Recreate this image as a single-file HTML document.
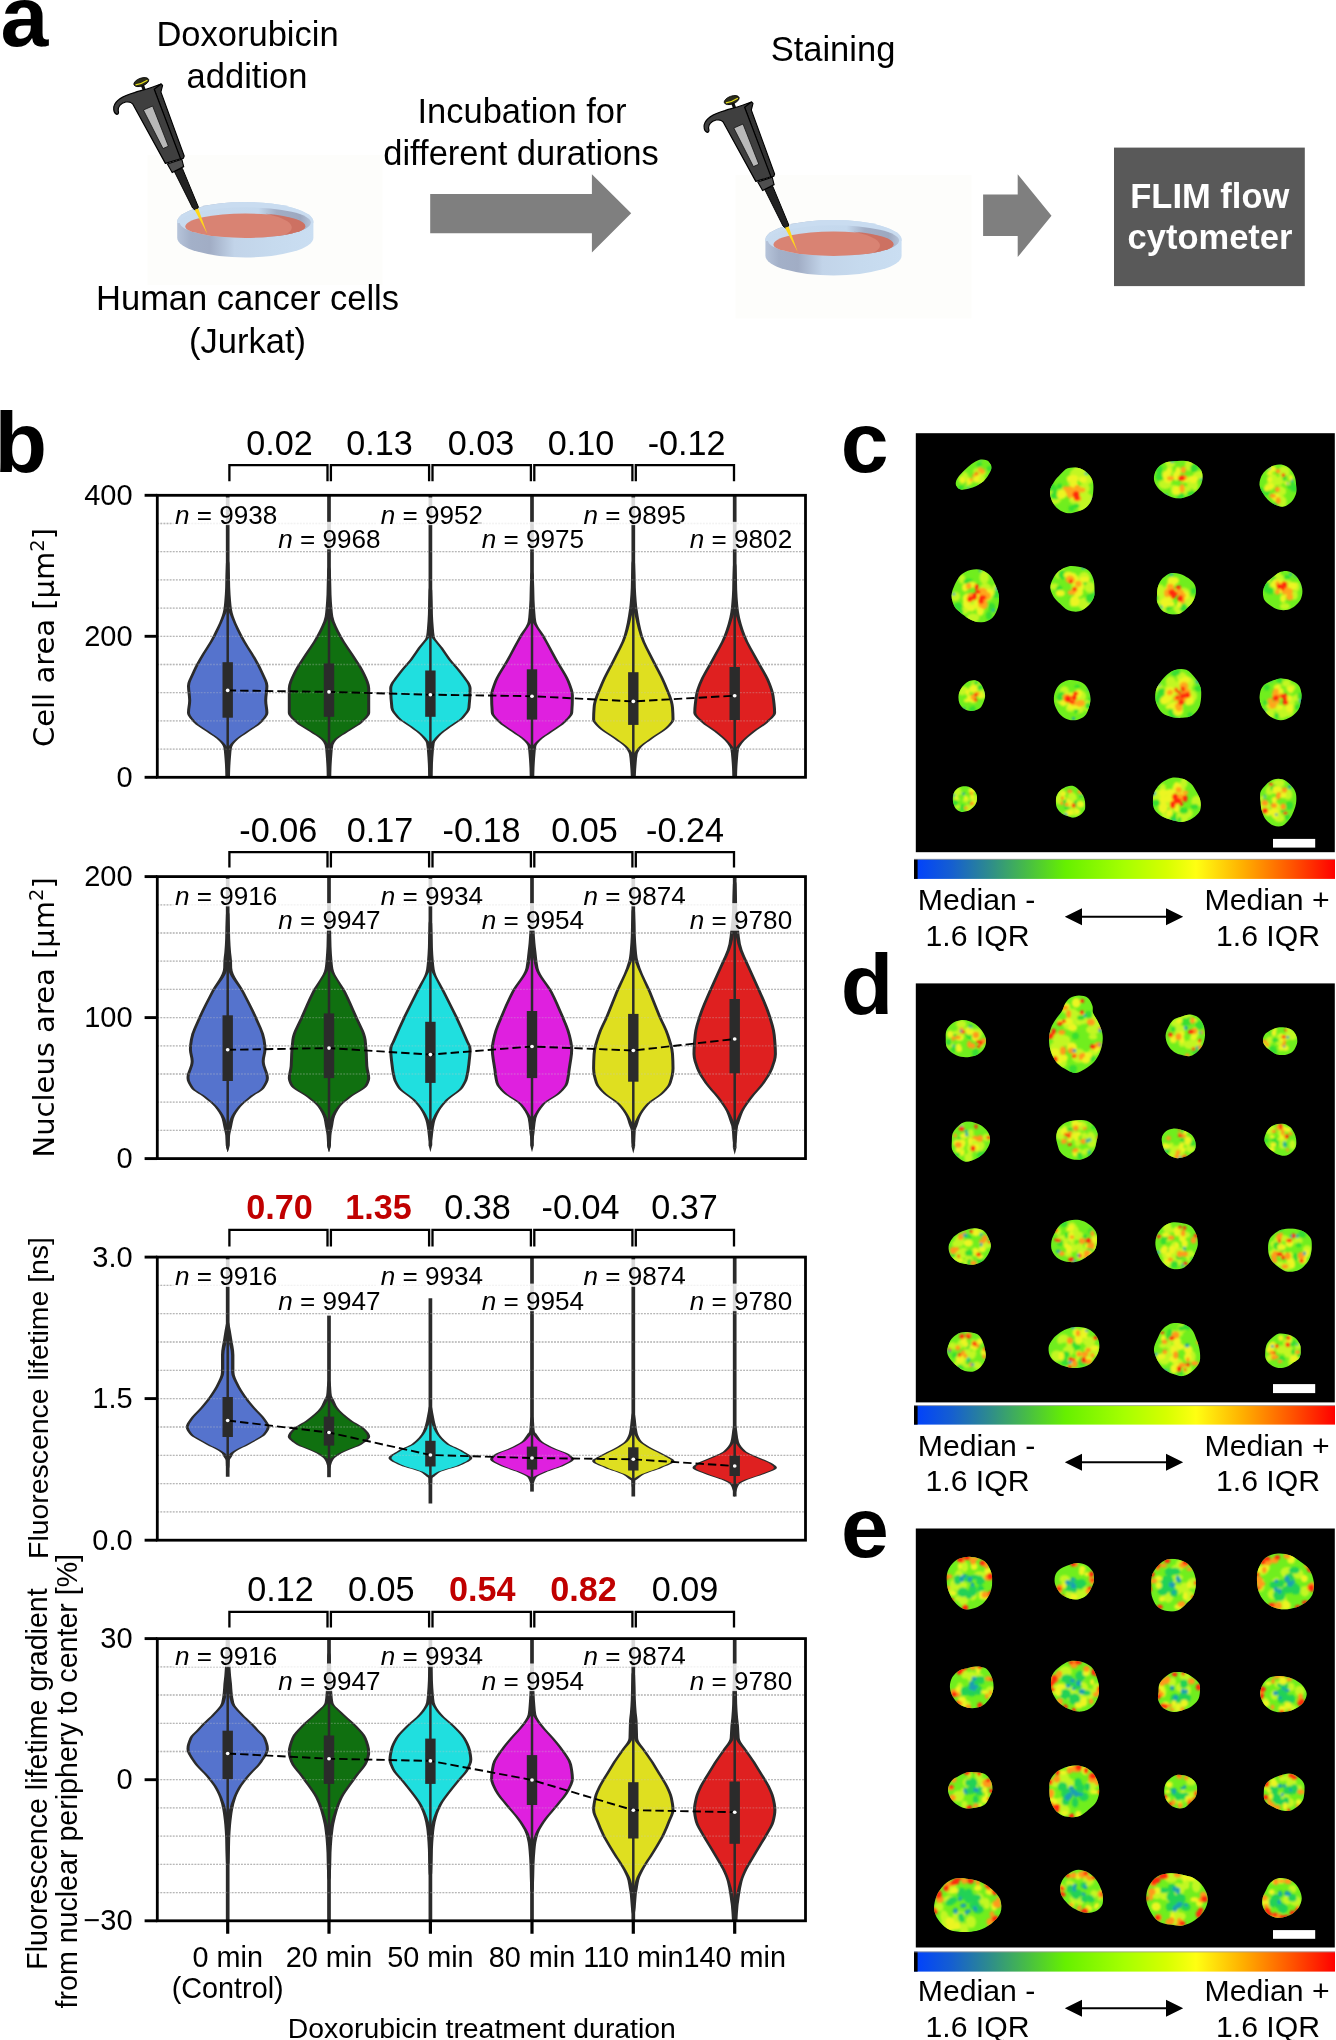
<!DOCTYPE html>
<html><head><meta charset="utf-8"><title>Figure</title>
<style>html,body{margin:0;padding:0;background:#fff}svg{display:block;will-change:transform}</style></head>
<body>
<svg width="1336" height="2040" viewBox="0 0 1336 2040" font-family='"Liberation Sans", sans-serif' fill="#000">
<defs><linearGradient id="dishSide" x1="0" x2="1" y1="0" y2="0"><stop offset="0" stop-color="#b6c4da"/><stop offset="0.1" stop-color="#a3b0c8"/><stop offset="0.24" stop-color="#a1adc5"/><stop offset="0.42" stop-color="#c2d4e9"/><stop offset="0.7" stop-color="#c6daee"/><stop offset="1" stop-color="#cadef2"/></linearGradient>
<linearGradient id="dishRim" x1="0" x2="1" y1="0" y2="0"><stop offset="0" stop-color="#c8dbef"/><stop offset="0.6" stop-color="#c4d8ed"/><stop offset="0.74" stop-color="#a2aec5"/><stop offset="0.92" stop-color="#9da8bf"/><stop offset="1" stop-color="#b4c3d9"/></linearGradient>
<filter id="bl" x="-20%" y="-20%" width="140%" height="140%"><feGaussianBlur stdDeviation="1.25"/></filter>
<linearGradient id="jet" x1="0" x2="1" y1="0" y2="0"><stop offset="0" stop-color="#0040ff"/><stop offset="0.09" stop-color="#155fd0"/><stop offset="0.18" stop-color="#2e8c8c"/><stop offset="0.27" stop-color="#48be44"/><stop offset="0.36" stop-color="#66f000"/><stop offset="0.5" stop-color="#a6ff00"/><stop offset="0.6" stop-color="#d6ff00"/><stop offset="0.67" stop-color="#ffff12"/><stop offset="0.78" stop-color="#ffb000"/><stop offset="0.9" stop-color="#ff5200"/><stop offset="1" stop-color="#ff0000"/></linearGradient>
<clipPath id="dishIn0"><ellipse cx="245.3" cy="222.6" rx="65.6" ry="15.3"/></clipPath>
<clipPath id="dishIn588"><ellipse cx="245.3" cy="222.6" rx="65.6" ry="15.3"/></clipPath>
<clipPath id="pc0"><rect x="157.3" y="495.3" width="648.2" height="282"/></clipPath>
<clipPath id="pc1"><rect x="157.3" y="876.6" width="648.2" height="282"/></clipPath>
<clipPath id="pc2"><rect x="157.3" y="1257.1" width="648.2" height="283.1"/></clipPath>
<clipPath id="pc3"><rect x="157.3" y="1638.6" width="648.2" height="282.2"/></clipPath>
<clipPath id="k1"><path d="M19.9 0C19.8 1.6 19.2 3.4 17.9 4.7C16.6 6.1 14.2 7.3 12 8.2C9.7 9.2 7.1 10.2 4.4 10.6C1.7 10.9 -1.6 10.7 -4.3 10.3C-7 9.9 -9.5 9.1 -11.9 8.2C-14.2 7.3 -17.1 6.3 -18.6 4.9C-20.1 3.6 -20.9 1.6 -20.9 0C-20.9 -1.6 -20.2 -3.6 -18.6 -4.9C-17.1 -6.3 -14 -7.2 -11.6 -8C-9.1 -8.7 -6.6 -9.2 -4 -9.6C-1.3 -10 1.4 -10.4 4.3 -10.4C7.2 -10.3 10.9 -10.1 13.3 -9.2C15.7 -8.3 17.6 -6.5 18.7 -4.9C19.8 -3.4 20 -1.6 19.9 0Z"/></clipPath>
<clipPath id="k2"><path d="M20.9 0C20.7 3.3 20.2 6.8 18.8 9.7C17.5 12.6 15.3 15.4 12.9 17.3C10.5 19.2 7.4 20.1 4.5 21C1.5 21.9 -1.7 22.9 -4.8 22.5C-7.9 22.1 -11.3 20.6 -13.9 18.6C-16.5 16.6 -18.9 13.6 -20.3 10.5C-21.7 7.4 -22.7 3.3 -22.3 0C-22 -3.3 -19.8 -6.6 -18.1 -9.3C-16.4 -12 -14.4 -14.1 -12.2 -16.3C-9.9 -18.5 -7.6 -21.3 -4.8 -22.4C-1.9 -23.5 1.8 -23.5 4.9 -22.9C8 -22.3 11.4 -20.8 13.9 -18.7C16.5 -16.6 18.9 -13.5 20.1 -10.3C21.2 -7.2 21.1 -3.3 20.9 0Z"/></clipPath>
<clipPath id="k3"><path d="M24 0C23.7 3 22.7 6.1 21 8.6C19.4 11.1 16.7 13.3 14.1 15C11.4 16.7 8.2 18.1 5 18.7C1.8 19.4 -1.9 19.4 -5 18.7C-8.2 18 -11.2 16.5 -13.9 14.8C-16.5 13.1 -19.1 11 -20.9 8.6C-22.7 6.1 -24.4 2.9 -24.6 0C-24.8 -2.9 -23.9 -6.5 -22.2 -9.1C-20.6 -11.7 -17.7 -14.3 -14.8 -15.7C-11.8 -17.2 -8 -17.3 -4.8 -17.7C-1.5 -18.1 1.7 -18.6 4.9 -18.2C8.1 -17.9 11.7 -17.1 14.6 -15.6C17.5 -14.1 20.8 -11.8 22.4 -9.2C24 -6.6 24.2 -3 24 0Z"/></clipPath>
<clipPath id="k4"><path d="M17.2 0C17.3 2.8 17.8 5.9 17.1 8.7C16.3 11.4 14.7 14.6 12.7 16.7C10.6 18.9 7.5 21.1 4.7 21.6C1.9 22 -1.6 20.8 -4.3 19.6C-6.9 18.5 -9.2 16.6 -11.1 14.7C-13.1 12.8 -14.7 10.6 -16.1 8.1C-17.4 5.7 -19.1 2.8 -19.4 0C-19.6 -2.8 -18.7 -6.2 -17.5 -8.9C-16.2 -11.5 -14.1 -13.9 -11.9 -15.7C-9.7 -17.5 -7 -19.1 -4.3 -19.8C-1.6 -20.5 1.6 -20.6 4.3 -19.9C7 -19.2 9.8 -17.5 11.7 -15.5C13.7 -13.5 15.1 -10.7 16 -8.1C16.9 -5.5 17 -2.8 17.2 0Z"/></clipPath>
<clipPath id="k5"><path d="M22.9 0C23.3 3.6 23.2 7.7 22.2 11.4C21.1 15.1 19.3 19.5 16.5 22.1C13.8 24.7 9.4 26.6 5.8 26.9C2.1 27.3 -1.9 25.6 -5.2 24.1C-8.4 22.7 -11 20.6 -13.8 18.4C-16.5 16.2 -19.6 14.1 -21.4 11C-23.2 7.9 -24.4 3.6 -24.3 0C-24.3 -3.6 -22.7 -7.5 -21.2 -10.9C-19.6 -14.3 -17.8 -17.9 -15.2 -20.4C-12.6 -22.8 -8.9 -24.6 -5.4 -25.5C-2 -26.3 2.1 -26.6 5.5 -25.6C8.8 -24.6 12.3 -22.2 14.7 -19.6C17 -17 18.3 -13.4 19.7 -10.1C21 -6.8 22.5 -3.6 22.9 0Z"/></clipPath>
<clipPath id="k6"><path d="M20.9 0C21 3 21.4 6.3 20.4 9.2C19.4 12.1 17.4 15.2 14.9 17.5C12.5 19.9 9.1 22.5 5.7 23.3C2.3 24.1 -2.2 23.5 -5.4 22.2C-8.6 21 -11.1 18 -13.4 15.8C-15.8 13.5 -18.2 11.5 -19.8 8.9C-21.4 6.3 -23 3 -23.1 0C-23.2 -3 -22 -6.4 -20.5 -9.2C-19.1 -12.1 -17 -14.9 -14.5 -16.9C-11.9 -19 -8.5 -20.9 -5.3 -21.6C-2 -22.3 1.8 -21.8 5.2 -21.2C8.5 -20.5 12.6 -19.7 15 -17.6C17.5 -15.6 18.9 -11.9 19.9 -9C20.9 -6 20.8 -3 20.9 0Z"/></clipPath>
<clipPath id="k7"><path d="M20.2 0C19.9 2.9 18.6 5.7 17.2 8.1C15.8 10.5 13.8 12.4 11.7 14.4C9.6 16.3 7.4 18.7 4.6 19.8C1.9 20.8 -1.8 21.1 -4.8 20.6C-7.8 20 -11.3 18.6 -13.6 16.6C-15.8 14.6 -17.4 11.3 -18.3 8.6C-19.1 5.8 -18.6 2.8 -18.4 0C-18.3 -2.8 -18.1 -5.5 -17.2 -8.1C-16.2 -10.7 -14.8 -13.5 -12.7 -15.6C-10.6 -17.6 -7.7 -19.8 -4.8 -20.5C-1.9 -21.2 1.7 -20.6 4.6 -19.8C7.6 -19 10.3 -17.4 12.8 -15.6C15.2 -13.8 18 -11.6 19.2 -9C20.5 -6.4 20.5 -2.9 20.2 0Z"/></clipPath>
<clipPath id="k8"><path d="M19 0C19.1 2.8 18.4 6 17.2 8.5C15.9 11 13.7 13.2 11.6 14.9C9.4 16.6 6.8 18.1 4.2 18.8C1.5 19.4 -1.5 19.4 -4.2 18.8C-6.8 18.2 -9.4 16.8 -11.8 15.2C-14.2 13.6 -17.3 11.8 -18.8 9.3C-20.2 6.7 -20.7 2.9 -20.4 0C-20.1 -2.9 -18.4 -6 -16.8 -8.3C-15.2 -10.6 -12.7 -11.9 -10.6 -13.7C-8.5 -15.4 -6.6 -17.6 -4.1 -18.6C-1.6 -19.7 1.7 -20.3 4.4 -19.8C7.1 -19.3 10 -17.5 12.1 -15.6C14.2 -13.7 15.8 -11 17 -8.4C18.1 -5.8 19 -2.8 19 0Z"/></clipPath>
<clipPath id="k9"><path d="M13.1 0C13 2.2 12.2 4.5 11.4 6.5C10.6 8.6 9.6 10.8 8.1 12.1C6.7 13.4 4.6 13.9 2.7 14.4C0.9 14.8 -1 15.1 -2.8 14.8C-4.7 14.5 -6.8 13.8 -8.4 12.6C-10 11.3 -11.7 9.3 -12.6 7.2C-13.4 5.1 -13.7 2.3 -13.5 0C-13.3 -2.3 -12.4 -4.6 -11.4 -6.5C-10.4 -8.5 -9.1 -10.1 -7.7 -11.4C-6.2 -12.8 -4.6 -14.2 -2.8 -14.9C-1.1 -15.6 1.1 -16.1 3 -15.7C4.9 -15.4 7 -14.1 8.4 -12.6C9.9 -11.1 10.8 -8.8 11.6 -6.7C12.4 -4.6 13.1 -2.2 13.1 0Z"/></clipPath>
<clipPath id="k10"><path d="M18 0C18 2.7 17.2 5.4 16.3 8.1C15.4 10.7 14.4 14 12.5 16C10.5 18 7.3 19.5 4.5 20.1C1.7 20.7 -1.7 20.5 -4.4 19.6C-7.1 18.8 -9.7 17 -11.7 15.1C-13.7 13.1 -15.3 10.6 -16.4 8.1C-17.6 5.6 -18.5 2.8 -18.6 0C-18.7 -2.8 -18.2 -5.9 -17.1 -8.5C-16.1 -11.1 -14.3 -13.8 -12.2 -15.7C-10 -17.5 -7.1 -19 -4.4 -19.6C-1.6 -20.1 1.5 -19.7 4.2 -19C7 -18.3 10 -17.3 12 -15.5C14.1 -13.7 15.7 -10.8 16.7 -8.2C17.7 -5.7 18.1 -2.7 18 0Z"/></clipPath>
<clipPath id="k11"><path d="M22.6 0C22.4 3.6 20.9 7.2 19.5 10.4C18 13.6 16.2 17 13.8 19.2C11.4 21.5 8 23.2 4.9 23.8C1.8 24.4 -1.6 23.6 -4.7 22.8C-7.8 21.9 -10.7 20.8 -13.6 18.9C-16.5 17.1 -20.1 14.9 -21.9 11.7C-23.7 8.6 -24.7 3.8 -24.5 0C-24.4 -3.8 -22.9 -8.2 -21 -11.2C-19.1 -14.3 -15.9 -16.4 -13.2 -18.3C-10.5 -20.3 -7.8 -21.9 -4.7 -23C-1.7 -24.1 1.8 -25.2 5.1 -24.9C8.4 -24.6 12.6 -23.4 15.2 -21.1C17.7 -18.8 19.4 -14.6 20.6 -11C21.9 -7.5 22.8 -3.6 22.6 0Z"/></clipPath>
<clipPath id="k12"><path d="M21.3 0C21 2.7 19.9 5.3 18.7 7.8C17.5 10.3 16.2 13.2 14 15.2C11.8 17.3 8.5 19.1 5.3 20.1C2 21 -2.3 21.7 -5.5 20.9C-8.7 20.1 -11.9 17.5 -14.1 15.3C-16.3 13.1 -17.6 10.4 -18.7 7.8C-19.9 5.3 -20.7 2.7 -20.9 0C-21.1 -2.7 -20.7 -5.5 -19.7 -8.2C-18.7 -10.9 -17.2 -14.3 -14.8 -16.1C-12.4 -17.9 -8.4 -18.7 -5.1 -19.2C-1.7 -19.8 1.9 -20 5.1 -19.4C8.3 -18.7 11.4 -17 14 -15.2C16.6 -13.4 19.3 -11.1 20.5 -8.6C21.8 -6 21.6 -2.7 21.3 0Z"/></clipPath>
<clipPath id="k13"><path d="M12.5 0C12.4 1.8 11.9 3.7 11 5.3C10.2 6.9 8.8 8.2 7.4 9.3C6.1 10.5 4.5 11.5 2.8 12.1C1 12.7 -1.1 13.2 -3 12.9C-4.8 12.6 -6.8 11.5 -8.1 10.2C-9.4 8.9 -10.2 6.9 -10.8 5.2C-11.4 3.5 -11.8 1.7 -11.8 0C-11.8 -1.7 -11.6 -3.6 -11 -5.3C-10.3 -6.9 -9.2 -8.6 -7.8 -9.8C-6.4 -11 -4.6 -11.9 -2.8 -12.4C-1.1 -12.9 1.1 -12.9 2.9 -12.5C4.7 -12.2 6.6 -11.2 8 -10.1C9.5 -8.9 11 -7.3 11.7 -5.6C12.5 -4 12.6 -1.8 12.5 0Z"/></clipPath>
<clipPath id="k14"><path d="M14.6 0C14.9 2.3 15.3 5.1 14.5 7.2C13.7 9.3 11.7 11.4 9.9 12.8C8 14.2 5.6 15.4 3.5 15.6C1.3 15.9 -1.1 14.8 -3.1 14C-5.1 13.3 -7.1 12.6 -8.8 11.4C-10.5 10.1 -12.3 8.5 -13.2 6.6C-14.2 4.7 -14.6 2.2 -14.6 0C-14.7 -2.2 -14.5 -4.8 -13.6 -6.8C-12.8 -8.8 -11.1 -10.7 -9.4 -12.2C-7.7 -13.6 -5.6 -15 -3.4 -15.6C-1.3 -16.2 1.4 -16.4 3.5 -15.7C5.5 -15 7.4 -13.1 8.9 -11.6C10.5 -10 11.8 -8.3 12.8 -6.3C13.7 -4.4 14.3 -2.3 14.6 0Z"/></clipPath>
<clipPath id="k15"><path d="M23.6 0C24.2 3.2 24.7 7.3 23.5 10.4C22.2 13.4 18.9 16.4 15.9 18.3C12.9 20.3 8.9 21.7 5.5 22C2 22.2 -1.6 20.8 -4.9 19.9C-8.3 18.9 -11.5 18.2 -14.4 16.5C-17.2 14.8 -20.4 12.5 -22 9.7C-23.6 7 -23.8 3.2 -23.7 0C-23.6 -3.2 -22.9 -6.6 -21.4 -9.4C-19.9 -12.3 -17.6 -15.1 -15 -17.2C-12.3 -19.3 -8.9 -21.4 -5.5 -22.1C-2.1 -22.8 2 -22.4 5.3 -21.4C8.6 -20.5 11.9 -18.5 14.3 -16.4C16.7 -14.3 18.1 -11.4 19.6 -8.7C21.2 -5.9 22.9 -3.2 23.6 0Z"/></clipPath>
<clipPath id="k16"><path d="M18.2 0C17.9 3.2 16.9 6.2 15.8 9C14.7 11.8 13.4 14.6 11.5 17.1C9.6 19.5 7.3 22.7 4.6 23.8C1.9 24.9 -1.8 24.6 -4.5 23.6C-7.3 22.6 -10.1 20.2 -12 17.8C-13.9 15.4 -15.2 12.1 -16.1 9.2C-17 6.2 -17.2 3.2 -17.4 0C-17.6 -3.2 -18.4 -7 -17.5 -10C-16.5 -12.9 -14 -15.4 -11.8 -17.6C-9.6 -19.7 -7.1 -21.7 -4.4 -22.6C-1.7 -23.5 1.7 -23.6 4.4 -22.8C7.1 -22 9.8 -19.9 11.9 -17.7C14.1 -15.6 16.4 -12.9 17.4 -9.9C18.5 -7 18.5 -3.2 18.2 0Z"/></clipPath>
<clipPath id="k17"><path d="M20.8 0C21.2 2.8 20.6 6.3 19.3 8.8C18 11.4 15.4 13.8 12.9 15.3C10.4 16.9 7.2 17.6 4.3 18C1.5 18.4 -1.5 18.4 -4.3 17.8C-7 17.2 -9.8 16 -12.1 14.5C-14.5 12.9 -17 10.8 -18.3 8.4C-19.5 5.9 -19.5 2.8 -19.5 0C-19.6 -2.8 -19.8 -6 -18.7 -8.6C-17.7 -11.2 -15.5 -13.9 -13.1 -15.6C-10.8 -17.3 -7.4 -18.4 -4.5 -18.8C-1.6 -19.1 1.6 -18.7 4.3 -17.8C6.9 -17 9.4 -15.4 11.5 -13.7C13.6 -12 15.5 -10.1 17 -7.8C18.6 -5.5 20.4 -2.8 20.8 0Z"/></clipPath>
<clipPath id="k18"><path d="M3 -40.5C6 -40.5 9.8 -39.8 12 -38C14.2 -36.2 15.7 -32.5 16.5 -30C17.3 -27.5 16.2 -25.3 17 -23C17.8 -20.7 19.6 -18.8 21 -16C22.4 -13.2 24.5 -9.3 25.5 -6C26.5 -2.7 27 0.3 26.7 4C26.5 7.7 25.5 12.3 24 16C22.5 19.7 20.5 23.2 18 26C15.5 28.8 12 31.2 9 33C6 34.8 3 36.8 0 37C-3 37.2 -5.8 35.7 -9 34C-12.2 32.3 -16.3 30 -19 27C-21.7 24 -23.7 19.8 -25 16C-26.3 12.2 -27 8 -27 4C-27 0 -26.2 -4.5 -25 -8C-23.8 -11.5 -21.8 -14.2 -20 -17C-18.2 -19.8 -15.5 -22.5 -14 -25C-12.5 -27.5 -12.3 -29.8 -11 -32C-9.7 -34.2 -8.3 -36.6 -6 -38C-3.7 -39.4 0 -40.5 3 -40.5Z"/></clipPath>
<clipPath id="k19"><path d="M19 0C18.9 3.1 18.2 6.5 16.9 9.2C15.7 11.9 13.6 14.3 11.5 16.3C9.4 18.3 6.8 20.4 4.2 20.9C1.6 21.5 -1.3 20.6 -4 19.9C-6.7 19.2 -9.5 18.5 -11.9 16.8C-14.2 15.2 -16.7 12.7 -18.1 9.9C-19.5 7.1 -20.6 3.2 -20.4 0C-20.3 -3.2 -18.6 -6.6 -17.1 -9.3C-15.6 -12 -13.6 -14.6 -11.4 -16.1C-9.1 -17.7 -6.4 -17.9 -3.8 -18.7C-1.2 -19.4 1.5 -20.8 4.2 -20.6C6.8 -20.4 10.2 -19.4 12.4 -17.6C14.6 -15.8 16.5 -12.5 17.6 -9.6C18.7 -6.7 19.1 -3.1 19 0Z"/></clipPath>
<clipPath id="k20"><path d="M16.6 0C16.6 1.9 15.9 3.7 15.1 5.6C14.2 7.5 13.3 9.7 11.5 11.1C9.7 12.5 6.7 13.6 4.2 14C1.6 14.4 -1.6 14.2 -4 13.5C-6.4 12.8 -8.2 11.1 -10.1 9.8C-11.9 8.4 -13.8 7.2 -15.1 5.6C-16.4 4 -17.7 1.9 -17.9 0C-18.1 -1.9 -17.5 -4.3 -16.3 -6C-15.1 -7.8 -12.8 -9.2 -10.7 -10.4C-8.7 -11.5 -6.3 -12.6 -3.9 -13.1C-1.4 -13.6 1.4 -13.7 3.9 -13.3C6.5 -13 9.3 -12.1 11.2 -10.8C13.1 -9.6 14.3 -7.4 15.2 -5.6C16.1 -3.8 16.6 -1.9 16.6 0Z"/></clipPath>
<clipPath id="k21"><path d="M19.9 0C19.7 2.7 18.2 5.4 16.8 7.7C15.4 10 13.5 11.9 11.5 13.7C9.4 15.4 7.1 17.1 4.4 18.2C1.6 19.3 -2 20.8 -4.9 20.4C-7.8 19.9 -10.8 17.5 -13 15.4C-15.2 13.4 -17.2 10.9 -18.1 8.3C-19 5.7 -18.5 2.7 -18.4 0C-18.2 -2.7 -18.5 -5.5 -17.5 -8C-16.5 -10.5 -14.5 -12.8 -12.4 -14.8C-10.3 -16.7 -7.5 -18.9 -4.7 -19.5C-1.9 -20.1 1.6 -19.4 4.5 -18.6C7.3 -17.8 10.2 -16.6 12.5 -14.9C14.8 -13.2 17.1 -10.9 18.3 -8.4C19.6 -5.9 20.2 -2.7 19.9 0Z"/></clipPath>
<clipPath id="k22"><path d="M21.5 0C21.2 2.6 19.4 5.1 18.1 7.5C16.8 10 15.8 12.8 13.7 14.8C11.5 16.9 8.4 19 5.2 19.8C2.1 20.6 -2 20.5 -5.2 19.8C-8.4 19 -11.7 17.1 -14 15.2C-16.4 13.2 -18.3 10.6 -19.3 8C-20.3 5.5 -20.1 2.7 -20.2 0C-20.2 -2.7 -20.4 -5.5 -19.4 -8.1C-18.5 -10.7 -16.9 -13.8 -14.5 -15.7C-12.1 -17.6 -8.4 -19 -5.1 -19.4C-1.9 -19.9 1.7 -19.2 4.9 -18.5C8.1 -17.8 11.7 -17.1 14.2 -15.4C16.7 -13.7 18.7 -10.8 19.9 -8.3C21.1 -5.7 21.8 -2.6 21.5 0Z"/></clipPath>
<clipPath id="k23"><path d="M17.8 0C17.7 2.2 15.8 4.5 14.5 6.4C13.2 8.2 11.7 9.9 9.9 11.2C8.1 12.6 5.9 14 3.7 14.6C1.4 15.1 -1.4 15.2 -3.7 14.7C-6 14.2 -8.4 13.1 -10.3 11.7C-12.1 10.3 -13.5 8.4 -14.8 6.5C-16 4.5 -17.5 2.2 -17.7 0C-17.9 -2.2 -17.2 -5 -15.9 -7C-14.7 -8.9 -12.3 -10.6 -10.3 -11.7C-8.2 -12.8 -5.7 -13.2 -3.4 -13.6C-1.1 -13.9 1.1 -14 3.4 -13.7C5.7 -13.4 8.4 -13 10.4 -11.9C12.4 -10.7 14.3 -8.8 15.5 -6.8C16.7 -4.8 18 -2.2 17.8 0Z"/></clipPath>
<clipPath id="k24"><path d="M15.4 0C15.6 2.2 15.8 4.8 15 7C14.3 9.2 12.6 11.5 10.8 13.1C8.9 14.7 6.2 16.1 3.9 16.4C1.5 16.7 -1.3 15.7 -3.5 14.9C-5.7 14 -7.4 12.5 -9.2 11.2C-10.9 9.8 -12.9 8.4 -14.1 6.6C-15.3 4.7 -16.3 2.2 -16.4 0C-16.4 -2.2 -15.5 -4.7 -14.5 -6.8C-13.5 -8.8 -12 -10.9 -10.1 -12.3C-8.3 -13.8 -5.9 -14.8 -3.6 -15.4C-1.3 -15.9 1.4 -16.1 3.6 -15.5C5.9 -14.9 8.2 -13.5 9.9 -12C11.5 -10.4 12.5 -8.3 13.5 -6.3C14.4 -4.3 15.1 -2.2 15.4 0Z"/></clipPath>
<clipPath id="k25"><path d="M20.7 0C20.5 2.8 19.1 5.7 17.7 8.1C16.3 10.5 14.5 13 12.2 14.6C10 16.2 7 17.3 4.3 17.8C1.5 18.3 -1.4 18 -4.2 17.5C-7 17.1 -10.1 16.6 -12.7 15.1C-15.2 13.7 -18 11.4 -19.5 8.9C-21 6.4 -22 2.8 -21.7 0C-21.4 -2.8 -19.6 -5.9 -17.9 -8.2C-16.2 -10.4 -13.7 -12.1 -11.4 -13.6C-9.1 -15 -6.7 -16 -4 -16.7C-1.4 -17.5 1.5 -18.4 4.4 -18.3C7.3 -18.1 11 -17.5 13.4 -15.9C15.7 -14.3 17.2 -11.1 18.4 -8.4C19.6 -5.8 20.8 -2.8 20.7 0Z"/></clipPath>
<clipPath id="k26"><path d="M22.7 0C22.5 3.1 22 6.4 20.4 9C18.8 11.5 15.9 13.4 13.3 15.2C10.7 17.1 8.1 19 5 20.1C1.9 21.1 -1.9 21.6 -5.3 21.2C-8.8 20.9 -12.8 19.8 -15.7 17.9C-18.5 16 -21.1 12.8 -22.3 9.8C-23.5 6.8 -23.3 3 -22.8 0C-22.3 -3 -20.8 -5.8 -19.3 -8.5C-17.8 -11.2 -16.4 -14.1 -14 -16.1C-11.7 -18 -8.3 -19.7 -5.1 -20.5C-1.9 -21.3 1.9 -21.4 5.2 -20.8C8.5 -20.2 11.8 -18.5 14.5 -16.6C17.2 -14.7 20 -12.2 21.4 -9.4C22.8 -6.6 22.9 -3.1 22.7 0Z"/></clipPath>
<clipPath id="k27"><path d="M21.2 0C20.9 3.1 19.5 6.1 18.2 9C16.9 11.8 15.6 14.8 13.5 17.3C11.3 19.8 8.5 22.9 5.3 23.9C2.2 25 -2.1 24.7 -5.3 23.7C-8.5 22.6 -11.5 20.1 -13.8 17.7C-16 15.2 -17.4 12.1 -18.7 9.2C-19.9 6.3 -21 3.1 -21.2 0C-21.4 -3.1 -20.9 -6.7 -19.6 -9.7C-18.4 -12.6 -16.2 -15.5 -13.7 -17.6C-11.3 -19.7 -8 -21.4 -4.9 -22.1C-1.8 -22.8 1.6 -22.3 4.8 -21.7C8.1 -21.1 12 -20.5 14.5 -18.5C17 -16.6 18.8 -12.9 19.9 -9.8C21 -6.7 21.4 -3.1 21.2 0Z"/></clipPath>
<clipPath id="k28"><path d="M21.4 0C21.1 3.4 20.5 6.9 19.1 9.9C17.8 12.8 15.5 15.6 13.1 17.7C10.7 19.7 7.7 21.4 4.7 22.1C1.7 22.8 -1.8 22.9 -4.7 22C-7.6 21.2 -10.2 19 -12.7 17.1C-15.2 15.1 -18 12.9 -19.5 10.1C-21.1 7.2 -22 3.4 -22.1 0C-22.3 -3.4 -21.9 -7.6 -20.4 -10.5C-18.9 -13.4 -15.7 -15.8 -13 -17.5C-10.3 -19.1 -7.2 -19.9 -4.3 -20.4C-1.5 -20.9 1.4 -20.9 4.4 -20.5C7.3 -20 10.5 -19.3 13.2 -17.7C15.9 -16.1 19.3 -13.6 20.6 -10.7C22 -7.7 21.6 -3.4 21.4 0Z"/></clipPath>
<clipPath id="k29"><path d="M19.6 0C20 2.7 19.5 5.8 18.5 8.5C17.5 11.2 15.9 14.4 13.5 16.1C11.2 17.9 7.5 18.8 4.6 19C1.6 19.2 -1.4 18.1 -4.2 17.3C-6.9 16.5 -9.4 15.5 -11.8 14C-14.1 12.5 -16.8 10.6 -18.1 8.3C-19.5 6 -19.9 2.8 -19.9 0C-19.9 -2.8 -19.4 -5.8 -18.2 -8.3C-17 -10.9 -15.1 -13.5 -12.8 -15.3C-10.5 -17 -7.4 -18.1 -4.5 -18.8C-1.6 -19.5 2 -20.4 4.7 -19.6C7.4 -18.8 9.9 -16.1 11.8 -14.1C13.8 -12.1 15.1 -9.8 16.4 -7.5C17.7 -5.2 19.3 -2.7 19.6 0Z"/></clipPath>
<clipPath id="k30"><path d="M25 0C24.8 3.1 23.4 6.2 21.8 9C20.2 11.7 18.1 14.7 15.4 16.6C12.7 18.4 8.8 19.6 5.4 20.1C1.9 20.6 -1.8 20.4 -5.3 19.8C-8.7 19.2 -12.2 18.1 -15.3 16.4C-18.3 14.7 -21.6 12.4 -23.4 9.7C-25.2 6.9 -26.2 3.1 -25.9 0C-25.6 -3.1 -23.3 -6.3 -21.4 -8.8C-19.4 -11.4 -16.9 -13.4 -14.2 -15.2C-11.5 -17 -8.5 -18.5 -5.2 -19.5C-1.9 -20.4 2 -21.1 5.5 -20.8C9.1 -20.5 13.3 -19.3 16.2 -17.5C19.2 -15.6 21.9 -12.5 23.3 -9.6C24.8 -6.7 25.3 -3.1 25 0Z"/></clipPath>
<clipPath id="k31"><path d="M21.8 0C22.3 3.6 23.1 8.2 22 11.8C20.9 15.3 18 18.7 15.2 21.2C12.5 23.6 8.8 26 5.5 26.5C2.1 27 -1.8 25.5 -5 24.2C-8.2 23 -11.3 21.5 -13.9 19.3C-16.4 17 -18.5 14 -20.2 10.8C-21.8 7.5 -23.8 3.6 -23.8 0C-23.8 -3.6 -21.8 -7.4 -20.3 -10.8C-18.8 -14.3 -17.3 -18.1 -14.8 -20.6C-12.4 -23.2 -8.8 -25.5 -5.4 -26.3C-2.1 -27.1 2 -26.6 5.3 -25.5C8.5 -24.5 12 -22.5 14.3 -19.9C16.6 -17.3 17.6 -13.4 18.8 -10C20.1 -6.7 21.3 -3.6 21.8 0Z"/></clipPath>
<clipPath id="k32"><path d="M18.1 0C18.1 2.4 17.8 5.2 16.6 7.1C15.3 9.1 12.7 10.4 10.6 11.8C8.5 13.3 6.6 15.1 4.1 16C1.6 16.9 -1.7 17.6 -4.4 17.2C-7.1 16.8 -10.2 15.4 -12.3 13.8C-14.5 12.2 -16.3 9.7 -17.1 7.4C-17.9 5.1 -17.5 2.4 -17.2 0C-17 -2.4 -16.8 -4.7 -15.8 -6.8C-14.8 -8.9 -13 -10.7 -11.1 -12.5C-9.2 -14.2 -6.9 -16.4 -4.4 -17.1C-1.8 -17.8 1.5 -17.1 4.2 -16.5C6.9 -15.8 9.8 -14.8 11.9 -13.3C14 -11.7 15.8 -9.4 16.8 -7.2C17.9 -5 18.2 -2.4 18.1 0Z"/></clipPath>
<clipPath id="k33"><path d="M22.9 0C22.8 3.6 22.1 7.3 20.8 10.6C19.4 14 17.5 17.4 15 20C12.5 22.6 9.1 24.9 5.6 26C2.1 27.2 -2.4 28.1 -5.8 27.1C-9.2 26 -12.5 22.6 -14.9 19.8C-17.3 17 -19 13.7 -20.3 10.4C-21.6 7.1 -22.5 3.6 -22.7 0C-22.9 -3.6 -22.8 -7.7 -21.6 -11.1C-20.4 -14.4 -17.9 -18 -15.2 -20.3C-12.5 -22.6 -8.7 -24 -5.3 -24.7C-1.9 -25.5 1.9 -25.4 5.3 -24.7C8.7 -24 12.7 -22.7 15.4 -20.5C18 -18.2 20.2 -14.4 21.4 -11C22.7 -7.6 23 -3.6 22.9 0Z"/></clipPath>
<clipPath id="k34"><path d="M19.6 0C19.2 2.8 18 5.4 16.7 7.8C15.4 10.3 14 12.9 12 14.6C9.9 16.4 7 17.7 4.3 18.3C1.6 18.8 -1.5 18.4 -4.2 17.8C-6.8 17.1 -9.6 16 -11.8 14.4C-13.9 12.8 -15.7 10.4 -17.1 8C-18.4 5.6 -19.8 2.7 -19.9 0C-20 -2.7 -19.2 -6.1 -17.7 -8.3C-16.3 -10.6 -13.5 -12.2 -11.1 -13.6C-8.8 -14.9 -6.4 -15.7 -3.8 -16.4C-1.3 -17.1 1.4 -18 4.2 -17.8C6.9 -17.7 10.1 -16.8 12.6 -15.3C15 -13.8 17.5 -11.3 18.7 -8.8C19.8 -6.2 19.9 -2.8 19.6 0Z"/></clipPath>
<clipPath id="k35"><path d="M23 0C22.9 3.7 22.2 7.7 20.7 10.8C19.1 13.9 16.3 16.2 13.7 18.7C11.2 21.1 8.6 24.2 5.4 25.5C2.2 26.8 -2 27.1 -5.6 26.4C-9.1 25.8 -13.2 24.1 -15.8 21.5C-18.4 18.9 -20.1 14.6 -21.1 11C-22 7.4 -21.6 3.6 -21.5 0C-21.4 -3.6 -21.6 -7.4 -20.4 -10.7C-19.2 -13.9 -16.8 -17 -14.3 -19.5C-11.8 -22 -8.6 -24.5 -5.3 -25.4C-2.1 -26.4 1.9 -26 5.3 -25.2C8.7 -24.4 12.5 -22.9 15.2 -20.6C17.8 -18.3 20.2 -14.7 21.5 -11.2C22.8 -7.8 23.2 -3.7 23 0Z"/></clipPath>
<clipPath id="k36"><path d="M29.3 0C29.7 4.2 29.4 9.5 27.6 13.3C25.7 17 21.6 20.4 18 22.6C14.5 24.9 10.2 26.2 6.1 26.8C2.1 27.5 -2.2 27.6 -6.1 26.7C-10 25.9 -14.2 24.3 -17.4 21.8C-20.5 19.3 -23.3 15.6 -24.9 12C-26.6 8.4 -27.3 4.1 -27.5 0C-27.7 -4.1 -27.7 -8.7 -26.3 -12.7C-24.9 -16.7 -22.5 -21.5 -19.2 -24.1C-15.9 -26.7 -10.7 -28 -6.5 -28.4C-2.3 -28.8 2.3 -27.8 6 -26.5C9.8 -25.1 12.9 -22.6 16.1 -20.2C19.3 -17.8 22.9 -15.4 25.1 -12.1C27.3 -8.7 28.9 -4.2 29.3 0Z"/></clipPath>
<clipPath id="k37"><path d="M21.5 0C21.4 3.2 20.3 6.7 18.8 9.5C17.4 12.3 15.2 15 12.9 16.9C10.5 18.8 7.4 20.2 4.5 20.8C1.6 21.4 -1.6 21.3 -4.5 20.7C-7.4 20 -10.5 18.9 -13 17C-15.4 15.2 -17.7 12.5 -19.2 9.7C-20.7 6.9 -22 3.3 -22.1 0C-22.2 -3.3 -21.2 -7.1 -19.6 -9.9C-18 -12.6 -15.1 -15 -12.6 -16.5C-10 -18.1 -7 -18.4 -4.2 -19.1C-1.3 -19.8 1.4 -20.7 4.5 -20.6C7.5 -20.5 11.5 -20.3 14.1 -18.5C16.6 -16.7 18.5 -13.1 19.8 -10C21 -6.9 21.7 -3.2 21.5 0Z"/></clipPath>
<clipPath id="k38"><path d="M23.4 0C23.7 3.4 23.7 7.3 22.6 10.7C21.5 14.1 19.5 18 16.7 20.5C13.9 22.9 9.6 25 5.9 25.4C2.2 25.9 -2 24.5 -5.4 23.3C-8.9 22.1 -12.1 20.3 -14.7 18.1C-17.4 15.9 -19.6 13.1 -21.3 10C-22.9 7 -24.1 3.5 -24.4 0C-24.8 -3.5 -24.8 -7.8 -23.3 -11C-21.9 -14.3 -18.7 -17.1 -15.8 -19.4C-12.9 -21.8 -9.4 -24.2 -5.8 -25C-2.2 -25.9 2.1 -25.4 5.7 -24.5C9.3 -23.6 13.2 -21.8 15.7 -19.4C18.3 -16.9 19.7 -13.1 20.9 -9.9C22.2 -6.7 23.1 -3.4 23.4 0Z"/></clipPath>
<clipPath id="k39"><path d="M21.4 0C21.2 2.8 20.8 5.7 19.4 8.1C18 10.5 15.7 12.6 13.2 14.3C10.8 16 7.9 17.2 4.8 18.2C1.7 19.1 -2 20.3 -5.3 20C-8.6 19.7 -12.5 18.2 -15 16.3C-17.5 14.4 -19.5 11.1 -20.3 8.4C-21.1 5.7 -20.1 2.7 -19.9 0C-19.7 -2.7 -20.1 -5.5 -19.1 -7.9C-18 -10.4 -15.9 -12.7 -13.6 -14.7C-11.2 -16.6 -8.3 -18.8 -5.2 -19.6C-2.1 -20.3 1.9 -20 5.1 -19.2C8.2 -18.4 11.3 -16.8 13.8 -15C16.4 -13.2 19.3 -11 20.6 -8.6C21.8 -6.1 21.6 -2.8 21.4 0Z"/></clipPath>
<clipPath id="k40"><path d="M24 0C24.2 2.8 22.4 6.2 20.7 8.6C18.9 11 16.1 13 13.4 14.5C10.8 16.1 7.8 17.2 4.7 17.8C1.7 18.4 -1.8 18.8 -4.9 18.4C-8 17.9 -11.4 16.7 -13.9 15C-16.4 13.4 -18.6 10.8 -20 8.3C-21.4 5.8 -22.4 2.8 -22.5 0C-22.5 -2.8 -21.8 -5.9 -20.4 -8.5C-19.1 -11.1 -17 -14 -14.4 -15.6C-11.8 -17.1 -7.8 -17.6 -4.7 -17.8C-1.6 -18 1.5 -17.5 4.4 -16.8C7.3 -16.1 10.1 -15.2 12.7 -13.7C15.2 -12.3 17.9 -10.5 19.8 -8.2C21.6 -5.9 23.9 -2.8 24 0Z"/></clipPath>
<clipPath id="k41"><path d="M21.4 0C21.1 2.8 19.4 5.4 18.1 7.9C16.7 10.4 15.5 13.4 13.2 15C11 16.6 7.4 17.1 4.5 17.7C1.5 18.3 -1.7 18.8 -4.6 18.4C-7.6 17.9 -10.7 16.7 -13.3 15C-15.8 13.4 -18.3 11.2 -19.9 8.7C-21.5 6.2 -23 2.9 -23 0C-23 -2.9 -21.6 -6.3 -19.8 -8.6C-18 -10.9 -14.8 -12.4 -12.2 -13.9C-9.7 -15.3 -7.2 -16.8 -4.4 -17.5C-1.6 -18.1 1.4 -18.1 4.5 -17.8C7.6 -17.6 11.4 -17.4 14 -15.9C16.6 -14.4 18.8 -11.4 20 -8.7C21.3 -6.1 21.8 -2.8 21.4 0Z"/></clipPath>
<clipPath id="k42"><path d="M25.7 0C25.6 3.5 24.6 7.3 22.9 10.4C21.2 13.4 18.2 15.8 15.4 18.2C12.6 20.7 9.6 23.6 6 24.9C2.4 26.1 -2.4 26.5 -6.2 25.7C-10.1 25 -14.4 22.9 -17.2 20.3C-19.9 17.7 -21.6 13.7 -22.8 10.3C-24 7 -24.1 3.5 -24.2 0C-24.3 -3.5 -24.7 -7.4 -23.4 -10.6C-22.1 -13.9 -19.4 -17.2 -16.5 -19.5C-13.5 -21.8 -9.7 -23.4 -5.9 -24.4C-2.1 -25.4 2.3 -26.1 6.1 -25.4C10 -24.7 14.3 -22.8 17.2 -20.4C20.1 -17.9 22.2 -14.1 23.6 -10.7C25 -7.3 25.8 -3.5 25.7 0Z"/></clipPath>
<clipPath id="k43"><path d="M16.7 0C16.5 2.3 15.9 4.7 14.7 6.7C13.6 8.6 11.6 10 9.8 11.6C8.1 13.3 6.4 15.7 4 16.6C1.7 17.5 -1.6 17.6 -4.1 17C-6.6 16.4 -9.2 14.7 -11 13C-12.8 11.3 -14.2 9 -15 6.8C-15.9 4.7 -16.2 2.3 -16.2 0C-16.2 -2.3 -15.9 -4.7 -15 -6.8C-14.1 -8.9 -12.4 -10.9 -10.5 -12.4C-8.7 -14 -6.3 -15.6 -3.9 -16.2C-1.5 -16.7 1.4 -16.3 3.8 -15.8C6.3 -15.2 8.8 -14.2 10.8 -12.8C12.8 -11.3 14.9 -9.3 15.9 -7.2C16.8 -5.1 16.9 -2.3 16.7 0Z"/></clipPath>
<clipPath id="k44"><path d="M19.8 0C19.6 2.9 19.5 5.9 18.2 8.3C17 10.8 14.6 12.9 12.3 14.6C10 16.3 7.2 18.1 4.5 18.6C1.7 19.1 -1.5 18.3 -4.2 17.6C-7 16.9 -9.5 15.8 -12 14.3C-14.5 12.9 -17.9 11.3 -19.4 8.9C-20.9 6.5 -21.1 2.9 -20.9 0C-20.8 -2.9 -20 -6.1 -18.5 -8.5C-17 -10.8 -14.1 -12.5 -11.7 -13.9C-9.3 -15.3 -6.8 -16.1 -4.1 -16.9C-1.4 -17.8 1.7 -19.1 4.5 -18.9C7.4 -18.7 10.7 -17.3 13.1 -15.6C15.6 -14 18.3 -11.5 19.4 -8.9C20.5 -6.3 20 -2.9 19.8 0Z"/></clipPath>
<clipPath id="k45"><path d="M34.3 0C35 4 34.5 9.3 32.3 13C30.1 16.7 25.4 19.9 21.2 22.2C17.1 24.5 12 26 7.3 26.6C2.6 27.1 -2.4 26.6 -7 25.7C-11.6 24.8 -16.8 23.7 -20.4 21.3C-24 19 -26.8 15.1 -28.9 11.6C-30.9 8 -32.4 3.9 -32.5 0C-32.6 -3.9 -31.2 -8.1 -29.3 -11.8C-27.4 -15.4 -24.7 -19.3 -21.2 -22.1C-17.6 -24.9 -12.5 -27.9 -7.8 -28.5C-3.1 -29.1 2.5 -27 7 -25.6C11.5 -24.2 15.6 -22.3 19 -19.9C22.5 -17.5 25.4 -14.5 28 -11.2C30.5 -7.9 33.6 -4 34.3 0Z"/></clipPath>
<clipPath id="k46"><path d="M24.5 0C24.9 2.8 23.9 6.3 22.3 8.9C20.7 11.5 17.9 14 15 15.5C12.1 17.1 8.4 17.8 5 18.2C1.7 18.6 -1.7 18.6 -5 18C-8.2 17.5 -11.8 16.6 -14.4 15C-17 13.3 -19.2 10.7 -20.6 8.2C-21.9 5.7 -22.6 2.7 -22.6 0C-22.6 -2.7 -21.9 -5.6 -20.7 -8.2C-19.5 -10.9 -17.9 -14 -15.3 -15.9C-12.8 -17.7 -8.7 -18.9 -5.3 -19.3C-1.9 -19.6 1.8 -18.8 4.9 -17.8C8 -16.9 10.6 -15.3 13.2 -13.6C15.7 -12 18.1 -10.2 20 -8C21.9 -5.7 24.2 -2.8 24.5 0Z"/></clipPath>
<clipPath id="k47"><path d="M31.2 0C31.3 4 29.3 8.7 27.2 12.2C25 15.7 21.6 18.9 18.2 21.2C14.7 23.6 10.5 25.6 6.4 26.3C2.4 27 -2.1 26.3 -6.3 25.5C-10.4 24.8 -15.3 24 -18.6 21.8C-22 19.5 -24.5 15.5 -26.5 11.9C-28.4 8.3 -30.1 4.1 -30.3 0C-30.6 -4.1 -29.7 -8.7 -27.9 -12.5C-26 -16.3 -22.9 -20.4 -19.3 -22.6C-15.7 -24.8 -10.5 -25.5 -6.3 -25.8C-2.1 -26.1 1.9 -25.1 5.9 -24.3C9.9 -23.4 14.2 -22.7 17.7 -20.7C21.2 -18.6 24.6 -15.5 26.8 -12.1C29.1 -8.6 31.1 -4 31.2 0Z"/></clipPath>
<clipPath id="k48"><path d="M19.9 0C19.8 2.7 18.7 5.8 17.4 8.2C16 10.6 14 12.7 11.8 14.4C9.6 16.1 7 17.3 4.3 18.2C1.5 19 -1.6 19.8 -4.6 19.5C-7.5 19.1 -10.9 18 -13.3 16.3C-15.7 14.5 -17.9 11.6 -18.9 8.9C-19.9 6.1 -19.8 2.7 -19.3 0C-18.9 -2.7 -17.4 -5.1 -16.2 -7.6C-15 -10.1 -14.1 -12.8 -12.2 -14.9C-10.2 -16.9 -7.4 -19 -4.6 -19.8C-1.9 -20.6 1.7 -20.2 4.6 -19.5C7.4 -18.7 10.3 -17.2 12.5 -15.3C14.7 -13.4 16.4 -10.8 17.6 -8.3C18.8 -5.7 19.9 -2.7 19.9 0Z"/></clipPath></defs>
<rect x="147.5" y="155" width="235" height="130" fill="#fdfdfb"/>
<rect x="735.5" y="175" width="236" height="143.5" fill="#fdfdfb"/>
<text transform="translate(0.6 46)" font-size="86" font-weight="bold">a</text>
<text transform="translate(247.5 45.9)" font-size="34.5" text-anchor="middle">Doxorubicin</text>
<text transform="translate(247 87.8)" font-size="34.5" text-anchor="middle">addition</text>
<text transform="translate(247.5 310)" font-size="34.5" text-anchor="middle">Human cancer cells</text>
<text transform="translate(247.5 352.5)" font-size="34.5" text-anchor="middle">(Jurkat)</text>
<text transform="translate(522 122.7)" font-size="34.5" text-anchor="middle">Incubation for</text>
<text transform="translate(521 164.7)" font-size="34.5" text-anchor="middle">different durations</text>
<text transform="translate(833 61)" font-size="34.5" text-anchor="middle">Staining</text>
<g transform="translate(0 0)">
<path d="M177.2 221.8 A68.1 19.7 0 0 1 313.4 221.8 L313.4 237.7 A68.1 19.7 0 0 1 177.2 237.7 Z" fill="url(#dishSide)"/>
<path d="M177.2 221.8 A68.1 19.7 0 0 1 313.4 221.8 L313.4 223 L245 226 L177.2 223 Z" fill="#c9dcf0"/>
<ellipse cx="245.3" cy="222.6" rx="65.6" ry="15.3" fill="url(#dishRim)"/>
<g clip-path="url(#dishIn0)">
<ellipse cx="245.3" cy="226.6" rx="60" ry="13.1" fill="#d98373"/>
<path d="M265.3 213.8 A60 13.1 0 0 1 305.3 226.6 A60 13.1 0 0 1 281.3 236.6 A66 17 0 0 0 265.3 213.8 Z" fill="#cb6f60" opacity="0.9"/>
</g></g>
<g transform="translate(0 0)">
<g transform="translate(141.3 82.1) rotate(-20)"><rect x="-1.6" y="0" width="3.2" height="9" fill="#111"/><ellipse rx="7.8" ry="3.9" fill="#2b2b1c" stroke="#000" stroke-width="0.8"/><path d="M-6.4 0.6 Q0 1.9 6.4 0.4" stroke="#e8e11a" stroke-width="1.3" fill="none"/></g>
<path d="M174.0 170.8 L182.4 168.4 L198.4 207.0 L196.2 211.0 L192.6 208.0 Z" fill="#222" stroke="#000" stroke-width="1"/>
<path d="M194.6 209.8 L198.2 208.4 L207.3 234 Z" fill="#ffd81a"/>
<path d="M167.4 164.0 L181.8 159.2 L183.7 166.6 L172.2 172.4 Z" fill="#4f4f4f" stroke="#000" stroke-width="1.1"/>
<path d="M153.6 87.8 L161.2 84.0 L162.6 85.4 L160.9 92.0 L184.2 156.0 L183.4 158.2 L180.4 159.2 Z" fill="#333" stroke="#000" stroke-width="1.1" stroke-linejoin="round"/>
<path d="M161.0 84.0 C150 88.5 141 90.5 134.5 92.6 C124 95.5 115.2 100.5 113.8 106.8 C113.4 110.5 114.6 113.6 116.9 114.4 C118.6 114.2 118.8 112.6 118.2 110.8 C117.6 106.8 120.6 103.2 125.8 102.0 C129.4 101.4 131.6 102.2 132.9 104.2 L165.4 163.4 L180.6 158.8 L154.2 89.2 Z" fill="#3f3f3f" stroke="#000" stroke-width="1.2" stroke-linejoin="round"/>
<path d="M143.4 110.0 L152.6 106.0 L168.4 146.2 L163.0 148.6 Z" fill="#b9b9b9" stroke="#111" stroke-width="0.8"/>
</g>
<g transform="translate(588.2 18)">
<path d="M177.2 221.8 A68.1 19.7 0 0 1 313.4 221.8 L313.4 237.7 A68.1 19.7 0 0 1 177.2 237.7 Z" fill="url(#dishSide)"/>
<path d="M177.2 221.8 A68.1 19.7 0 0 1 313.4 221.8 L313.4 223 L245 226 L177.2 223 Z" fill="#c9dcf0"/>
<ellipse cx="245.3" cy="222.6" rx="65.6" ry="15.3" fill="url(#dishRim)"/>
<g clip-path="url(#dishIn588)">
<ellipse cx="245.3" cy="226.6" rx="60" ry="13.1" fill="#d98373"/>
<path d="M265.3 213.8 A60 13.1 0 0 1 305.3 226.6 A60 13.1 0 0 1 281.3 236.6 A66 17 0 0 0 265.3 213.8 Z" fill="#cb6f60" opacity="0.9"/>
</g></g>
<g transform="translate(590.4 18)">
<g transform="translate(141.3 82.1) rotate(-20)"><rect x="-1.6" y="0" width="3.2" height="9" fill="#111"/><ellipse rx="7.8" ry="3.9" fill="#2b2b1c" stroke="#000" stroke-width="0.8"/><path d="M-6.4 0.6 Q0 1.9 6.4 0.4" stroke="#e8e11a" stroke-width="1.3" fill="none"/></g>
<path d="M174.0 170.8 L182.4 168.4 L198.4 207.0 L196.2 211.0 L192.6 208.0 Z" fill="#222" stroke="#000" stroke-width="1"/>
<path d="M194.6 209.8 L198.2 208.4 L207.3 234 Z" fill="#ffd81a"/>
<path d="M167.4 164.0 L181.8 159.2 L183.7 166.6 L172.2 172.4 Z" fill="#4f4f4f" stroke="#000" stroke-width="1.1"/>
<path d="M153.6 87.8 L161.2 84.0 L162.6 85.4 L160.9 92.0 L184.2 156.0 L183.4 158.2 L180.4 159.2 Z" fill="#333" stroke="#000" stroke-width="1.1" stroke-linejoin="round"/>
<path d="M161.0 84.0 C150 88.5 141 90.5 134.5 92.6 C124 95.5 115.2 100.5 113.8 106.8 C113.4 110.5 114.6 113.6 116.9 114.4 C118.6 114.2 118.8 112.6 118.2 110.8 C117.6 106.8 120.6 103.2 125.8 102.0 C129.4 101.4 131.6 102.2 132.9 104.2 L165.4 163.4 L180.6 158.8 L154.2 89.2 Z" fill="#3f3f3f" stroke="#000" stroke-width="1.2" stroke-linejoin="round"/>
<path d="M143.4 110.0 L152.6 106.0 L168.4 146.2 L163.0 148.6 Z" fill="#b9b9b9" stroke="#111" stroke-width="0.8"/>
</g>
<path d="M430.2 193.9 H591.9 V174.3 L631.2 213.2 L591.9 252.5 V233.2 H430.2 Z" fill="#7f7f7f"/>
<path d="M983.1 194.6 H1017.7 V174.3 L1051.5 215.7 L1017.7 257.1 V236 H983.1 Z" fill="#7f7f7f"/>
<rect x="1114" y="147.6" width="190.8" height="138.5" fill="#595959"/>
<text transform="translate(1209.8 207.8)" font-size="34.5" text-anchor="middle" font-weight="bold" fill="#fff">FLIM flow</text>
<text transform="translate(1210 248.9)" font-size="34.5" text-anchor="middle" font-weight="bold" fill="#fff">cytometer</text>
<text transform="translate(-5.5 472)" font-size="86" font-weight="bold">b</text>
<path d="M157.3 523.5H805.5M157.3 551.7H805.5M157.3 579.9H805.5M157.3 608.1H805.5M157.3 636.3H805.5M157.3 664.5H805.5M157.3 692.7H805.5M157.3 720.9H805.5M157.3 749.1H805.5" stroke="#b0b0b0" stroke-width="1.3" stroke-dasharray="1.8 1.3" fill="none"/>
<g clip-path="url(#pc0)">
<path d="M227.7 495.3V777.3" stroke="#2b2b2b" stroke-width="3.7" fill="none"/>
<path d="M227.9 557.5C228.4 559.5 229.4 561.5 229.5 563.5C230 571.5 229.9 579.5 230.2 587.5C230.4 592.2 230.7 596.8 231.1 601.5C231.3 604.2 231.6 606.8 232 609.5C233.4 618.3 238.3 627 242.5 635.8C246.3 643.8 252.5 651.8 256.9 659.8C259.5 664.5 262.1 669.3 264.1 674C265.8 678 268.4 682 268.4 686C268.4 690.8 267.2 695.7 267.2 700.5C267.2 704.5 268.4 708.5 268.4 712.5C268.4 715.7 265.1 718.8 262.4 722C259.6 725.2 253.6 728.4 249.2 731.6C244.8 734.8 238.9 738 236.1 741.2C234.3 743.2 232.4 745.3 232 747.4C231.5 750 231.3 752.7 231.1 755.4C230.7 760 230.4 764.7 230.2 769.4C229.9 777.4 230 785.4 229.5 793.4C229.4 795.4 228.4 797.4 227.9 799.4L227.5 799.4C227 797.4 226 795.4 225.9 793.4C225.4 785.4 225.5 777.4 225.2 769.4C225 764.7 224.7 760 224.3 755.4C224.1 752.7 223.9 750 223.4 747.4C223 745.3 221.1 743.2 219.3 741.2C216.5 738 210.6 734.8 206.2 731.6C201.8 728.4 195.8 725.2 193 722C190.3 718.8 187 715.7 187 712.5C187 708.5 188.2 704.5 188.2 700.5C188.2 695.7 187 690.8 187 686C187 682 189.6 678 191.3 674C193.3 669.3 195.9 664.5 198.5 659.8C202.9 651.8 209.1 643.8 212.9 635.8C217.1 627 222 618.3 223.4 609.5C223.8 606.8 224.1 604.2 224.3 601.5C224.7 596.8 225 592.2 225.2 587.5C225.5 579.5 225.4 571.5 225.9 563.5C226 561.5 227 559.5 227.5 557.5Z" fill="#2b2b2b"/>
<path d="M227.7 609.5C231.6 618.3 235 627 239.5 635.8C243.6 643.8 249.5 651.8 253.9 659.8C256.5 664.5 259.1 669.3 261.1 674C262.8 678 265.4 682 265.4 686C265.4 690.8 264.2 695.7 264.2 700.5C264.2 704.5 265.4 708.5 265.4 712.5C265.4 715.7 262.1 718.8 259.4 722C256.6 725.2 250.6 728.4 246.2 731.6C241.8 734.8 236.5 738 233.1 741.2C230.9 743.2 229.5 745.3 227.7 747.4L227.7 747.4C225.9 745.3 224.5 743.2 222.3 741.2C218.9 738 213.6 734.8 209.2 731.6C204.8 728.4 198.8 725.2 196 722C193.3 718.8 190 715.7 190 712.5C190 708.5 191.2 704.5 191.2 700.5C191.2 695.7 190 690.8 190 686C190 682 192.6 678 194.3 674C196.3 669.3 198.9 664.5 201.5 659.8C205.9 651.8 211.8 643.8 215.9 635.8C220.4 627 223.8 618.3 227.7 609.5Z" fill="#5573cd"/>
<path d="M329 495.3V777.3" stroke="#2b2b2b" stroke-width="3.7" fill="none"/>
<path d="M329.2 564.6C329.7 566.6 330.7 568.6 330.8 570.6C331.3 578.6 331.2 586.6 331.5 594.6C331.7 599.3 332 603.9 332.4 608.6C332.6 611.3 332.9 613.9 333.3 616.6C334.4 623 338.2 629.4 341.5 635.8C345.6 643.8 352.1 651.8 357 659.8C359.9 664.5 363.4 669.3 365.4 674C367.5 678.8 370.2 683.7 370.2 688.5C370.2 696.5 370.2 704.5 370.2 712.5C370.2 715.7 366.2 718.8 363 722C359.8 725.2 353.2 728.4 348.6 731.6C344 734.8 337.7 738 335.5 741.2C334.5 742.7 333.6 744.1 333.3 745.6C332.8 748.3 332.6 750.9 332.4 753.6C332 758.3 331.7 762.9 331.5 767.6C331.2 775.6 331.3 783.6 330.8 791.6C330.7 793.6 329.7 795.6 329.2 797.6L328.8 797.6C328.3 795.6 327.3 793.6 327.2 791.6C326.7 783.6 326.8 775.6 326.5 767.6C326.3 762.9 326 758.3 325.6 753.6C325.4 750.9 325.2 748.3 324.7 745.6C324.4 744.1 323.5 742.7 322.5 741.2C320.3 738 314 734.8 309.4 731.6C304.8 728.4 298.2 725.2 295 722C291.8 718.8 287.8 715.7 287.8 712.5C287.8 704.5 287.8 696.5 287.8 688.5C287.8 683.7 290.5 678.8 292.6 674C294.6 669.3 298.1 664.5 301 659.8C305.9 651.8 312.4 643.8 316.5 635.8C319.8 629.4 323.6 623 324.7 616.6C325.1 613.9 325.4 611.3 325.6 608.6C326 603.9 326.3 599.3 326.5 594.6C326.8 586.6 326.7 578.6 327.2 570.6C327.3 568.6 328.3 566.6 328.8 564.6Z" fill="#2b2b2b"/>
<path d="M329 616.6C332.2 623 334.9 629.4 338.5 635.8C343 643.8 349.1 651.8 354 659.8C356.9 664.5 360.4 669.3 362.4 674C364.5 678.8 367.2 683.7 367.2 688.5C367.2 696.5 367.2 704.5 367.2 712.5C367.2 715.7 363.2 718.8 360 722C356.8 725.2 350.2 728.4 345.6 731.6C341 734.8 335 738 332.1 741.2C330.8 742.7 330 744.1 329 745.6L329 745.6C328 744.1 327.2 742.7 325.9 741.2C323 738 317 734.8 312.4 731.6C307.8 728.4 301.2 725.2 298 722C294.8 718.8 290.8 715.7 290.8 712.5C290.8 704.5 290.8 696.5 290.8 688.5C290.8 683.7 293.5 678.8 295.6 674C297.6 669.3 301.1 664.5 304 659.8C308.9 651.8 315 643.8 319.5 635.8C323.1 629.4 325.8 623 329 616.6Z" fill="#107010"/>
<path d="M430.4 495.3V777.3" stroke="#2b2b2b" stroke-width="3.7" fill="none"/>
<path d="M430.6 584.2C431.1 586.2 432.1 588.2 432.2 590.2C432.7 598.2 432.6 606.2 432.9 614.2C433.1 618.9 433.4 623.6 433.8 628.2C434 630.9 434.2 633.6 434.7 636.2C435.4 640.1 440.2 643.9 442.9 647.8C445.7 651.8 448.2 655.8 451.2 659.8C454.8 664.5 459.9 669.3 463.2 674C466.5 678.8 471.6 683.7 471.6 688.5C471.6 694.9 471.2 701.3 470.4 707.7C470 710.9 467.1 714 464.4 717.2C461.6 720.4 455.4 723.6 451.2 726.8C447 730 442.1 733.2 439.3 736.4C437.4 738.7 435.1 740.9 434.7 743.2C434.2 745.8 434 748.5 433.8 751.2C433.4 755.8 433.1 760.5 432.9 765.2C432.6 773.2 432.7 781.2 432.2 789.2C432.1 791.2 431.1 793.2 430.6 795.2L430.2 795.2C429.7 793.2 428.7 791.2 428.6 789.2C428.1 781.2 428.2 773.2 427.9 765.2C427.7 760.5 427.4 755.8 427 751.2C426.8 748.5 426.6 745.8 426.1 743.2C425.7 740.9 423.4 738.7 421.5 736.4C418.7 733.2 413.8 730 409.6 726.8C405.4 723.6 399.2 720.4 396.4 717.2C393.7 714 390.8 710.9 390.4 707.7C389.6 701.3 389.2 694.9 389.2 688.5C389.2 683.7 394.3 678.8 397.6 674C400.9 669.3 406 664.5 409.6 659.8C412.6 655.8 415.1 651.8 417.9 647.8C420.6 643.9 425.4 640.1 426.1 636.2C426.6 633.6 426.8 630.9 427 628.2C427.4 623.6 427.7 618.9 427.9 614.2C428.2 606.2 428.1 598.2 428.6 590.2C428.7 588.2 429.7 586.2 430.2 584.2Z" fill="#2b2b2b"/>
<path d="M430.4 636.2C433.6 640.1 437 643.9 439.9 647.8C442.9 651.8 445.2 655.8 448.2 659.8C451.8 664.5 456.9 669.3 460.2 674C463.5 678.8 468.6 683.7 468.6 688.5C468.6 694.9 468.2 701.3 467.4 707.7C467 710.9 464.1 714 461.4 717.2C458.6 720.4 452.4 723.6 448.2 726.8C444 730 439.5 733.2 436.3 736.4C434 738.7 432.4 740.9 430.4 743.2L430.4 743.2C428.4 740.9 426.8 738.7 424.5 736.4C421.3 733.2 416.8 730 412.6 726.8C408.4 723.6 402.2 720.4 399.4 717.2C396.7 714 393.8 710.9 393.4 707.7C392.6 701.3 392.2 694.9 392.2 688.5C392.2 683.7 397.3 678.8 400.6 674C403.9 669.3 409 664.5 412.6 659.8C415.6 655.8 417.9 651.8 420.9 647.8C423.8 643.9 427.2 640.1 430.4 636.2Z" fill="#20dfdf"/>
<path d="M532 495.3V777.3" stroke="#2b2b2b" stroke-width="3.7" fill="none"/>
<path d="M532.2 569.4C532.7 571.4 533.7 573.4 533.8 575.4C534.3 583.4 534.2 591.4 534.5 599.4C534.7 604.1 535 608.7 535.4 613.4C535.6 616.1 535.8 618.7 536.3 621.4C537.1 626.2 541.8 631 544.5 635.8C549 643.8 553.2 651.8 557.6 659.8C562 667.8 568.1 675.7 570.8 683.7C572.2 687.7 573.9 691.7 573.9 695.7C573.9 701.3 573.7 706.9 573.2 712.5C572.9 715.7 569.1 718.8 566 722C562.9 725.2 557.2 728.4 552.8 731.6C548.4 734.8 542.5 738 539.7 741.2C538.2 742.9 536.6 744.6 536.3 746.3C535.8 749 535.6 751.6 535.4 754.3C535 759 534.7 763.6 534.5 768.3C534.2 776.3 534.3 784.3 533.8 792.3C533.7 794.3 532.7 796.3 532.2 798.3L531.8 798.3C531.3 796.3 530.3 794.3 530.2 792.3C529.7 784.3 529.8 776.3 529.5 768.3C529.3 763.6 529 759 528.6 754.3C528.4 751.6 528.2 749 527.7 746.3C527.4 744.6 525.8 742.9 524.3 741.2C521.5 738 515.6 734.8 511.2 731.6C506.8 728.4 501.1 725.2 498 722C494.9 718.8 491.1 715.7 490.8 712.5C490.3 706.9 490.1 701.3 490.1 695.7C490.1 691.7 491.8 687.7 493.2 683.7C495.9 675.7 502 667.8 506.4 659.8C510.8 651.8 515 643.8 519.5 635.8C522.2 631 526.9 626.2 527.7 621.4C528.2 618.7 528.4 616.1 528.6 613.4C529 608.7 529.3 604.1 529.5 599.4C529.8 591.4 529.7 583.4 530.2 575.4C530.3 573.4 531.3 571.4 531.8 569.4Z" fill="#2b2b2b"/>
<path d="M532 621.4C535.2 626.2 538.6 631 541.5 635.8C546.3 643.8 550.2 651.8 554.6 659.8C559 667.8 565.1 675.7 567.8 683.7C569.2 687.7 570.9 691.7 570.9 695.7C570.9 701.3 570.7 706.9 570.2 712.5C569.9 715.7 566.1 718.8 563 722C559.9 725.2 554.2 728.4 549.8 731.6C545.4 734.8 540.2 738 536.7 741.2C534.9 742.9 533.6 744.6 532 746.3L532 746.3C530.4 744.6 529.1 742.9 527.3 741.2C523.8 738 518.6 734.8 514.2 731.6C509.8 728.4 504.1 725.2 501 722C497.9 718.8 494.1 715.7 493.8 712.5C493.3 706.9 493.1 701.3 493.1 695.7C493.1 691.7 494.8 687.7 496.2 683.7C498.9 675.7 505 667.8 509.4 659.8C513.8 651.8 517.7 643.8 522.5 635.8C525.4 631 528.8 626.2 532 621.4Z" fill="#df20df"/>
<path d="M633.3 495.3V777.3" stroke="#2b2b2b" stroke-width="3.7" fill="none"/>
<path d="M633.5 557.5C634 559.5 635 561.5 635.1 563.5C635.6 571.5 635.5 579.5 635.8 587.5C636 592.2 636.3 596.8 636.7 601.5C636.9 604.2 637.2 606.8 637.6 609.5C638.8 618.3 640.4 627 642.9 635.8C645.2 643.8 650.2 651.8 654.1 659.8C658 667.8 662.9 675.7 666.1 683.7C669.3 691.7 673.5 699.7 674 707.7C674.3 711.7 674.5 715.6 674.5 719.6C674.5 722 671.5 724.4 669.3 726.8C665.6 730.8 657.8 734.8 652.5 738.8C648.3 742 642.7 745.2 640.5 748.4C639.2 750.3 638 752.3 637.6 754.2C637.1 756.9 636.9 759.5 636.7 762.2C636.3 766.9 636 771.5 635.8 776.2C635.5 784.2 635.6 792.2 635.1 800.2C635 802.2 634 804.2 633.5 806.2L633.1 806.2C632.6 804.2 631.6 802.2 631.5 800.2C631 792.2 631.1 784.2 630.8 776.2C630.6 771.5 630.3 766.9 629.9 762.2C629.7 759.5 629.5 756.9 629 754.2C628.6 752.3 627.4 750.3 626.1 748.4C623.9 745.2 618.3 742 614.1 738.8C608.8 734.8 601 730.8 597.3 726.8C595.1 724.4 592.1 722 592.1 719.6C592.1 715.6 592.3 711.7 592.6 707.7C593.1 699.7 597.3 691.7 600.5 683.7C603.7 675.7 608.6 667.8 612.5 659.8C616.4 651.8 621.4 643.8 623.7 635.8C626.2 627 627.8 618.3 629 609.5C629.4 606.8 629.7 604.2 629.9 601.5C630.3 596.8 630.6 592.2 630.8 587.5C631.1 579.5 631 571.5 631.5 563.5C631.6 561.5 632.6 559.5 633.1 557.5Z" fill="#2b2b2b"/>
<path d="M633.3 609.5C635.5 618.3 637 627 639.9 635.8C642.5 643.8 647.2 651.8 651.1 659.8C655 667.8 659.9 675.7 663.1 683.7C666.3 691.7 670.5 699.7 671 707.7C671.3 711.7 671.5 715.6 671.5 719.6C671.5 722 668.5 724.4 666.3 726.8C662.6 730.8 654.8 734.8 649.5 738.8C645.3 742 640.2 745.2 637.4 748.4C635.7 750.3 634.7 752.3 633.3 754.2L633.3 754.2C631.9 752.3 630.9 750.3 629.2 748.4C626.4 745.2 621.3 742 617.1 738.8C611.8 734.8 604 730.8 600.3 726.8C598.1 724.4 595.1 722 595.1 719.6C595.1 715.6 595.3 711.7 595.6 707.7C596.1 699.7 600.3 691.7 603.5 683.7C606.7 675.7 611.6 667.8 615.5 659.8C619.4 651.8 624.1 643.8 626.7 635.8C629.6 627 631.1 618.3 633.3 609.5Z" fill="#dfdf20"/>
<path d="M734.7 495.3V777.3" stroke="#2b2b2b" stroke-width="3.7" fill="none"/>
<path d="M734.9 559.9C735.4 561.9 736.4 563.9 736.5 565.9C737 573.9 736.9 581.9 737.2 589.9C737.4 594.6 737.7 599.2 738.1 603.9C738.3 606.6 738.6 609.2 739 611.9C740.2 619.9 742.8 627.8 745.7 635.8C748.6 643.8 754 651.8 758.2 659.8C762.4 667.8 767.9 675.7 770.9 683.7C772.4 687.7 773.9 691.7 774.5 695.7C775.3 701.3 776.1 706.9 776.1 712.5C776.1 715.7 771.7 718.8 768.5 722C765.3 725.2 759.2 728.4 755.3 731.6C750.4 735.6 744.9 739.6 742.1 743.6C740.8 745.5 739.4 747.3 739 749.2C738.5 751.8 738.3 754.5 738.1 757.2C737.7 761.8 737.4 766.5 737.2 771.2C736.9 779.2 737 787.2 736.5 795.2C736.4 797.2 735.4 799.2 734.9 801.2L734.5 801.2C734 799.2 733 797.2 732.9 795.2C732.4 787.2 732.5 779.2 732.2 771.2C732 766.5 731.7 761.8 731.3 757.2C731.1 754.5 730.9 751.8 730.4 749.2C730 747.3 728.6 745.5 727.3 743.6C724.5 739.6 719 735.6 714.1 731.6C710.2 728.4 704.1 725.2 700.9 722C697.7 718.8 693.3 715.7 693.3 712.5C693.3 706.9 694.1 701.3 694.9 695.7C695.5 691.7 697 687.7 698.5 683.7C701.5 675.7 707 667.8 711.2 659.8C715.4 651.8 720.8 643.8 723.7 635.8C726.6 627.8 729.2 619.9 730.4 611.9C730.8 609.2 731.1 606.6 731.3 603.9C731.7 599.2 732 594.6 732.2 589.9C732.5 581.9 732.4 573.9 732.9 565.9C733 563.9 734 561.9 734.5 559.9Z" fill="#2b2b2b"/>
<path d="M734.7 611.9C737.4 619.9 739.5 627.8 742.7 635.8C746 643.8 751 651.8 755.2 659.8C759.4 667.8 764.9 675.7 767.9 683.7C769.4 687.7 770.9 691.7 771.5 695.7C772.3 701.3 773.1 706.9 773.1 712.5C773.1 715.7 768.7 718.8 765.5 722C762.3 725.2 756.2 728.4 752.3 731.6C747.4 735.6 742.6 739.6 739.1 743.6C737.4 745.5 736.2 747.3 734.7 749.2L734.7 749.2C733.2 747.3 732 745.5 730.3 743.6C726.8 739.6 722 735.6 717.1 731.6C713.2 728.4 707.1 725.2 703.9 722C700.7 718.8 696.3 715.7 696.3 712.5C696.3 706.9 697.1 701.3 697.9 695.7C698.5 691.7 700 687.7 701.5 683.7C704.5 675.7 710 667.8 714.2 659.8C718.4 651.8 723.4 643.8 726.7 635.8C729.9 627.8 732 619.9 734.7 611.9Z" fill="#df2020"/>
</g>
<path d="M157.3 523.5H805.5M157.3 551.7H805.5M157.3 579.9H805.5M157.3 608.1H805.5M157.3 636.3H805.5M157.3 664.5H805.5M157.3 692.7H805.5M157.3 720.9H805.5M157.3 749.1H805.5" stroke="#c8c8c8" stroke-opacity="0.3" stroke-width="1.3" stroke-dasharray="1.8 1.3" fill="none"/>
<g clip-path="url(#pc0)">
<path d="M227.7 607.5V749.4" stroke="#2b2b2b" stroke-width="2.5" fill="none"/>
<rect x="222.5" y="662.2" width="10.4" height="55.5" fill="#2b2b2b"/>
<path d="M329 614.6V747.6" stroke="#2b2b2b" stroke-width="2.5" fill="none"/>
<rect x="323.8" y="663.4" width="10.4" height="53.4" fill="#2b2b2b"/>
<path d="M430.4 634.2V745.2" stroke="#2b2b2b" stroke-width="2.5" fill="none"/>
<rect x="425.2" y="670.5" width="10.4" height="46.3" fill="#2b2b2b"/>
<path d="M532 619.4V748.3" stroke="#2b2b2b" stroke-width="2.5" fill="none"/>
<rect x="526.8" y="669.3" width="10.4" height="50.3" fill="#2b2b2b"/>
<path d="M633.3 607.5V756.2" stroke="#2b2b2b" stroke-width="2.5" fill="none"/>
<rect x="628.1" y="672.2" width="10.4" height="52.7" fill="#2b2b2b"/>
<path d="M734.7 609.9V751.2" stroke="#2b2b2b" stroke-width="2.5" fill="none"/>
<rect x="729.5" y="667" width="10.4" height="53" fill="#2b2b2b"/>
</g>
<path d="M227.7 690.4L329 691.9L430.4 694.7L532 696.2L633.3 701.4L734.7 695.7" stroke="#000" stroke-width="1.9" stroke-dasharray="8.4 4" fill="none"/>
<ellipse cx="227.7" cy="690.4" rx="1.9" ry="1.8" fill="#fff"/>
<ellipse cx="329" cy="691.9" rx="1.9" ry="1.8" fill="#fff"/>
<ellipse cx="430.4" cy="694.7" rx="1.9" ry="1.8" fill="#fff"/>
<ellipse cx="532" cy="696.2" rx="1.9" ry="1.8" fill="#fff"/>
<ellipse cx="633.3" cy="701.4" rx="1.9" ry="1.8" fill="#fff"/>
<ellipse cx="734.7" cy="695.7" rx="1.9" ry="1.8" fill="#fff"/>
<rect x="173.2" y="497.5" width="104.5" height="27.6" fill="#fff" fill-opacity="0.82"/>
<text transform="translate(226.1 523.5)" font-size="26.1" text-anchor="middle"><tspan font-style="italic">n</tspan> = 9938</text>
<rect x="274.5" y="521.8" width="104.5" height="27.6" fill="#fff" fill-opacity="0.82"/>
<text transform="translate(329.3 547.8)" font-size="26.1" text-anchor="middle"><tspan font-style="italic">n</tspan> = 9968</text>
<rect x="375.9" y="497.5" width="104.5" height="27.6" fill="#fff" fill-opacity="0.82"/>
<text transform="translate(431.9 523.5)" font-size="26.1" text-anchor="middle"><tspan font-style="italic">n</tspan> = 9952</text>
<rect x="477.5" y="521.8" width="104.5" height="27.6" fill="#fff" fill-opacity="0.82"/>
<text transform="translate(532.8 547.8)" font-size="26.1" text-anchor="middle"><tspan font-style="italic">n</tspan> = 9975</text>
<rect x="578.8" y="497.5" width="104.5" height="27.6" fill="#fff" fill-opacity="0.82"/>
<text transform="translate(634.6 523.5)" font-size="26.1" text-anchor="middle"><tspan font-style="italic">n</tspan> = 9895</text>
<rect x="680.2" y="521.8" width="123.7" height="27.6" fill="#fff" fill-opacity="0.82"/>
<text transform="translate(741 547.8)" font-size="26.1" text-anchor="middle"><tspan font-style="italic">n</tspan> = 9802</text>
<rect x="157.3" y="495.3" width="648.2" height="282" fill="none" stroke="#000" stroke-width="2.8"/>
<path d="M144.6 495.3H157.3" stroke="#000" stroke-width="2.9"/>
<text transform="translate(132.6 504.9)" font-size="29" text-anchor="end">400</text>
<path d="M144.6 636.3H157.3" stroke="#000" stroke-width="2.9"/>
<text transform="translate(132.6 645.9)" font-size="29" text-anchor="end">200</text>
<path d="M144.6 777.3H157.3" stroke="#000" stroke-width="2.9"/>
<text transform="translate(132.6 786.9)" font-size="29" text-anchor="end">0</text>
<text transform="translate(279.6 454.5)" font-size="34.2" text-anchor="middle">0.02</text>
<text transform="translate(379.5 454.5)" font-size="34.2" text-anchor="middle">0.13</text>
<text transform="translate(481 454.5)" font-size="34.2" text-anchor="middle">0.03</text>
<text transform="translate(581 454.5)" font-size="34.2" text-anchor="middle">0.10</text>
<text transform="translate(686.6 454.5)" font-size="34.2" text-anchor="middle">-0.12</text>
<path d="M229.4 481.2V465.2H327.5V481.2M330.9 481.2V465.2H429.1V481.2M432.5 481.2V465.2H530.9V481.2M534.3 481.2V465.2H632.4V481.2M635.8 481.2V465.2H734V481.2" stroke="#000" stroke-width="2.3" fill="none"/>
<path d="M157.3 904.8H805.5M157.3 933H805.5M157.3 961.2H805.5M157.3 989.4H805.5M157.3 1017.6H805.5M157.3 1045.8H805.5M157.3 1074H805.5M157.3 1102.2H805.5M157.3 1130.4H805.5" stroke="#b0b0b0" stroke-width="1.3" stroke-dasharray="1.8 1.3" fill="none"/>
<g clip-path="url(#pc1)">
<path d="M227.7 876.6V1145.3" stroke="#2b2b2b" stroke-width="3.7" fill="none"/>
<path d="M225.8 1145.1L227.7 1152.3L229.5 1145.1Z" fill="#2b2b2b"/>
<path d="M227.9 908.7C228.4 910.7 229.4 912.7 229.5 914.7C230 922.7 229.9 930.7 230.2 938.7C230.4 943.4 230.7 948 231.1 952.7C231.3 955.4 231.9 958 232 960.7C232.1 963.1 232.1 965.5 232.2 967.9C232.6 975.9 240.5 983.9 244.5 991.9C248.5 999.9 253 1007.8 256.4 1015.8C259.8 1023.8 264.3 1031.8 265.5 1039.8C266 1043 266.5 1046.1 266.5 1049.3C266.5 1053.3 264.7 1057.3 264.7 1061.3C264.7 1066.9 268.9 1072.5 268.9 1078.1C268.9 1081.3 266.8 1084.5 264.7 1087.7C262.6 1090.9 255.6 1094 251.7 1097.2C247.7 1100.4 243.4 1103.6 240.9 1106.8C237.7 1110.8 234.9 1114.8 233.7 1118.8C232.9 1121.4 232.6 1124.1 232 1126.7C231.4 1129.7 230.4 1132.6 230.1 1135.6C229.8 1139.1 229.8 1142.5 229.5 1146C229.3 1148 228.4 1150 227.9 1152L227.5 1152C227 1150 226.1 1148 225.9 1146C225.6 1142.5 225.6 1139.1 225.3 1135.6C225 1132.6 224 1129.7 223.4 1126.7C222.8 1124.1 222.5 1121.4 221.7 1118.8C220.5 1114.8 217.7 1110.8 214.5 1106.8C212 1103.6 207.7 1100.4 203.7 1097.2C199.8 1094 192.8 1090.9 190.7 1087.7C188.6 1084.5 186.5 1081.3 186.5 1078.1C186.5 1072.5 190.7 1066.9 190.7 1061.3C190.7 1057.3 188.9 1053.3 188.9 1049.3C188.9 1046.1 189.4 1043 189.9 1039.8C191.1 1031.8 195.6 1023.8 199 1015.8C202.4 1007.8 206.9 999.9 210.9 991.9C214.9 983.9 222.8 975.9 223.2 967.9C223.3 965.5 223.3 963.1 223.4 960.7C223.5 958 224.1 955.4 224.3 952.7C224.7 948 225 943.4 225.2 938.7C225.5 930.7 225.4 922.7 225.9 914.7C226 912.7 227 910.7 227.5 908.7Z" fill="#2b2b2b"/>
<path d="M227.7 960.7C227.8 963.1 227.8 965.5 228 967.9C228.5 975.9 237.3 983.9 241.5 991.9C245.7 999.9 250 1007.8 253.4 1015.8C256.8 1023.8 261.3 1031.8 262.5 1039.8C263 1043 263.5 1046.1 263.5 1049.3C263.5 1053.3 261.7 1057.3 261.7 1061.3C261.7 1066.9 265.9 1072.5 265.9 1078.1C265.9 1081.3 263.8 1084.5 261.7 1087.7C259.6 1090.9 252.6 1094 248.7 1097.2C244.7 1100.4 240.6 1103.6 237.9 1106.8C234.6 1110.8 231.7 1114.8 230.1 1118.8C229 1121.4 228.5 1124.1 227.7 1126.7L227.7 1126.7C226.9 1124.1 226.4 1121.4 225.3 1118.8C223.7 1114.8 220.8 1110.8 217.5 1106.8C214.8 1103.6 210.7 1100.4 206.7 1097.2C202.8 1094 195.8 1090.9 193.7 1087.7C191.6 1084.5 189.5 1081.3 189.5 1078.1C189.5 1072.5 193.7 1066.9 193.7 1061.3C193.7 1057.3 191.9 1053.3 191.9 1049.3C191.9 1046.1 192.4 1043 192.9 1039.8C194.1 1031.8 198.6 1023.8 202 1015.8C205.4 1007.8 209.7 999.9 213.9 991.9C218.1 983.9 226.9 975.9 227.4 967.9C227.6 965.5 227.6 963.1 227.7 960.7Z" fill="#5573cd"/>
<path d="M329 876.6V1145.3" stroke="#2b2b2b" stroke-width="3.7" fill="none"/>
<path d="M327.1 1145.1L329 1152.3L330.9 1145.1Z" fill="#2b2b2b"/>
<path d="M329.2 916.4C329.7 918.4 330.7 920.4 330.8 922.4C331.3 930.4 331.2 938.4 331.5 946.4C331.7 951.1 332 955.8 332.4 960.4C332.6 963.1 332.9 965.8 333.3 968.4C334.6 976.3 342.3 984.1 346.2 991.9C350.2 999.9 353.6 1007.8 357 1015.8C360.4 1023.8 365.5 1031.8 366.6 1039.8C367.2 1044.6 367.5 1049.3 367.8 1054.1C368 1058.1 368 1062.1 368.3 1066.1C368.6 1070.1 370.2 1074.1 370.2 1078.1C370.2 1080.5 369 1082.9 367.8 1085.3C365.8 1089.3 355.9 1093.2 351 1097.2C347 1100.4 342.5 1103.6 340.3 1106.8C337.5 1110.8 335.3 1114.8 334.3 1118.8C333.8 1120.7 333.6 1122.7 333.3 1124.6C332.7 1128.3 331.7 1131.9 331.4 1135.6C331.1 1139.1 331.1 1142.5 330.8 1146C330.6 1148 329.7 1150 329.2 1152L328.8 1152C328.3 1150 327.4 1148 327.2 1146C326.9 1142.5 326.9 1139.1 326.6 1135.6C326.3 1131.9 325.3 1128.3 324.7 1124.6C324.4 1122.7 324.2 1120.7 323.7 1118.8C322.7 1114.8 320.5 1110.8 317.7 1106.8C315.5 1103.6 311 1100.4 307 1097.2C302.1 1093.2 292.2 1089.3 290.2 1085.3C289 1082.9 287.8 1080.5 287.8 1078.1C287.8 1074.1 289.4 1070.1 289.7 1066.1C290 1062.1 290 1058.1 290.2 1054.1C290.5 1049.3 290.8 1044.6 291.4 1039.8C292.5 1031.8 297.6 1023.8 301 1015.8C304.4 1007.8 307.8 999.9 311.8 991.9C315.7 984.1 323.4 976.3 324.7 968.4C325.1 965.8 325.4 963.1 325.6 960.4C326 955.8 326.3 951.1 326.5 946.4C326.8 938.4 326.7 930.4 327.2 922.4C327.3 920.4 328.3 918.4 328.8 916.4Z" fill="#2b2b2b"/>
<path d="M329 968.4C333.7 976.3 339.2 984.1 343.2 991.9C347.3 999.9 350.6 1007.8 354 1015.8C357.4 1023.8 362.5 1031.8 363.6 1039.8C364.2 1044.6 364.5 1049.3 364.8 1054.1C365 1058.1 365 1062.1 365.3 1066.1C365.6 1070.1 367.2 1074.1 367.2 1078.1C367.2 1080.5 366 1082.9 364.8 1085.3C362.8 1089.3 352.9 1093.2 348 1097.2C344 1100.4 339.8 1103.6 337.3 1106.8C334.2 1110.8 331.7 1114.8 330.4 1118.8C329.8 1120.7 329.5 1122.7 329 1124.6L329 1124.6C328.5 1122.7 328.2 1120.7 327.6 1118.8C326.3 1114.8 323.8 1110.8 320.7 1106.8C318.2 1103.6 314 1100.4 310 1097.2C305.1 1093.2 295.2 1089.3 293.2 1085.3C292 1082.9 290.8 1080.5 290.8 1078.1C290.8 1074.1 292.4 1070.1 292.7 1066.1C293 1062.1 293 1058.1 293.2 1054.1C293.5 1049.3 293.8 1044.6 294.4 1039.8C295.5 1031.8 300.6 1023.8 304 1015.8C307.4 1007.8 310.7 999.9 314.8 991.9C318.8 984.1 324.3 976.3 329 968.4Z" fill="#107010"/>
<path d="M430.4 876.6V1145.3" stroke="#2b2b2b" stroke-width="3.7" fill="none"/>
<path d="M428.5 1145.1L430.4 1152.3L432.2 1145.1Z" fill="#2b2b2b"/>
<path d="M430.6 917.4C431.1 919.4 432.1 921.4 432.2 923.4C432.7 931.4 432.6 939.4 432.9 947.4C433.1 952.1 433.4 956.7 433.8 961.4C434 964.1 434.3 966.7 434.7 969.4C435.9 976.9 441.7 984.4 445.3 991.9C449.2 999.9 453.4 1007.8 457.2 1015.8C461 1023.8 464.7 1031.8 468 1039.8C469.3 1043 471.6 1046.1 471.6 1049.3C471.6 1054.1 470.9 1058.9 470.4 1063.7C469.9 1068.5 469.2 1073.3 468 1078.1C467.2 1081.3 465.4 1084.5 463.2 1087.7C460.4 1091.7 452.6 1095.6 448.8 1099.6C445 1103.6 441.4 1107.6 439.3 1111.6C437.3 1115.4 435.5 1119.1 434.7 1122.9C433.4 1128.6 433.3 1134.3 432.2 1140C431.8 1142 431.1 1144 430.6 1146L430.2 1146C429.7 1144 429 1142 428.6 1140C427.5 1134.3 427.4 1128.6 426.1 1122.9C425.3 1119.1 423.5 1115.4 421.5 1111.6C419.4 1107.6 415.8 1103.6 412 1099.6C408.2 1095.6 400.4 1091.7 397.6 1087.7C395.4 1084.5 393.6 1081.3 392.8 1078.1C391.6 1073.3 390.9 1068.5 390.4 1063.7C389.9 1058.9 389.2 1054.1 389.2 1049.3C389.2 1046.1 391.5 1043 392.8 1039.8C396.1 1031.8 399.8 1023.8 403.6 1015.8C407.4 1007.8 411.6 999.9 415.5 991.9C419.1 984.4 424.9 976.9 426.1 969.4C426.5 966.7 426.8 964.1 427 961.4C427.4 956.7 427.7 952.1 427.9 947.4C428.2 939.4 428.1 931.4 428.6 923.4C428.7 921.4 429.7 919.4 430.2 917.4Z" fill="#2b2b2b"/>
<path d="M430.4 969.4C434.4 976.9 438.5 984.4 442.3 991.9C446.4 999.9 450.4 1007.8 454.2 1015.8C458 1023.8 461.7 1031.8 465 1039.8C466.3 1043 468.6 1046.1 468.6 1049.3C468.6 1054.1 467.9 1058.9 467.4 1063.7C466.9 1068.5 466.2 1073.3 465 1078.1C464.2 1081.3 462.4 1084.5 460.2 1087.7C457.4 1091.7 449.6 1095.6 445.8 1099.6C442 1103.6 438.8 1107.6 436.3 1111.6C433.9 1115.4 432.4 1119.1 430.4 1122.9L430.4 1122.9C428.4 1119.1 426.9 1115.4 424.5 1111.6C422 1107.6 418.8 1103.6 415 1099.6C411.2 1095.6 403.4 1091.7 400.6 1087.7C398.4 1084.5 396.6 1081.3 395.8 1078.1C394.6 1073.3 393.9 1068.5 393.4 1063.7C392.9 1058.9 392.2 1054.1 392.2 1049.3C392.2 1046.1 394.5 1043 395.8 1039.8C399.1 1031.8 402.8 1023.8 406.6 1015.8C410.4 1007.8 414.4 999.9 418.5 991.9C422.3 984.4 426.4 976.9 430.4 969.4Z" fill="#20dfdf"/>
<path d="M532 876.6V1145.3" stroke="#2b2b2b" stroke-width="3.7" fill="none"/>
<path d="M530.1 1145.1L532 1152.3L533.9 1145.1Z" fill="#2b2b2b"/>
<path d="M532.2 899.1C532.7 901.1 533.7 903.1 533.8 905.1C534.3 913.1 534.2 921.1 534.5 929.1C534.7 933.8 535 938.4 535.4 943.1C535.6 945.8 536 948.4 536.3 951.1C537 956.7 537.3 962.3 538.5 967.9C540.2 975.9 548.7 983.9 552.8 991.9C556.9 999.9 560.3 1007.8 563.6 1015.8C566.2 1022.2 569.3 1028.6 570.8 1035C571.9 1039.8 573.2 1044.5 573.2 1049.3C573.2 1055.7 571.7 1062.1 570.8 1068.5C570.1 1073.3 569.8 1078.1 568.4 1082.9C567.5 1086.1 564.3 1089.3 561.2 1092.5C557.4 1096.5 547.8 1100.4 544.5 1104.4C540.6 1109 537.3 1113.7 536.3 1118.3C534.9 1124.9 535 1131.4 533.8 1138C533.4 1140 532.7 1142 532.2 1144L531.8 1144C531.3 1142 530.6 1140 530.2 1138C529 1131.4 529.1 1124.9 527.7 1118.3C526.7 1113.7 523.4 1109 519.5 1104.4C516.2 1100.4 506.6 1096.5 502.8 1092.5C499.7 1089.3 496.5 1086.1 495.6 1082.9C494.2 1078.1 493.9 1073.3 493.2 1068.5C492.3 1062.1 490.8 1055.7 490.8 1049.3C490.8 1044.5 492.1 1039.8 493.2 1035C494.7 1028.6 497.8 1022.2 500.4 1015.8C503.7 1007.8 507.1 999.9 511.2 991.9C515.3 983.9 523.8 975.9 525.5 967.9C526.7 962.3 527 956.7 527.7 951.1C528 948.4 528.4 945.8 528.6 943.1C529 938.4 529.3 933.8 529.5 929.1C529.8 921.1 529.7 913.1 530.2 905.1C530.3 903.1 531.3 901.1 531.8 899.1Z" fill="#2b2b2b"/>
<path d="M532 951.1C533 956.7 533.6 962.3 535.1 967.9C537.3 975.9 545.6 983.9 549.8 991.9C553.9 999.9 557.3 1007.8 560.6 1015.8C563.2 1022.2 566.3 1028.6 567.8 1035C568.9 1039.8 570.2 1044.5 570.2 1049.3C570.2 1055.7 568.7 1062.1 567.8 1068.5C567.1 1073.3 566.8 1078.1 565.4 1082.9C564.5 1086.1 561.3 1089.3 558.2 1092.5C554.4 1096.5 545.2 1100.4 541.5 1104.4C537.2 1109 535.2 1113.7 532 1118.3L532 1118.3C528.8 1113.7 526.8 1109 522.5 1104.4C518.8 1100.4 509.6 1096.5 505.8 1092.5C502.7 1089.3 499.5 1086.1 498.6 1082.9C497.2 1078.1 496.9 1073.3 496.2 1068.5C495.3 1062.1 493.8 1055.7 493.8 1049.3C493.8 1044.5 495.1 1039.8 496.2 1035C497.7 1028.6 500.8 1022.2 503.4 1015.8C506.7 1007.8 510.1 999.9 514.2 991.9C518.4 983.9 526.7 975.9 528.9 967.9C530.4 962.3 531 956.7 532 951.1Z" fill="#df20df"/>
<path d="M633.3 876.6V1146.5" stroke="#2b2b2b" stroke-width="3.7" fill="none"/>
<path d="M631.4 1146.3L633.3 1153.5L635.1 1146.3Z" fill="#2b2b2b"/>
<path d="M633.5 905.8C634 907.8 635 909.8 635.1 911.8C635.6 919.8 635.5 927.8 635.8 935.8C636 940.5 636.3 945.1 636.7 949.8C636.9 952.5 637.2 955.1 637.6 957.8C638.1 961.2 639.4 964.5 640.5 967.9C643.2 975.9 647.9 983.9 651.3 991.9C654.7 999.9 657.5 1007.8 660.8 1015.8C663.5 1022.2 667.3 1028.6 669.3 1035C671.3 1041.4 673.6 1047.7 674 1054.1C674.3 1058.9 674.5 1063.7 674.5 1068.5C674.5 1073.3 673.2 1078.1 671.6 1082.9C670.5 1086.1 667.4 1089.3 664.4 1092.5C660.7 1096.5 652.5 1100.4 648.9 1104.4C645.3 1108.4 642.3 1112.4 640.5 1116.4C639.2 1119.3 638.6 1122.2 637.6 1125.1C637 1127 635.9 1128.9 635.7 1130.8C635.3 1134.5 635.5 1138.3 635.1 1142C634.9 1144 634 1146 633.5 1148L633.1 1148C632.6 1146 631.7 1144 631.5 1142C631.1 1138.3 631.3 1134.5 630.9 1130.8C630.7 1128.9 629.6 1127 629 1125.1C628 1122.2 627.4 1119.3 626.1 1116.4C624.3 1112.4 621.3 1108.4 617.7 1104.4C614.1 1100.4 605.9 1096.5 602.2 1092.5C599.2 1089.3 596.1 1086.1 595 1082.9C593.4 1078.1 592.1 1073.3 592.1 1068.5C592.1 1063.7 592.3 1058.9 592.6 1054.1C593 1047.7 595.3 1041.4 597.3 1035C599.3 1028.6 603.1 1022.2 605.8 1015.8C609.1 1007.8 611.9 999.9 615.3 991.9C618.7 983.9 623.4 975.9 626.1 967.9C627.2 964.5 628.5 961.2 629 957.8C629.4 955.1 629.7 952.5 629.9 949.8C630.3 945.1 630.6 940.5 630.8 935.8C631.1 927.8 631 919.8 631.5 911.8C631.6 909.8 632.6 907.8 633.1 905.8Z" fill="#2b2b2b"/>
<path d="M633.3 957.8C634.7 961.2 635.9 964.5 637.4 967.9C640.8 975.9 644.9 983.9 648.3 991.9C651.7 999.9 654.5 1007.8 657.8 1015.8C660.5 1022.2 664.3 1028.6 666.3 1035C668.3 1041.4 670.6 1047.7 671 1054.1C671.3 1058.9 671.5 1063.7 671.5 1068.5C671.5 1073.3 670.2 1078.1 668.6 1082.9C667.5 1086.1 664.4 1089.3 661.4 1092.5C657.7 1096.5 649.5 1100.4 645.9 1104.4C642.2 1108.4 639.6 1112.4 637.4 1116.4C635.8 1119.3 634.7 1122.2 633.3 1125.1L633.3 1125.1C631.9 1122.2 630.8 1119.3 629.2 1116.4C627 1112.4 624.4 1108.4 620.7 1104.4C617.1 1100.4 608.9 1096.5 605.2 1092.5C602.2 1089.3 599.1 1086.1 598 1082.9C596.4 1078.1 595.1 1073.3 595.1 1068.5C595.1 1063.7 595.3 1058.9 595.6 1054.1C596 1047.7 598.3 1041.4 600.3 1035C602.3 1028.6 606.1 1022.2 608.8 1015.8C612.1 1007.8 614.9 999.9 618.3 991.9C621.7 983.9 625.8 975.9 629.2 967.9C630.7 964.5 631.9 961.2 633.3 957.8Z" fill="#dfdf20"/>
<path d="M734.7 876.6V1147.7" stroke="#2b2b2b" stroke-width="3.7" fill="none"/>
<path d="M732.9 1147.5L734.7 1154.7L736.6 1147.5Z" fill="#2b2b2b"/>
<path d="M734.9 878C735.4 880 736.4 882 736.5 884C737 892 736.9 900 737.2 908C737.4 912.7 737.7 917.3 738.1 922C738.3 924.7 738.7 927.3 739 930C739.6 934.6 740 939.3 740.9 943.9C742.5 951.9 747.1 959.9 750.5 967.9C753.9 975.9 757.9 983.9 761.3 991.9C764.7 999.9 768.5 1007.8 770.9 1015.8C772.9 1022.2 775.1 1028.6 775.7 1035C776.3 1041.4 776.9 1047.7 776.9 1054.1C776.9 1058.9 775 1063.7 773.3 1068.5C771.6 1073.3 768.2 1078.1 764.9 1082.9C761.6 1087.7 756.4 1092.4 752.9 1097.2C749.3 1102 745.5 1106.8 743.3 1111.6C741.5 1115.6 740.4 1119.5 739 1123.5C738.7 1124.3 738.3 1125.2 738.1 1126C737.1 1131.3 737.3 1136.7 736.5 1142C736.2 1144 735.4 1146 734.9 1148L734.5 1148C734 1146 733.2 1144 732.9 1142C732.1 1136.7 732.3 1131.3 731.3 1126C731.1 1125.2 730.7 1124.3 730.4 1123.5C729 1119.5 727.9 1115.6 726.1 1111.6C723.9 1106.8 720.1 1102 716.5 1097.2C713 1092.4 707.8 1087.7 704.5 1082.9C701.2 1078.1 697.8 1073.3 696.1 1068.5C694.4 1063.7 692.5 1058.9 692.5 1054.1C692.5 1047.7 693.1 1041.4 693.7 1035C694.3 1028.6 696.5 1022.2 698.5 1015.8C700.9 1007.8 704.7 999.9 708.1 991.9C711.5 983.9 715.5 975.9 718.9 967.9C722.3 959.9 726.9 951.9 728.5 943.9C729.4 939.3 729.8 934.6 730.4 930C730.7 927.3 731.1 924.7 731.3 922C731.7 917.3 732 912.7 732.2 908C732.5 900 732.4 892 732.9 884C733 882 734 880 734.5 878Z" fill="#2b2b2b"/>
<path d="M734.7 930C735.6 934.6 736.2 939.3 737.4 943.9C739.4 951.9 744 959.9 747.5 967.9C751 975.9 754.9 983.9 758.3 991.9C761.7 999.9 765.5 1007.8 767.9 1015.8C769.9 1022.2 772.1 1028.6 772.7 1035C773.3 1041.4 773.9 1047.7 773.9 1054.1C773.9 1058.9 772 1063.7 770.3 1068.5C768.6 1073.3 765.2 1078.1 761.9 1082.9C758.6 1087.7 753.4 1092.4 749.9 1097.2C746.3 1102 742.9 1106.8 740.3 1111.6C738.1 1115.6 736.6 1119.5 734.7 1123.5L734.7 1123.5C732.8 1119.5 731.3 1115.6 729.1 1111.6C726.5 1106.8 723.1 1102 719.5 1097.2C716 1092.4 710.8 1087.7 707.5 1082.9C704.2 1078.1 700.8 1073.3 699.1 1068.5C697.4 1063.7 695.5 1058.9 695.5 1054.1C695.5 1047.7 696.1 1041.4 696.7 1035C697.3 1028.6 699.5 1022.2 701.5 1015.8C703.9 1007.8 707.7 999.9 711.1 991.9C714.5 983.9 718.4 975.9 721.9 967.9C725.4 959.9 730 951.9 732 943.9C733.2 939.3 733.8 934.6 734.7 930Z" fill="#df2020"/>
</g>
<path d="M157.3 904.8H805.5M157.3 933H805.5M157.3 961.2H805.5M157.3 989.4H805.5M157.3 1017.6H805.5M157.3 1045.8H805.5M157.3 1074H805.5M157.3 1102.2H805.5M157.3 1130.4H805.5" stroke="#c8c8c8" stroke-opacity="0.3" stroke-width="1.3" stroke-dasharray="1.8 1.3" fill="none"/>
<g clip-path="url(#pc1)">
<path d="M227.7 958.7V1128.7" stroke="#2b2b2b" stroke-width="2.5" fill="none"/>
<rect x="222.5" y="1015.3" width="10.4" height="65.7" fill="#2b2b2b"/>
<path d="M329 966.4V1126.6" stroke="#2b2b2b" stroke-width="2.5" fill="none"/>
<rect x="323.8" y="1013.4" width="10.4" height="64.7" fill="#2b2b2b"/>
<path d="M430.4 967.4V1124.9" stroke="#2b2b2b" stroke-width="2.5" fill="none"/>
<rect x="425.2" y="1021.8" width="10.4" height="61.1" fill="#2b2b2b"/>
<path d="M532 949.1V1120.3" stroke="#2b2b2b" stroke-width="2.5" fill="none"/>
<rect x="526.8" y="1011" width="10.4" height="67.1" fill="#2b2b2b"/>
<path d="M633.3 955.8V1127.1" stroke="#2b2b2b" stroke-width="2.5" fill="none"/>
<rect x="628.1" y="1013.9" width="10.4" height="67.8" fill="#2b2b2b"/>
<path d="M734.7 928V1125.5" stroke="#2b2b2b" stroke-width="2.5" fill="none"/>
<rect x="729.5" y="999" width="10.4" height="74.3" fill="#2b2b2b"/>
</g>
<path d="M227.7 1049.8L329 1048.1L430.4 1054.6L532 1046.5L633.3 1050.5L734.7 1039" stroke="#000" stroke-width="1.9" stroke-dasharray="8.4 4" fill="none"/>
<ellipse cx="227.7" cy="1049.8" rx="1.9" ry="1.8" fill="#fff"/>
<ellipse cx="329" cy="1048.1" rx="1.9" ry="1.8" fill="#fff"/>
<ellipse cx="430.4" cy="1054.6" rx="1.9" ry="1.8" fill="#fff"/>
<ellipse cx="532" cy="1046.5" rx="1.9" ry="1.8" fill="#fff"/>
<ellipse cx="633.3" cy="1050.5" rx="1.9" ry="1.8" fill="#fff"/>
<ellipse cx="734.7" cy="1039" rx="1.9" ry="1.8" fill="#fff"/>
<rect x="173.2" y="878.8" width="104.5" height="27.6" fill="#fff" fill-opacity="0.82"/>
<text transform="translate(226.1 904.8)" font-size="26.1" text-anchor="middle"><tspan font-style="italic">n</tspan> = 9916</text>
<rect x="274.5" y="903.1" width="104.5" height="27.6" fill="#fff" fill-opacity="0.82"/>
<text transform="translate(329.3 929.1)" font-size="26.1" text-anchor="middle"><tspan font-style="italic">n</tspan> = 9947</text>
<rect x="375.9" y="878.8" width="104.5" height="27.6" fill="#fff" fill-opacity="0.82"/>
<text transform="translate(431.9 904.8)" font-size="26.1" text-anchor="middle"><tspan font-style="italic">n</tspan> = 9934</text>
<rect x="477.5" y="903.1" width="104.5" height="27.6" fill="#fff" fill-opacity="0.82"/>
<text transform="translate(532.8 929.1)" font-size="26.1" text-anchor="middle"><tspan font-style="italic">n</tspan> = 9954</text>
<rect x="578.8" y="878.8" width="104.5" height="27.6" fill="#fff" fill-opacity="0.82"/>
<text transform="translate(634.6 904.8)" font-size="26.1" text-anchor="middle"><tspan font-style="italic">n</tspan> = 9874</text>
<rect x="680.2" y="903.1" width="123.7" height="27.6" fill="#fff" fill-opacity="0.82"/>
<text transform="translate(741 929.1)" font-size="26.1" text-anchor="middle"><tspan font-style="italic">n</tspan> = 9780</text>
<rect x="157.3" y="876.6" width="648.2" height="282" fill="none" stroke="#000" stroke-width="2.8"/>
<path d="M144.6 876.6H157.3" stroke="#000" stroke-width="2.9"/>
<text transform="translate(132.6 886.2)" font-size="29" text-anchor="end">200</text>
<path d="M144.6 1017.6H157.3" stroke="#000" stroke-width="2.9"/>
<text transform="translate(132.6 1027.2)" font-size="29" text-anchor="end">100</text>
<path d="M144.6 1158.6H157.3" stroke="#000" stroke-width="2.9"/>
<text transform="translate(132.6 1168.2)" font-size="29" text-anchor="end">0</text>
<text transform="translate(278.3 841.5)" font-size="34.2" text-anchor="middle">-0.06</text>
<text transform="translate(380.1 841.5)" font-size="34.2" text-anchor="middle">0.17</text>
<text transform="translate(481.5 841.5)" font-size="34.2" text-anchor="middle">-0.18</text>
<text transform="translate(584.4 841.5)" font-size="34.2" text-anchor="middle">0.05</text>
<text transform="translate(685 841.5)" font-size="34.2" text-anchor="middle">-0.24</text>
<path d="M229.4 867.5V852.2H327.5V867.5M330.9 867.5V852.2H429.1V867.5M432.5 867.5V852.2H530.9V867.5M534.3 867.5V852.2H632.4V867.5M635.8 867.5V852.2H734V867.5" stroke="#000" stroke-width="2.3" fill="none"/>
<path d="M157.3 1285.4H805.5M157.3 1313.7H805.5M157.3 1342H805.5M157.3 1370.3H805.5M157.3 1398.6H805.5M157.3 1427H805.5M157.3 1455.3H805.5M157.3 1483.6H805.5M157.3 1511.9H805.5" stroke="#b0b0b0" stroke-width="1.3" stroke-dasharray="1.8 1.3" fill="none"/>
<g clip-path="url(#pc2)">
<path d="M227.7 1257.1V1476.8" stroke="#2b2b2b" stroke-width="3.7" fill="none"/>
<path d="M227.9 1318C228.4 1320 229.1 1322 229.5 1324C230.4 1328 231.1 1332 231.7 1336C231.8 1336.7 231.9 1337.4 232 1338.1C232.8 1343.7 234.4 1349.4 234.4 1355C234.4 1360.6 234.4 1366.3 234.4 1371.9C234.4 1375.9 236.8 1379.8 238.5 1383.8C240.3 1387.8 243 1391.8 245.7 1395.8C248.4 1399.8 251.8 1403.8 255.2 1407.8C258.6 1411.8 263.5 1415.8 266 1419.8C267.5 1422.2 269.6 1424.6 269.6 1427C269.6 1429.4 267.8 1431.7 266 1434.1C263.6 1437.3 255.9 1440.5 250.5 1443.7C245.1 1446.9 236.2 1450.1 233.7 1453.3C232.9 1454.3 232.6 1455.3 232 1456.4C231.2 1457.7 229.8 1459.1 229.7 1460.5C229.6 1462.3 229.6 1464.2 229.5 1466C229.4 1468 228.4 1470 227.9 1472L227.5 1472C227 1470 226 1468 225.9 1466C225.8 1464.2 225.8 1462.3 225.7 1460.5C225.6 1459.1 224.2 1457.7 223.4 1456.4C222.8 1455.3 222.5 1454.3 221.7 1453.3C219.2 1450.1 210.3 1446.9 204.9 1443.7C199.5 1440.5 191.8 1437.3 189.4 1434.1C187.6 1431.7 185.8 1429.4 185.8 1427C185.8 1424.6 187.9 1422.2 189.4 1419.8C191.9 1415.8 196.8 1411.8 200.2 1407.8C203.6 1403.8 207 1399.8 209.7 1395.8C212.4 1391.8 215.1 1387.8 216.9 1383.8C218.6 1379.8 221 1375.9 221 1371.9C221 1366.3 221 1360.6 221 1355C221 1349.4 222.6 1343.7 223.4 1338.1C223.5 1337.4 223.6 1336.7 223.7 1336C224.3 1332 225 1328 225.9 1324C226.3 1322 227 1320 227.5 1318Z" fill="#2b2b2b"/>
<path d="M227.7 1338.1C228.8 1343.7 231.1 1349.4 231.1 1355C231.1 1360.6 231.1 1366.3 231.1 1371.9C231.1 1375.9 233.7 1379.8 235.5 1383.8C237.3 1387.8 240 1391.8 242.7 1395.8C245.4 1399.8 248.8 1403.8 252.2 1407.8C255.6 1411.8 260.5 1415.8 263 1419.8C264.5 1422.2 266.6 1424.6 266.6 1427C266.6 1429.4 264.8 1431.7 263 1434.1C260.6 1437.3 253 1440.5 247.5 1443.7C242 1446.9 233.4 1450.1 230.1 1453.3C229 1454.3 228.5 1455.3 227.7 1456.4L227.7 1456.4C226.9 1455.3 226.4 1454.3 225.3 1453.3C222 1450.1 213.4 1446.9 207.9 1443.7C202.4 1440.5 194.8 1437.3 192.4 1434.1C190.6 1431.7 188.8 1429.4 188.8 1427C188.8 1424.6 190.9 1422.2 192.4 1419.8C194.9 1415.8 199.8 1411.8 203.2 1407.8C206.6 1403.8 210 1399.8 212.7 1395.8C215.4 1391.8 218.1 1387.8 219.9 1383.8C221.7 1379.8 224.3 1375.9 224.3 1371.9C224.3 1366.3 224.3 1360.6 224.3 1355C224.3 1349.4 226.6 1343.7 227.7 1338.1Z" fill="#5573cd"/>
<path d="M329 1315.6V1477.2" stroke="#2b2b2b" stroke-width="3.7" fill="none"/>
<path d="M329.2 1377.8C329.7 1379.8 330.5 1381.8 330.8 1383.8C331.4 1387.8 331.2 1391.8 331.9 1395.8C332.1 1396.7 332.8 1397.7 333.3 1398.6C334.8 1401.7 335.8 1404.7 337.9 1407.8C340.6 1411.8 345.9 1415.8 351 1419.8C355 1423 362.5 1426.1 365.4 1429.3C367.6 1431.7 370.2 1434.1 370.2 1436.5C370.2 1438.9 366.3 1441.3 363 1443.7C358.7 1446.9 346.6 1450.1 341.5 1453.3C338.1 1455.5 334.6 1457.6 333.3 1459.8C332 1461.9 331.5 1463.9 330.8 1466C330.2 1468 329.7 1470 329.2 1472L328.8 1472C328.3 1470 327.8 1468 327.2 1466C326.5 1463.9 326 1461.9 324.7 1459.8C323.4 1457.6 319.9 1455.5 316.5 1453.3C311.4 1450.1 299.3 1446.9 295 1443.7C291.7 1441.3 287.8 1438.9 287.8 1436.5C287.8 1434.1 290.4 1431.7 292.6 1429.3C295.5 1426.1 303 1423 307 1419.8C312.1 1415.8 317.4 1411.8 320.1 1407.8C322.2 1404.7 323.2 1401.7 324.7 1398.6C325.2 1397.7 325.9 1396.7 326.1 1395.8C326.8 1391.8 326.6 1387.8 327.2 1383.8C327.5 1381.8 328.3 1379.8 328.8 1377.8Z" fill="#2b2b2b"/>
<path d="M329 1398.6C331 1401.7 332.5 1404.7 334.9 1407.8C338.1 1411.8 342.9 1415.8 348 1419.8C352 1423 359.5 1426.1 362.4 1429.3C364.6 1431.7 367.2 1434.1 367.2 1436.5C367.2 1438.9 363.3 1441.3 360 1443.7C355.7 1446.9 344.1 1450.1 338.5 1453.3C334.7 1455.5 332.2 1457.6 329 1459.8L329 1459.8C325.8 1457.6 323.3 1455.5 319.5 1453.3C313.9 1450.1 302.3 1446.9 298 1443.7C294.7 1441.3 290.8 1438.9 290.8 1436.5C290.8 1434.1 293.4 1431.7 295.6 1429.3C298.5 1426.1 306 1423 310 1419.8C315.1 1415.8 319.9 1411.8 323.1 1407.8C325.5 1404.7 327 1401.7 329 1398.6Z" fill="#107010"/>
<path d="M430.4 1298.3V1503.6" stroke="#2b2b2b" stroke-width="3.7" fill="none"/>
<path d="M430.6 1401.8C431.1 1403.8 431.7 1405.8 432.2 1407.8C433.2 1412.1 433.7 1416.4 434.7 1420.8C435.6 1424.4 436.4 1428.1 438.1 1431.7C439.9 1435.7 443.7 1439.7 448.8 1443.7C451.9 1446.1 459.5 1448.5 463.2 1450.9C466.9 1453.3 472.3 1455.6 472.3 1458C472.3 1460.4 465.8 1462.9 460.8 1465.3C455.8 1467.7 443.3 1470.1 439.3 1472.5C437.2 1473.8 436.2 1475 434.7 1476.3C433.9 1477 432.3 1477.7 432.3 1478.4C432.2 1479.9 432.3 1481.5 432.2 1483C432.1 1485 431.1 1487 430.6 1489L430.2 1489C429.7 1487 428.7 1485 428.6 1483C428.5 1481.5 428.6 1479.9 428.5 1478.4C428.5 1477.7 426.9 1477 426.1 1476.3C424.6 1475 423.6 1473.8 421.5 1472.5C417.5 1470.1 405 1467.7 400 1465.3C395 1462.9 388.5 1460.4 388.5 1458C388.5 1455.6 393.9 1453.3 397.6 1450.9C401.3 1448.5 408.9 1446.1 412 1443.7C417.1 1439.7 420.9 1435.7 422.7 1431.7C424.4 1428.1 425.2 1424.4 426.1 1420.8C427.1 1416.4 427.6 1412.1 428.6 1407.8C429.1 1405.8 429.7 1403.8 430.2 1401.8Z" fill="#2b2b2b"/>
<path d="M430.4 1420.8C432 1424.4 433 1428.1 435.1 1431.7C437.4 1435.7 440.7 1439.7 445.8 1443.7C448.9 1446.1 456.5 1448.5 460.2 1450.9C463.9 1453.3 469.3 1455.6 469.3 1458C469.3 1460.4 462.8 1462.9 457.8 1465.3C452.8 1467.7 441.1 1470.1 436.3 1472.5C433.8 1473.8 432.4 1475 430.4 1476.3L430.4 1476.3C428.4 1475 427 1473.8 424.5 1472.5C419.7 1470.1 408 1467.7 403 1465.3C398 1462.9 391.5 1460.4 391.5 1458C391.5 1455.6 396.9 1453.3 400.6 1450.9C404.3 1448.5 411.9 1446.1 415 1443.7C420.1 1439.7 423.4 1435.7 425.7 1431.7C427.8 1428.1 428.8 1424.4 430.4 1420.8Z" fill="#20dfdf"/>
<path d="M532 1257.1V1491.6" stroke="#2b2b2b" stroke-width="3.7" fill="none"/>
<path d="M532.2 1413.8C532.7 1415.8 533.5 1417.8 533.8 1419.8C534.4 1423.8 534.1 1427.7 534.9 1431.7C535 1432.3 535.8 1433 536.3 1433.6C538.2 1436.2 539.3 1438.7 542 1441.3C544.5 1443.7 550.2 1446.1 555.2 1448.5C559.4 1450.5 567 1452.5 569.6 1454.5C571.7 1456.1 573.9 1457.7 573.9 1459.3C573.9 1461.3 568.6 1463.3 564.8 1465.3C560.2 1467.7 550.7 1470.1 545.6 1472.5C541.9 1474.2 537.5 1475.9 536.3 1477.6C534.9 1479.6 534.5 1481.6 533.8 1483.6C533.1 1485.6 532.7 1487.6 532.2 1489.6L531.8 1489.6C531.3 1487.6 530.9 1485.6 530.2 1483.6C529.5 1481.6 529.1 1479.6 527.7 1477.6C526.5 1475.9 522.1 1474.2 518.4 1472.5C513.3 1470.1 503.8 1467.7 499.2 1465.3C495.4 1463.3 490.1 1461.3 490.1 1459.3C490.1 1457.7 492.3 1456.1 494.4 1454.5C497 1452.5 504.6 1450.5 508.8 1448.5C513.8 1446.1 519.5 1443.7 522 1441.3C524.7 1438.7 525.8 1436.2 527.7 1433.6C528.2 1433 529 1432.3 529.1 1431.7C529.9 1427.7 529.6 1423.8 530.2 1419.8C530.5 1417.8 531.3 1415.8 531.8 1413.8Z" fill="#2b2b2b"/>
<path d="M532 1433.6C534.3 1436.2 535.9 1438.7 539 1441.3C541.9 1443.7 547.2 1446.1 552.2 1448.5C556.4 1450.5 564 1452.5 566.6 1454.5C568.7 1456.1 570.9 1457.7 570.9 1459.3C570.9 1461.3 565.6 1463.3 561.8 1465.3C557.2 1467.7 548.1 1470.1 542.6 1472.5C538.6 1474.2 535.5 1475.9 532 1477.6L532 1477.6C528.5 1475.9 525.4 1474.2 521.4 1472.5C515.9 1470.1 506.8 1467.7 502.2 1465.3C498.4 1463.3 493.1 1461.3 493.1 1459.3C493.1 1457.7 495.3 1456.1 497.4 1454.5C500 1452.5 507.6 1450.5 511.8 1448.5C516.8 1446.1 522.1 1443.7 525 1441.3C528.1 1438.7 529.7 1436.2 532 1433.6Z" fill="#df20df"/>
<path d="M633.3 1257.1V1496.4" stroke="#2b2b2b" stroke-width="3.7" fill="none"/>
<path d="M633.5 1409C634 1411 634.7 1413 635.1 1415C636.3 1421 636.2 1427.1 637.6 1433.1C638.2 1435.8 639.6 1438.6 641.7 1441.3C643.5 1443.7 648.4 1446.1 652.5 1448.5C656.6 1450.9 662.8 1453.3 666.8 1455.7C669.7 1457.5 674.5 1459.2 674.5 1461C674.5 1463.2 666.9 1465.5 662 1467.7C656.8 1470.1 647 1472.5 642.9 1474.9C640.6 1476.3 639.4 1477.6 637.6 1479C636.8 1479.6 635.2 1480.2 635.2 1480.8C635.1 1482.2 635.2 1483.6 635.1 1485C635 1487 634 1489 633.5 1491L633.1 1491C632.6 1489 631.6 1487 631.5 1485C631.4 1483.6 631.5 1482.2 631.4 1480.8C631.4 1480.2 629.8 1479.6 629 1479C627.2 1477.6 626 1476.3 623.7 1474.9C619.6 1472.5 609.8 1470.1 604.6 1467.7C599.7 1465.5 592.1 1463.2 592.1 1461C592.1 1459.2 596.9 1457.5 599.8 1455.7C603.8 1453.3 610 1450.9 614.1 1448.5C618.2 1446.1 623.1 1443.7 624.9 1441.3C627 1438.6 628.4 1435.8 629 1433.1C630.4 1427.1 630.3 1421 631.5 1415C631.9 1413 632.6 1411 633.1 1409Z" fill="#2b2b2b"/>
<path d="M633.3 1433.1C635.1 1435.8 636.2 1438.6 638.7 1441.3C640.9 1443.7 645.4 1446.1 649.5 1448.5C653.6 1450.9 659.8 1453.3 663.8 1455.7C666.7 1457.5 671.5 1459.2 671.5 1461C671.5 1463.2 663.9 1465.5 659 1467.7C653.8 1470.1 644.6 1472.5 639.9 1474.9C637.2 1476.3 635.5 1477.6 633.3 1479L633.3 1479C631.1 1477.6 629.4 1476.3 626.7 1474.9C622 1472.5 612.8 1470.1 607.6 1467.7C602.7 1465.5 595.1 1463.2 595.1 1461C595.1 1459.2 599.9 1457.5 602.8 1455.7C606.8 1453.3 613 1450.9 617.1 1448.5C621.2 1446.1 625.7 1443.7 627.9 1441.3C630.4 1438.6 631.5 1435.8 633.3 1433.1Z" fill="#dfdf20"/>
<path d="M734.7 1257.1V1496.4" stroke="#2b2b2b" stroke-width="3.7" fill="none"/>
<path d="M734.9 1421C735.4 1423 736.1 1425 736.5 1427C737.6 1432 737.6 1437 739 1442C739.9 1444.9 742.4 1447.9 745.7 1450.9C748.3 1453.3 755.1 1455.6 760.1 1458C764.4 1460 770.6 1462.1 773.3 1464.1C774.9 1465.3 776.9 1466.5 776.9 1467.7C776.9 1469.7 769.6 1471.7 764.9 1473.7C760.3 1475.7 752.4 1477.6 748.1 1479.6C744.4 1481.3 740.2 1483 739 1484.7C737.6 1486.7 737.2 1488.7 736.5 1490.7C735.8 1492.7 735.4 1494.7 734.9 1496.7L734.5 1496.7C734 1494.7 733.6 1492.7 732.9 1490.7C732.2 1488.7 731.8 1486.7 730.4 1484.7C729.2 1483 725 1481.3 721.3 1479.6C717 1477.6 709.1 1475.7 704.5 1473.7C699.8 1471.7 692.5 1469.7 692.5 1467.7C692.5 1466.5 694.5 1465.3 696.1 1464.1C698.8 1462.1 705 1460 709.3 1458C714.3 1455.6 721.1 1453.3 723.7 1450.9C727 1447.9 729.5 1444.9 730.4 1442C731.8 1437 731.8 1432 732.9 1427C733.3 1425 734 1423 734.5 1421Z" fill="#2b2b2b"/>
<path d="M734.7 1442C737.4 1444.9 738.9 1447.9 742.7 1450.9C745.7 1453.3 752.1 1455.6 757.1 1458C761.4 1460 767.6 1462.1 770.3 1464.1C771.9 1465.3 773.9 1466.5 773.9 1467.7C773.9 1469.7 766.6 1471.7 761.9 1473.7C757.3 1475.7 749.8 1477.6 745.1 1479.6C741.1 1481.3 738.2 1483 734.7 1484.7L734.7 1484.7C731.2 1483 728.3 1481.3 724.3 1479.6C719.6 1477.6 712.1 1475.7 707.5 1473.7C702.8 1471.7 695.5 1469.7 695.5 1467.7C695.5 1466.5 697.5 1465.3 699.1 1464.1C701.8 1462.1 708 1460 712.3 1458C717.3 1455.6 723.7 1453.3 726.7 1450.9C730.5 1447.9 732 1444.9 734.7 1442Z" fill="#df2020"/>
</g>
<path d="M157.3 1285.4H805.5M157.3 1313.7H805.5M157.3 1342H805.5M157.3 1370.3H805.5M157.3 1398.6H805.5M157.3 1427H805.5M157.3 1455.3H805.5M157.3 1483.6H805.5M157.3 1511.9H805.5" stroke="#c8c8c8" stroke-opacity="0.3" stroke-width="1.3" stroke-dasharray="1.8 1.3" fill="none"/>
<g clip-path="url(#pc2)">
<path d="M227.7 1336.1V1458.4" stroke="#2b2b2b" stroke-width="2.5" fill="none"/>
<rect x="222.5" y="1397" width="10.4" height="40" fill="#2b2b2b"/>
<path d="M329 1396.6V1461.8" stroke="#2b2b2b" stroke-width="2.5" fill="none"/>
<rect x="323.8" y="1416.6" width="10.4" height="29" fill="#2b2b2b"/>
<path d="M430.4 1418.8V1478.3" stroke="#2b2b2b" stroke-width="2.5" fill="none"/>
<rect x="425.2" y="1440.8" width="10.4" height="25.7" fill="#2b2b2b"/>
<path d="M532 1431.6V1479.6" stroke="#2b2b2b" stroke-width="2.5" fill="none"/>
<rect x="526.8" y="1446.6" width="10.4" height="23" fill="#2b2b2b"/>
<path d="M633.3 1431.1V1481" stroke="#2b2b2b" stroke-width="2.5" fill="none"/>
<rect x="628.1" y="1447.3" width="10.4" height="23.2" fill="#2b2b2b"/>
<path d="M734.7 1440V1486.7" stroke="#2b2b2b" stroke-width="2.5" fill="none"/>
<rect x="729.5" y="1455.7" width="10.4" height="20.3" fill="#2b2b2b"/>
</g>
<path d="M227.7 1420.5L329 1432.5L430.4 1455L532 1458L633.3 1459.3L734.7 1466" stroke="#000" stroke-width="1.9" stroke-dasharray="8.4 4" fill="none"/>
<ellipse cx="227.7" cy="1420.5" rx="1.9" ry="1.8" fill="#fff"/>
<ellipse cx="329" cy="1432.5" rx="1.9" ry="1.8" fill="#fff"/>
<ellipse cx="430.4" cy="1455" rx="1.9" ry="1.8" fill="#fff"/>
<ellipse cx="532" cy="1458" rx="1.9" ry="1.8" fill="#fff"/>
<ellipse cx="633.3" cy="1459.3" rx="1.9" ry="1.8" fill="#fff"/>
<ellipse cx="734.7" cy="1466" rx="1.9" ry="1.8" fill="#fff"/>
<rect x="173.2" y="1259.3" width="104.5" height="27.6" fill="#fff" fill-opacity="0.82"/>
<text transform="translate(226.1 1285.3)" font-size="26.1" text-anchor="middle"><tspan font-style="italic">n</tspan> = 9916</text>
<rect x="274.5" y="1283.6" width="104.5" height="27.6" fill="#fff" fill-opacity="0.82"/>
<text transform="translate(329.3 1309.6)" font-size="26.1" text-anchor="middle"><tspan font-style="italic">n</tspan> = 9947</text>
<rect x="375.9" y="1259.3" width="104.5" height="27.6" fill="#fff" fill-opacity="0.82"/>
<text transform="translate(431.9 1285.3)" font-size="26.1" text-anchor="middle"><tspan font-style="italic">n</tspan> = 9934</text>
<rect x="477.5" y="1283.6" width="104.5" height="27.6" fill="#fff" fill-opacity="0.82"/>
<text transform="translate(532.8 1309.6)" font-size="26.1" text-anchor="middle"><tspan font-style="italic">n</tspan> = 9954</text>
<rect x="578.8" y="1259.3" width="104.5" height="27.6" fill="#fff" fill-opacity="0.82"/>
<text transform="translate(634.6 1285.3)" font-size="26.1" text-anchor="middle"><tspan font-style="italic">n</tspan> = 9874</text>
<rect x="680.2" y="1283.6" width="123.7" height="27.6" fill="#fff" fill-opacity="0.82"/>
<text transform="translate(741 1309.6)" font-size="26.1" text-anchor="middle"><tspan font-style="italic">n</tspan> = 9780</text>
<rect x="157.3" y="1257.1" width="648.2" height="283.1" fill="none" stroke="#000" stroke-width="2.8"/>
<path d="M144.6 1257.1H157.3" stroke="#000" stroke-width="2.9"/>
<text transform="translate(132.6 1266.7)" font-size="29" text-anchor="end">3.0</text>
<path d="M144.6 1398.6H157.3" stroke="#000" stroke-width="2.9"/>
<text transform="translate(132.6 1408.2)" font-size="29" text-anchor="end">1.5</text>
<path d="M144.6 1540.2H157.3" stroke="#000" stroke-width="2.9"/>
<text transform="translate(132.6 1549.8)" font-size="29" text-anchor="end">0.0</text>
<text transform="translate(279.6 1218.7)" font-size="34.2" text-anchor="middle" font-weight="bold" fill="#c00000">0.70</text>
<text transform="translate(378.5 1218.7)" font-size="34.2" text-anchor="middle" font-weight="bold" fill="#c00000">1.35</text>
<text transform="translate(477.6 1218.7)" font-size="34.2" text-anchor="middle">0.38</text>
<text transform="translate(580.5 1218.7)" font-size="34.2" text-anchor="middle">-0.04</text>
<text transform="translate(684.5 1218.7)" font-size="34.2" text-anchor="middle">0.37</text>
<path d="M229.4 1246.4V1229.9H327.5V1246.4M330.9 1246.4V1229.9H429.1V1246.4M432.5 1246.4V1229.9H530.9V1246.4M534.3 1246.4V1229.9H632.4V1246.4M635.8 1246.4V1229.9H734V1246.4" stroke="#000" stroke-width="2.3" fill="none"/>
<path d="M157.3 1666.8H805.5M157.3 1695H805.5M157.3 1723.3H805.5M157.3 1751.5H805.5M157.3 1779.7H805.5M157.3 1807.9H805.5M157.3 1836.2H805.5M157.3 1864.4H805.5M157.3 1892.6H805.5" stroke="#b0b0b0" stroke-width="1.3" stroke-dasharray="1.8 1.3" fill="none"/>
<g clip-path="url(#pc3)">
<path d="M227.7 1638.6V1920.8" stroke="#2b2b2b" stroke-width="3.7" fill="none"/>
<path d="M227.9 1632C228.4 1634 229.4 1636 229.5 1638C230 1646 229.9 1654 230.2 1662C230.4 1666.7 230.7 1671.3 231.1 1676C231.3 1678.7 231.8 1681.3 232 1684C232.2 1686.8 232.3 1689.6 232.6 1692.4C232.9 1695.9 233.4 1699.4 234.3 1702.9C235.2 1706.4 239.2 1709.9 242.3 1713.4C245.4 1716.9 249.8 1720.5 253.2 1724C255.1 1726 256.9 1728 258.7 1730C261.1 1732.6 264.9 1735.3 266 1737.9C267.5 1741.5 268.9 1745.1 268.9 1748.7C268.9 1753.1 265.2 1757.5 262.4 1761.9C259.9 1765.9 255.1 1769.8 251.7 1773.8C248.3 1777.8 244.6 1781.8 242.1 1785.8C239.6 1789.8 237.5 1793.8 236.1 1797.8C234.7 1801.8 233.7 1805.8 233 1809.8C232.6 1812 232.3 1814.2 232 1816.4C231.7 1819.1 231.3 1821.7 231.1 1824.4C230.7 1829.1 230.4 1833.7 230.2 1838.4C229.9 1846.4 230 1854.4 229.5 1862.4C229.4 1864.4 228.4 1866.4 227.9 1868.4L227.5 1868.4C227 1866.4 226 1864.4 225.9 1862.4C225.4 1854.4 225.5 1846.4 225.2 1838.4C225 1833.7 224.7 1829.1 224.3 1824.4C224.1 1821.7 223.7 1819.1 223.4 1816.4C223.1 1814.2 222.8 1812 222.4 1809.8C221.7 1805.8 220.7 1801.8 219.3 1797.8C217.9 1793.8 215.8 1789.8 213.3 1785.8C210.8 1781.8 207.1 1777.8 203.7 1773.8C200.3 1769.8 195.5 1765.9 193 1761.9C190.2 1757.5 186.5 1753.1 186.5 1748.7C186.5 1745.1 187.9 1741.5 189.4 1737.9C190.5 1735.3 194.3 1732.6 196.7 1730C198.5 1728 200.3 1726 202.2 1724C205.6 1720.5 210 1716.9 213.1 1713.4C216.2 1709.9 220.2 1706.4 221.1 1702.9C222 1699.4 222.5 1695.9 222.8 1692.4C223.1 1689.6 223.2 1686.8 223.4 1684C223.6 1681.3 224.1 1678.7 224.3 1676C224.7 1671.3 225 1666.7 225.2 1662C225.5 1654 225.4 1646 225.9 1638C226 1636 227 1634 227.5 1632Z" fill="#2b2b2b"/>
<path d="M227.7 1684C228 1686.8 228.2 1689.6 228.5 1692.4C229 1695.9 229.7 1699.4 230.9 1702.9C232.2 1706.4 236.2 1709.9 239.3 1713.4C242.5 1716.9 246.8 1720.5 250.2 1724C252.1 1726 253.9 1728 255.7 1730C258.1 1732.6 261.9 1735.3 263 1737.9C264.5 1741.5 265.9 1745.1 265.9 1748.7C265.9 1753.1 262.2 1757.5 259.4 1761.9C256.9 1765.9 252.1 1769.8 248.7 1773.8C245.3 1777.8 241.6 1781.8 239.1 1785.8C236.6 1789.8 234.7 1793.8 233.1 1797.8C231.5 1801.8 230.1 1805.8 229.1 1809.8C228.5 1812 228.2 1814.2 227.7 1816.4L227.7 1816.4C227.2 1814.2 226.9 1812 226.3 1809.8C225.3 1805.8 223.9 1801.8 222.3 1797.8C220.7 1793.8 218.8 1789.8 216.3 1785.8C213.8 1781.8 210.1 1777.8 206.7 1773.8C203.3 1769.8 198.5 1765.9 196 1761.9C193.2 1757.5 189.5 1753.1 189.5 1748.7C189.5 1745.1 190.9 1741.5 192.4 1737.9C193.5 1735.3 197.3 1732.6 199.7 1730C201.5 1728 203.3 1726 205.2 1724C208.6 1720.5 212.9 1716.9 216.1 1713.4C219.2 1709.9 223.2 1706.4 224.5 1702.9C225.7 1699.4 226.4 1695.9 226.9 1692.4C227.2 1689.6 227.4 1686.8 227.7 1684Z" fill="#5573cd"/>
<path d="M329 1638.6V1920.8" stroke="#2b2b2b" stroke-width="3.7" fill="none"/>
<path d="M329.2 1650.3C329.7 1652.3 330.7 1654.3 330.8 1656.3C331.3 1664.3 331.2 1672.3 331.5 1680.3C331.7 1685 332 1689.7 332.4 1694.3C332.6 1697 332.8 1699.7 333.3 1702.3C334 1706.2 340 1710.1 343.9 1714C347.9 1718 353.3 1722 357 1726C360.7 1730 365.1 1733.9 366.6 1737.9C368.5 1742.7 370.2 1747.5 370.2 1752.3C370.2 1755.5 369 1758.7 367.8 1761.9C366.4 1765.9 362.3 1769.8 359.4 1773.8C356.5 1777.8 353.4 1781.8 350.6 1785.8C347.8 1789.8 344.7 1793.8 342.7 1797.8C340.7 1801.8 339.1 1805.8 337.9 1809.8C336.4 1814.6 335.2 1819.3 334.3 1824.1C333.9 1826.3 333.6 1828.5 333.3 1830.7C333 1833.4 332.6 1836.1 332.4 1838.7C332 1843.4 331.7 1848.1 331.5 1852.7C331.2 1860.7 331.3 1868.7 330.8 1876.7C330.7 1878.7 329.7 1880.7 329.2 1882.7L328.8 1882.7C328.3 1880.7 327.3 1878.7 327.2 1876.7C326.7 1868.7 326.8 1860.7 326.5 1852.7C326.3 1848.1 326 1843.4 325.6 1838.7C325.4 1836.1 325 1833.4 324.7 1830.7C324.4 1828.5 324.1 1826.3 323.7 1824.1C322.8 1819.3 321.6 1814.6 320.1 1809.8C318.9 1805.8 317.3 1801.8 315.3 1797.8C313.3 1793.8 310.2 1789.8 307.4 1785.8C304.6 1781.8 301.5 1777.8 298.6 1773.8C295.7 1769.8 291.6 1765.9 290.2 1761.9C289 1758.7 287.8 1755.5 287.8 1752.3C287.8 1747.5 289.5 1742.7 291.4 1737.9C292.9 1733.9 297.3 1730 301 1726C304.7 1722 310.1 1718 314.1 1714C318 1710.1 324 1706.2 324.7 1702.3C325.2 1699.7 325.4 1697 325.6 1694.3C326 1689.7 326.3 1685 326.5 1680.3C326.8 1672.3 326.7 1664.3 327.2 1656.3C327.3 1654.3 328.3 1652.3 328.8 1650.3Z" fill="#2b2b2b"/>
<path d="M329 1702.3C333 1706.2 336.8 1710.1 340.9 1714C345.1 1718 350.3 1722 354 1726C357.7 1730 362.1 1733.9 363.6 1737.9C365.5 1742.7 367.2 1747.5 367.2 1752.3C367.2 1755.5 366 1758.7 364.8 1761.9C363.4 1765.9 359.3 1769.8 356.4 1773.8C353.5 1777.8 350.4 1781.8 347.6 1785.8C344.8 1789.8 341.7 1793.8 339.7 1797.8C337.7 1801.8 336.3 1805.8 334.9 1809.8C333.2 1814.6 331.6 1819.3 330.4 1824.1C329.9 1826.3 329.5 1828.5 329 1830.7L329 1830.7C328.5 1828.5 328.1 1826.3 327.6 1824.1C326.4 1819.3 324.8 1814.6 323.1 1809.8C321.7 1805.8 320.3 1801.8 318.3 1797.8C316.3 1793.8 313.2 1789.8 310.4 1785.8C307.6 1781.8 304.5 1777.8 301.6 1773.8C298.7 1769.8 294.6 1765.9 293.2 1761.9C292 1758.7 290.8 1755.5 290.8 1752.3C290.8 1747.5 292.5 1742.7 294.4 1737.9C295.9 1733.9 300.3 1730 304 1726C307.7 1722 312.9 1718 317.1 1714C321.2 1710.1 325 1706.2 329 1702.3Z" fill="#107010"/>
<path d="M430.4 1638.6V1920.8" stroke="#2b2b2b" stroke-width="3.7" fill="none"/>
<path d="M430.6 1650.5C431.1 1652.5 432.1 1654.5 432.2 1656.5C432.7 1664.5 432.6 1672.5 432.9 1680.5C433.1 1685.2 433.4 1689.8 433.8 1694.5C434 1697.2 434.2 1699.8 434.7 1702.5C435.4 1706.3 438.7 1710.2 441.7 1714C444.8 1718 450.8 1722 454.8 1726C458.7 1730 463.2 1733.9 465.6 1737.9C468 1741.9 470 1745.9 470.9 1749.9C471.6 1753.1 472.3 1756.3 472.3 1759.5C472.3 1762.7 470.6 1765.8 469.2 1769C467.4 1773 462.8 1777 459.6 1781C456.4 1785 453 1789 450 1793C447 1797 443.7 1801 441.7 1805C439.7 1809 438 1812.9 436.9 1816.9C435.9 1820.3 435.2 1823.7 434.7 1827.2C434.3 1829.8 434 1832.5 433.8 1835.2C433.4 1839.8 433.1 1844.5 432.9 1849.2C432.6 1857.2 432.7 1865.2 432.2 1873.2C432.1 1875.2 431.1 1877.2 430.6 1879.2L430.2 1879.2C429.7 1877.2 428.7 1875.2 428.6 1873.2C428.1 1865.2 428.2 1857.2 427.9 1849.2C427.7 1844.5 427.4 1839.8 427 1835.2C426.8 1832.5 426.5 1829.8 426.1 1827.2C425.6 1823.7 424.9 1820.3 423.9 1816.9C422.8 1812.9 421.1 1809 419.1 1805C417.1 1801 413.8 1797 410.8 1793C407.8 1789 404.4 1785 401.2 1781C398 1777 393.4 1773 391.6 1769C390.2 1765.8 388.5 1762.7 388.5 1759.5C388.5 1756.3 389.2 1753.1 389.9 1749.9C390.8 1745.9 392.8 1741.9 395.2 1737.9C397.6 1733.9 402.1 1730 406 1726C410 1722 416 1718 419.1 1714C422.1 1710.2 425.4 1706.3 426.1 1702.5C426.6 1699.8 426.8 1697.2 427 1694.5C427.4 1689.8 427.7 1685.2 427.9 1680.5C428.2 1672.5 428.1 1664.5 428.6 1656.5C428.7 1654.5 429.7 1652.5 430.2 1650.5Z" fill="#2b2b2b"/>
<path d="M430.4 1702.5C433.2 1706.3 435.4 1710.2 438.7 1714C442.2 1718 447.8 1722 451.8 1726C455.7 1730 460.2 1733.9 462.6 1737.9C465 1741.9 467 1745.9 467.9 1749.9C468.6 1753.1 469.3 1756.3 469.3 1759.5C469.3 1762.7 467.6 1765.8 466.2 1769C464.4 1773 459.8 1777 456.6 1781C453.4 1785 450 1789 447 1793C444 1797 440.8 1801 438.7 1805C436.6 1809 434.9 1812.9 433.5 1816.9C432.3 1820.3 431.4 1823.7 430.4 1827.2L430.4 1827.2C429.4 1823.7 428.5 1820.3 427.3 1816.9C425.9 1812.9 424.2 1809 422.1 1805C420 1801 416.8 1797 413.8 1793C410.8 1789 407.4 1785 404.2 1781C401 1777 396.4 1773 394.6 1769C393.2 1765.8 391.5 1762.7 391.5 1759.5C391.5 1756.3 392.2 1753.1 392.9 1749.9C393.8 1745.9 395.8 1741.9 398.2 1737.9C400.6 1733.9 405.1 1730 409 1726C413 1722 418.6 1718 422.1 1714C425.4 1710.2 427.6 1706.3 430.4 1702.5Z" fill="#20dfdf"/>
<path d="M532 1638.6V1920.8" stroke="#2b2b2b" stroke-width="3.7" fill="none"/>
<path d="M532.2 1662.5C532.7 1664.5 533.7 1666.5 533.8 1668.5C534.3 1676.5 534.2 1684.5 534.5 1692.5C534.7 1697.2 535 1701.8 535.4 1706.5C535.6 1709.2 535.8 1711.8 536.3 1714.5C537 1718.3 540.5 1722.2 543.3 1726C546.2 1730 550.6 1733.9 554 1737.9C557.4 1741.9 560.9 1745.9 563.6 1749.9C566.9 1754.7 571 1759.5 572 1764.3C573 1769.1 573.9 1773.8 573.9 1778.6C573.9 1782.6 571.5 1786.6 569.6 1790.6C567.3 1795.4 562.6 1800.2 558.8 1805C555 1809.8 550.2 1814.5 546.9 1819.3C543.6 1824.1 540.1 1828.9 538.5 1833.7C537.5 1836.6 536.8 1839.6 536.3 1842.5C535.9 1845.2 535.6 1847.8 535.4 1850.5C535 1855.2 534.7 1859.8 534.5 1864.5C534.2 1872.5 534.3 1880.5 533.8 1888.5C533.7 1890.5 532.7 1892.5 532.2 1894.5L531.8 1894.5C531.3 1892.5 530.3 1890.5 530.2 1888.5C529.7 1880.5 529.8 1872.5 529.5 1864.5C529.3 1859.8 529 1855.2 528.6 1850.5C528.4 1847.8 528.1 1845.2 527.7 1842.5C527.2 1839.6 526.5 1836.6 525.5 1833.7C523.9 1828.9 520.4 1824.1 517.1 1819.3C513.8 1814.5 509 1809.8 505.2 1805C501.4 1800.2 496.7 1795.4 494.4 1790.6C492.5 1786.6 490.1 1782.6 490.1 1778.6C490.1 1773.8 491 1769.1 492 1764.3C493 1759.5 497.1 1754.7 500.4 1749.9C503.1 1745.9 506.6 1741.9 510 1737.9C513.4 1733.9 517.8 1730 520.7 1726C523.5 1722.2 527 1718.3 527.7 1714.5C528.2 1711.8 528.4 1709.2 528.6 1706.5C529 1701.8 529.3 1697.2 529.5 1692.5C529.8 1684.5 529.7 1676.5 530.2 1668.5C530.3 1666.5 531.3 1664.5 531.8 1662.5Z" fill="#2b2b2b"/>
<path d="M532 1714.5C534.8 1718.3 537.2 1722.2 540.3 1726C543.5 1730 547.6 1733.9 551 1737.9C554.4 1741.9 557.9 1745.9 560.6 1749.9C563.9 1754.7 568 1759.5 569 1764.3C570 1769.1 570.9 1773.8 570.9 1778.6C570.9 1782.6 568.5 1786.6 566.6 1790.6C564.3 1795.4 559.6 1800.2 555.8 1805C552 1809.8 547.3 1814.5 543.9 1819.3C540.5 1824.1 537.2 1828.9 535.1 1833.7C533.8 1836.6 533 1839.6 532 1842.5L532 1842.5C531 1839.6 530.2 1836.6 528.9 1833.7C526.8 1828.9 523.5 1824.1 520.1 1819.3C516.7 1814.5 512 1809.8 508.2 1805C504.4 1800.2 499.7 1795.4 497.4 1790.6C495.5 1786.6 493.1 1782.6 493.1 1778.6C493.1 1773.8 494 1769.1 495 1764.3C496 1759.5 500.1 1754.7 503.4 1749.9C506.1 1745.9 509.6 1741.9 513 1737.9C516.4 1733.9 520.5 1730 523.7 1726C526.8 1722.2 529.2 1718.3 532 1714.5Z" fill="#df20df"/>
<path d="M633.3 1638.6V1920.8" stroke="#2b2b2b" stroke-width="3.7" fill="none"/>
<path d="M633.5 1669C634 1671 635 1673 635.1 1675C635.6 1683 635.5 1691 635.8 1699C636 1703.7 636.3 1708.3 636.7 1713C636.9 1715.7 637.5 1718.3 637.6 1721C637.9 1726.6 637.8 1732.3 638.1 1737.9C638.3 1741.9 642.7 1745.9 645.3 1749.9C647.9 1753.9 651.1 1757.9 653.7 1761.9C656.3 1765.9 658.4 1769.8 660.8 1773.8C663.2 1777.8 666.1 1781.8 668 1785.8C669.9 1789.8 672 1793.8 672.8 1797.8C673.6 1801.8 674.5 1805.8 674.5 1809.8C674.5 1813.8 671.9 1817.7 670.4 1821.7C668.9 1825.7 667.2 1829.7 665.3 1833.7C664.3 1835.8 663.2 1837.9 662 1840C659.5 1844.5 656.7 1849 653.9 1853.5C651.1 1858 647.6 1862.5 645.2 1867C642.8 1871.5 640.2 1875.9 639.1 1880.4C638.4 1883.3 638.1 1886.3 637.6 1889.2C637.3 1890.8 637 1892.3 636.8 1893.9C636.3 1898.4 636.2 1902.9 635.7 1907.4C635.5 1908.9 635.4 1910.5 635.1 1912C634.8 1914 634 1916 633.5 1918L633.1 1918C632.6 1916 631.8 1914 631.5 1912C631.2 1910.5 631.1 1908.9 630.9 1907.4C630.4 1902.9 630.3 1898.4 629.8 1893.9C629.6 1892.3 629.3 1890.8 629 1889.2C628.5 1886.3 628.2 1883.3 627.5 1880.4C626.4 1875.9 623.8 1871.5 621.4 1867C619 1862.5 615.5 1858 612.7 1853.5C609.9 1849 607.1 1844.5 604.6 1840C603.4 1837.9 602.3 1835.8 601.3 1833.7C599.4 1829.7 597.7 1825.7 596.2 1821.7C594.7 1817.7 592.1 1813.8 592.1 1809.8C592.1 1805.8 593 1801.8 593.8 1797.8C594.6 1793.8 596.7 1789.8 598.6 1785.8C600.5 1781.8 603.4 1777.8 605.8 1773.8C608.2 1769.8 610.3 1765.9 612.9 1761.9C615.5 1757.9 618.7 1753.9 621.3 1749.9C623.9 1745.9 628.3 1741.9 628.5 1737.9C628.8 1732.3 628.7 1726.6 629 1721C629.1 1718.3 629.7 1715.7 629.9 1713C630.3 1708.3 630.6 1703.7 630.8 1699C631.1 1691 631 1683 631.5 1675C631.6 1673 632.6 1671 633.1 1669Z" fill="#2b2b2b"/>
<path d="M633.3 1721C633.5 1726.6 633.5 1732.3 634 1737.9C634.3 1741.9 639.5 1745.9 642.3 1749.9C645.1 1753.9 648.1 1757.9 650.7 1761.9C653.3 1765.9 655.4 1769.8 657.8 1773.8C660.2 1777.8 663.1 1781.8 665 1785.8C666.9 1789.8 669 1793.8 669.8 1797.8C670.6 1801.8 671.5 1805.8 671.5 1809.8C671.5 1813.8 668.9 1817.7 667.4 1821.7C665.9 1825.7 664.2 1829.7 662.3 1833.7C661.3 1835.8 660.2 1837.9 659 1840C656.5 1844.5 653.7 1849 650.9 1853.5C648.1 1858 644.8 1862.5 642.2 1867C639.7 1871.5 636.8 1875.9 635.4 1880.4C634.5 1883.3 634 1886.3 633.3 1889.2L633.3 1889.2C632.6 1886.3 632.1 1883.3 631.2 1880.4C629.8 1875.9 626.9 1871.5 624.4 1867C621.8 1862.5 618.5 1858 615.7 1853.5C612.9 1849 610.1 1844.5 607.6 1840C606.4 1837.9 605.3 1835.8 604.3 1833.7C602.4 1829.7 600.7 1825.7 599.2 1821.7C597.7 1817.7 595.1 1813.8 595.1 1809.8C595.1 1805.8 596 1801.8 596.8 1797.8C597.6 1793.8 599.7 1789.8 601.6 1785.8C603.5 1781.8 606.4 1777.8 608.8 1773.8C611.2 1769.8 613.3 1765.9 615.9 1761.9C618.5 1757.9 621.5 1753.9 624.3 1749.9C627.1 1745.9 632.3 1741.9 632.6 1737.9C633.1 1732.3 633.1 1726.6 633.3 1721Z" fill="#dfdf20"/>
<path d="M734.7 1638.6V1920.8" stroke="#2b2b2b" stroke-width="3.7" fill="none"/>
<path d="M734.9 1674C735.4 1676 736.4 1678 736.5 1680C737 1688 736.9 1696 737.2 1704C737.4 1708.7 737.7 1713.3 738.1 1718C738.3 1720.7 738.8 1723.3 739 1726C739.3 1730 739.3 1733.9 739.7 1737.9C740.1 1741.9 744.3 1745.9 746.9 1749.9C749.5 1753.9 752.7 1757.9 755.3 1761.9C757.9 1765.9 760.1 1769.8 762.5 1773.8C764.9 1777.8 767.8 1781.8 769.7 1785.8C771.6 1789.8 773.6 1793.8 774.5 1797.8C775.4 1801.8 776.4 1805.8 776.4 1809.8C776.4 1813.8 775.5 1817.7 774.5 1821.7C773.5 1825.7 770.7 1829.7 768.5 1833.7C766.3 1837.7 763.7 1841.7 761.3 1845.7C758.9 1849.7 756.4 1853.7 754.1 1857.7C751.8 1861.7 749.2 1865.6 747.3 1869.6C745.4 1873.6 743.5 1877.6 742.5 1881.6C741.5 1885.6 740.8 1889.6 740.2 1893.6C739.7 1896.4 739.4 1899.2 739 1902.1C738.8 1903.2 738.6 1904.4 738.5 1905.6C738 1910.7 737.7 1915.9 737.4 1921C737 1929 737.1 1937 736.5 1945C736.3 1947 735.4 1949 734.9 1951L734.5 1951C734 1949 733.1 1947 732.9 1945C732.3 1937 732.4 1929 732 1921C731.7 1915.9 731.4 1910.7 730.9 1905.6C730.8 1904.4 730.6 1903.2 730.4 1902.1C730 1899.2 729.7 1896.4 729.2 1893.6C728.6 1889.6 727.9 1885.6 726.9 1881.6C725.9 1877.6 724 1873.6 722.1 1869.6C720.2 1865.6 717.6 1861.7 715.3 1857.7C713 1853.7 710.5 1849.7 708.1 1845.7C705.7 1841.7 703.1 1837.7 700.9 1833.7C698.7 1829.7 695.9 1825.7 694.9 1821.7C693.9 1817.7 693 1813.8 693 1809.8C693 1805.8 694 1801.8 694.9 1797.8C695.8 1793.8 697.8 1789.8 699.7 1785.8C701.6 1781.8 704.5 1777.8 706.9 1773.8C709.3 1769.8 711.5 1765.9 714.1 1761.9C716.7 1757.9 719.9 1753.9 722.5 1749.9C725.1 1745.9 729.3 1741.9 729.7 1737.9C730.1 1733.9 730.1 1730 730.4 1726C730.6 1723.3 731.1 1720.7 731.3 1718C731.7 1713.3 732 1708.7 732.2 1704C732.5 1696 732.4 1688 732.9 1680C733 1678 734 1676 734.5 1674Z" fill="#2b2b2b"/>
<path d="M734.7 1726C735 1730 735.1 1733.9 735.7 1737.9C736.3 1741.9 741.1 1745.9 743.9 1749.9C746.7 1753.9 749.7 1757.9 752.3 1761.9C754.9 1765.9 757.1 1769.8 759.5 1773.8C761.9 1777.8 764.8 1781.8 766.7 1785.8C768.6 1789.8 770.6 1793.8 771.5 1797.8C772.4 1801.8 773.4 1805.8 773.4 1809.8C773.4 1813.8 772.5 1817.7 771.5 1821.7C770.5 1825.7 767.7 1829.7 765.5 1833.7C763.3 1837.7 760.7 1841.7 758.3 1845.7C755.9 1849.7 753.4 1853.7 751.1 1857.7C748.8 1861.7 746.2 1865.6 744.3 1869.6C742.4 1873.6 740.8 1877.6 739.5 1881.6C738.2 1885.6 737.3 1889.6 736.4 1893.6C735.8 1896.4 735.3 1899.2 734.7 1902.1L734.7 1902.1C734.1 1899.2 733.6 1896.4 733 1893.6C732.1 1889.6 731.2 1885.6 729.9 1881.6C728.6 1877.6 727 1873.6 725.1 1869.6C723.2 1865.6 720.6 1861.7 718.3 1857.7C716 1853.7 713.5 1849.7 711.1 1845.7C708.7 1841.7 706.1 1837.7 703.9 1833.7C701.7 1829.7 698.9 1825.7 697.9 1821.7C696.9 1817.7 696 1813.8 696 1809.8C696 1805.8 697 1801.8 697.9 1797.8C698.8 1793.8 700.8 1789.8 702.7 1785.8C704.6 1781.8 707.5 1777.8 709.9 1773.8C712.3 1769.8 714.5 1765.9 717.1 1761.9C719.7 1757.9 722.7 1753.9 725.5 1749.9C728.3 1745.9 733.1 1741.9 733.7 1737.9C734.3 1733.9 734.4 1730 734.7 1726Z" fill="#df2020"/>
</g>
<path d="M157.3 1666.8H805.5M157.3 1695H805.5M157.3 1723.3H805.5M157.3 1751.5H805.5M157.3 1779.7H805.5M157.3 1807.9H805.5M157.3 1836.2H805.5M157.3 1864.4H805.5M157.3 1892.6H805.5" stroke="#c8c8c8" stroke-opacity="0.3" stroke-width="1.3" stroke-dasharray="1.8 1.3" fill="none"/>
<g clip-path="url(#pc3)">
<path d="M227.7 1682V1818.4" stroke="#2b2b2b" stroke-width="2.5" fill="none"/>
<rect x="222.5" y="1730.7" width="10.4" height="48.4" fill="#2b2b2b"/>
<path d="M329 1700.3V1832.7" stroke="#2b2b2b" stroke-width="2.5" fill="none"/>
<rect x="323.8" y="1735.5" width="10.4" height="48.4" fill="#2b2b2b"/>
<path d="M430.4 1700.5V1829.2" stroke="#2b2b2b" stroke-width="2.5" fill="none"/>
<rect x="425.2" y="1738.6" width="10.4" height="45.3" fill="#2b2b2b"/>
<path d="M532 1712.5V1844.5" stroke="#2b2b2b" stroke-width="2.5" fill="none"/>
<rect x="526.8" y="1755.1" width="10.4" height="49.9" fill="#2b2b2b"/>
<path d="M633.3 1719V1891.2" stroke="#2b2b2b" stroke-width="2.5" fill="none"/>
<rect x="628.1" y="1782.2" width="10.4" height="56.3" fill="#2b2b2b"/>
<path d="M734.7 1724V1904.1" stroke="#2b2b2b" stroke-width="2.5" fill="none"/>
<rect x="729.5" y="1781.5" width="10.4" height="62.3" fill="#2b2b2b"/>
</g>
<path d="M227.7 1753.5L329 1758.7L430.4 1760.9L532 1780L633.3 1810.2L734.7 1812.2" stroke="#000" stroke-width="1.9" stroke-dasharray="8.4 4" fill="none"/>
<ellipse cx="227.7" cy="1753.5" rx="1.9" ry="1.8" fill="#fff"/>
<ellipse cx="329" cy="1758.7" rx="1.9" ry="1.8" fill="#fff"/>
<ellipse cx="430.4" cy="1760.9" rx="1.9" ry="1.8" fill="#fff"/>
<ellipse cx="532" cy="1780" rx="1.9" ry="1.8" fill="#fff"/>
<ellipse cx="633.3" cy="1810.2" rx="1.9" ry="1.8" fill="#fff"/>
<ellipse cx="734.7" cy="1812.2" rx="1.9" ry="1.8" fill="#fff"/>
<rect x="173.2" y="1639.2" width="104.5" height="27.6" fill="#fff" fill-opacity="0.82"/>
<text transform="translate(226.1 1665.2)" font-size="26.1" text-anchor="middle"><tspan font-style="italic">n</tspan> = 9916</text>
<rect x="274.5" y="1663.5" width="104.5" height="27.6" fill="#fff" fill-opacity="0.82"/>
<text transform="translate(329.3 1689.5)" font-size="26.1" text-anchor="middle"><tspan font-style="italic">n</tspan> = 9947</text>
<rect x="375.9" y="1639.2" width="104.5" height="27.6" fill="#fff" fill-opacity="0.82"/>
<text transform="translate(431.9 1665.2)" font-size="26.1" text-anchor="middle"><tspan font-style="italic">n</tspan> = 9934</text>
<rect x="477.5" y="1663.5" width="104.5" height="27.6" fill="#fff" fill-opacity="0.82"/>
<text transform="translate(532.8 1689.5)" font-size="26.1" text-anchor="middle"><tspan font-style="italic">n</tspan> = 9954</text>
<rect x="578.8" y="1639.2" width="104.5" height="27.6" fill="#fff" fill-opacity="0.82"/>
<text transform="translate(634.6 1665.2)" font-size="26.1" text-anchor="middle"><tspan font-style="italic">n</tspan> = 9874</text>
<rect x="680.2" y="1663.5" width="123.7" height="27.6" fill="#fff" fill-opacity="0.82"/>
<text transform="translate(741 1689.5)" font-size="26.1" text-anchor="middle"><tspan font-style="italic">n</tspan> = 9780</text>
<rect x="157.3" y="1638.6" width="648.2" height="282.2" fill="none" stroke="#000" stroke-width="2.8"/>
<path d="M144.6 1638.6H157.3" stroke="#000" stroke-width="2.9"/>
<text transform="translate(132.6 1648.2)" font-size="29" text-anchor="end">30</text>
<path d="M144.6 1779.7H157.3" stroke="#000" stroke-width="2.9"/>
<text transform="translate(132.6 1789.3)" font-size="29" text-anchor="end">0</text>
<path d="M144.6 1920.8H157.3" stroke="#000" stroke-width="2.9"/>
<text transform="translate(132.6 1930.4)" font-size="29" text-anchor="end">−30</text>
<text transform="translate(280.4 1600.7)" font-size="34.2" text-anchor="middle">0.12</text>
<text transform="translate(381.3 1600.7)" font-size="34.2" text-anchor="middle">0.05</text>
<text transform="translate(482.2 1600.7)" font-size="34.2" text-anchor="middle" font-weight="bold" fill="#c00000">0.54</text>
<text transform="translate(583.6 1600.7)" font-size="34.2" text-anchor="middle" font-weight="bold" fill="#c00000">0.82</text>
<text transform="translate(685.1 1600.7)" font-size="34.2" text-anchor="middle">0.09</text>
<path d="M229.4 1627.5V1611.9H327.5V1627.5M330.9 1627.5V1611.9H429.1V1627.5M432.5 1627.5V1611.9H530.9V1627.5M534.3 1627.5V1611.9H632.4V1627.5M635.8 1627.5V1611.9H734V1627.5" stroke="#000" stroke-width="2.3" fill="none"/>
<path d="M227.7 1920.8V1933.8M329 1920.8V1933.8M430.4 1920.8V1933.8M532 1920.8V1933.8M633.3 1920.8V1933.8M734.7 1920.8V1933.8" stroke="#000" stroke-width="3.2"/>
<text transform="translate(227.7 1967.1)" font-size="28.8" text-anchor="middle">0 min</text>
<text transform="translate(329 1967.1)" font-size="28.8" text-anchor="middle">20 min</text>
<text transform="translate(430.4 1967.1)" font-size="28.8" text-anchor="middle">50 min</text>
<text transform="translate(532 1967.1)" font-size="28.8" text-anchor="middle">80 min</text>
<text transform="translate(633.3 1967.1)" font-size="28.8" text-anchor="middle">110 min</text>
<text transform="translate(734.7 1967.1)" font-size="28.8" text-anchor="middle">140 min</text>
<text transform="translate(227.7 1997.5)" font-size="28.8" text-anchor="middle">(Control)</text>
<text transform="translate(481.8 2037.9)" font-size="28.4" text-anchor="middle">Doxorubicin treatment duration</text>
<text transform="translate(54 637.5) rotate(-90)" font-size="29" text-anchor="middle" font-family='"DejaVu Sans", "Liberation Sans", sans-serif'>Cell area [µm<tspan font-size="19.5" dy="-10.5">2</tspan><tspan dy="10.5">]</tspan></text>
<text transform="translate(53.5 1017.4) rotate(-90)" font-size="29" text-anchor="middle" font-family='"DejaVu Sans", "Liberation Sans", sans-serif'>Nucleus area [µm<tspan font-size="19.5" dy="-10.5">2</tspan><tspan dy="10.5">]</tspan></text>
<text transform="translate(47.6 1398) rotate(-90)" font-size="28.4" text-anchor="middle">Fluorescence lifetime [ns]</text>
<text transform="translate(47.3 1779) rotate(-90)" font-size="28.6" text-anchor="middle">Fluorescence lifetime gradient</text>
<text transform="translate(77.3 1781.2) rotate(-90)" font-size="28.6" text-anchor="middle">from nuclear periphery to center [%]</text>
<text transform="translate(840.8 472.4)" font-size="86" font-weight="bold">c</text>
<rect x="915.8" y="433.2" width="419" height="419" fill="#000"/>
<g transform="translate(974 475) rotate(-35)"><g clip-path="url(#k1)">
<rect x="-23" y="-14" width="46" height="28" fill="#70ee1e"/>
<g filter="url(#bl)"><ellipse cx="2.4" cy="7.7" rx="3.8" ry="4.6" fill="#c2f722"/><ellipse cx="3.8" cy="-0.3" rx="3.1" ry="4.4" fill="#c2f722"/><ellipse cx="7.4" cy="3.7" rx="4.3" ry="2.9" fill="#c2f722"/><ellipse cx="-7.1" cy="-4.6" rx="2.4" ry="3.8" fill="#c2f722"/><ellipse cx="4.1" cy="7.9" rx="3.6" ry="2.6" fill="#c2f722"/><ellipse cx="-9.4" cy="1.6" rx="3.7" ry="4.3" fill="#c2f722"/><ellipse cx="-11.6" cy="-3.2" rx="3.9" ry="4.4" fill="#c2f722"/><ellipse cx="6.1" cy="-0.4" rx="3.2" ry="3.6" fill="#c2f722"/><ellipse cx="-11.5" cy="0.4" rx="2.7" ry="2.4" fill="#38de30"/><ellipse cx="10.2" cy="-5.6" rx="2.7" ry="2.3" fill="#38de30"/><ellipse cx="-18.1" cy="2.8" rx="3" ry="2.4" fill="#38de30"/><ellipse cx="16.5" cy="3.6" rx="2.6" ry="2.6" fill="#38de30"/><ellipse cx="-1.9" cy="4.7" rx="1.9" ry="3.1" fill="#ecf524"/><ellipse cx="2.4" cy="2.3" rx="2.1" ry="2.3" fill="#ecf524"/><ellipse cx="0.1" cy="4.8" rx="2.1" ry="3.4" fill="#ecf524"/><ellipse cx="-12.5" cy="-2.2" rx="3.1" ry="3.3" fill="#ecf524"/><ellipse cx="-7.2" cy="2.3" rx="3.3" ry="3.4" fill="#ecf524"/><ellipse cx="3" cy="3.3" rx="2.5" ry="2" fill="#ecf524"/><ellipse cx="-0.1" cy="0.4" rx="2.3" ry="1.7" fill="#ffa61c"/><ellipse cx="8" cy="-1.3" rx="2.4" ry="2" fill="#ffa61c"/><ellipse cx="8.9" cy="1.7" rx="2.7" ry="2.6" fill="#ffa61c"/><ellipse cx="-4.9" cy="2.2" rx="1.6" ry="1.9" fill="#ffa61c"/><ellipse cx="3.2" cy="0.8" rx="1.1" ry="1.5" fill="#ff2a0a"/><ellipse cx="3" cy="0" rx="1.1" ry="1.4" fill="#ff2a0a"/><ellipse cx="14.1" cy="-7.8" rx="0.6" ry="0.9" fill="#1f9fb4"/><ellipse cx="-12.3" cy="7.8" rx="1.2" ry="1.2" fill="#1f9fb4"/></g>
</g></g>
<g transform="translate(1072.4 490.7) rotate(0)"><g clip-path="url(#k2)">
<rect x="-24.5" y="-26" width="49" height="52" fill="#70ee1e"/>
<g filter="url(#bl)"><ellipse cx="10.5" cy="-13.1" rx="3.8" ry="5.1" fill="#c2f722"/><ellipse cx="1.9" cy="-15" rx="4.8" ry="6.6" fill="#c2f722"/><ellipse cx="7.2" cy="-19" rx="6.8" ry="6.3" fill="#c2f722"/><ellipse cx="-0.6" cy="-9.8" rx="4.3" ry="5.8" fill="#c2f722"/><ellipse cx="10.1" cy="1.9" rx="5.1" ry="4.4" fill="#c2f722"/><ellipse cx="-17.7" cy="6.5" rx="7.1" ry="7.2" fill="#c2f722"/><ellipse cx="1.7" cy="9.7" rx="4.9" ry="3.3" fill="#c2f722"/><ellipse cx="14.4" cy="-11.1" rx="5.7" ry="4.9" fill="#c2f722"/><ellipse cx="13.5" cy="8.5" rx="7" ry="6.4" fill="#c2f722"/><ellipse cx="-8.1" cy="1.2" rx="6.6" ry="4.8" fill="#c2f722"/><ellipse cx="12" cy="-2.3" rx="5.5" ry="5.4" fill="#c2f722"/><ellipse cx="3.3" cy="6.5" rx="4.7" ry="4.6" fill="#c2f722"/><ellipse cx="10.7" cy="15" rx="6.2" ry="7.2" fill="#c2f722"/><ellipse cx="-12.9" cy="-4.3" rx="2.8" ry="2.8" fill="#38de30"/><ellipse cx="-20.7" cy="-3.7" rx="3.6" ry="3.5" fill="#38de30"/><ellipse cx="3.6" cy="15.4" rx="3.4" ry="2.3" fill="#38de30"/><ellipse cx="-1" cy="17.7" rx="2.9" ry="3" fill="#38de30"/><ellipse cx="-17.5" cy="5" rx="4.6" ry="3.5" fill="#38de30"/><ellipse cx="-17.6" cy="-0.2" rx="2.3" ry="3.8" fill="#38de30"/><ellipse cx="0.4" cy="0.9" rx="3.4" ry="5.1" fill="#ecf524"/><ellipse cx="-1.7" cy="-11.9" rx="4.1" ry="3.3" fill="#ecf524"/><ellipse cx="1" cy="-5.1" rx="3.2" ry="4.6" fill="#ecf524"/><ellipse cx="1.5" cy="-11.4" rx="4.6" ry="4.2" fill="#ecf524"/><ellipse cx="-11" cy="4.4" rx="4.5" ry="3.6" fill="#ecf524"/><ellipse cx="-10.5" cy="3.5" rx="4.4" ry="4.3" fill="#ecf524"/><ellipse cx="10.4" cy="-10.9" rx="4" ry="3.3" fill="#ecf524"/><ellipse cx="3" cy="-5" rx="2.9" ry="3.7" fill="#ecf524"/><ellipse cx="0.2" cy="4.3" rx="4.8" ry="4.4" fill="#ecf524"/><ellipse cx="5.1" cy="8" rx="4" ry="2.6" fill="#ffa61c"/><ellipse cx="4.9" cy="-1.1" rx="3.5" ry="4.6" fill="#ffa61c"/><ellipse cx="9.8" cy="-0.7" rx="3.1" ry="2.4" fill="#ffa61c"/><ellipse cx="-2.5" cy="4.3" rx="3" ry="3.4" fill="#ffa61c"/><ellipse cx="-6.7" cy="-2.5" rx="2.8" ry="2" fill="#ffa61c"/><ellipse cx="-2.7" cy="-0.2" rx="4.6" ry="4.2" fill="#ffa61c"/><ellipse cx="3.3" cy="2.8" rx="1.9" ry="2.1" fill="#ff2a0a"/><ellipse cx="3.6" cy="4.1" rx="3.4" ry="3.6" fill="#ff2a0a"/><ellipse cx="4.6" cy="6.8" rx="2.7" ry="3" fill="#ff2a0a"/><ellipse cx="20.3" cy="8.2" rx="1.6" ry="1" fill="#1f9fb4"/><ellipse cx="-14.6" cy="-17.6" rx="1.2" ry="1.3" fill="#1f9fb4"/><ellipse cx="13.7" cy="-17.1" rx="1.5" ry="1.2" fill="#1f9fb4"/></g>
</g></g>
<g transform="translate(1178.5 479) rotate(0)"><g clip-path="url(#k3)">
<rect x="-26.5" y="-23" width="53" height="46" fill="#70ee1e"/>
<g filter="url(#bl)"><ellipse cx="10.5" cy="1" rx="4.2" ry="3.7" fill="#c2f722"/><ellipse cx="5.4" cy="11.5" rx="6.8" ry="4.4" fill="#c2f722"/><ellipse cx="-13.5" cy="5.2" rx="6.5" ry="4.9" fill="#c2f722"/><ellipse cx="-8" cy="-16.5" rx="5.1" ry="4.8" fill="#c2f722"/><ellipse cx="-8.8" cy="-8.6" rx="3.2" ry="5.1" fill="#c2f722"/><ellipse cx="16.4" cy="6.7" rx="3.2" ry="4.9" fill="#c2f722"/><ellipse cx="10.7" cy="-14.1" rx="4.3" ry="6" fill="#c2f722"/><ellipse cx="-3.8" cy="11.8" rx="3.6" ry="4.6" fill="#c2f722"/><ellipse cx="20.3" cy="-4.2" rx="5.7" ry="4" fill="#c2f722"/><ellipse cx="-4.6" cy="10" rx="3.1" ry="4.2" fill="#c2f722"/><ellipse cx="-9.5" cy="-0.1" rx="3.4" ry="5.6" fill="#c2f722"/><ellipse cx="11.3" cy="6.1" rx="2.6" ry="4.3" fill="#c2f722"/><ellipse cx="2.1" cy="16.8" rx="3.7" ry="3.3" fill="#38de30"/><ellipse cx="-4.8" cy="-18.7" rx="3.4" ry="2.5" fill="#38de30"/><ellipse cx="12.5" cy="14.5" rx="3.9" ry="2.4" fill="#38de30"/><ellipse cx="15.7" cy="-10.8" rx="3.8" ry="4.1" fill="#38de30"/><ellipse cx="-18.8" cy="-2.4" rx="4.3" ry="4" fill="#38de30"/><ellipse cx="-19.5" cy="-9.7" rx="3.5" ry="4" fill="#38de30"/><ellipse cx="5.9" cy="1" rx="4" ry="2.6" fill="#ecf524"/><ellipse cx="-12.2" cy="-4" rx="4" ry="4.6" fill="#ecf524"/><ellipse cx="14.7" cy="0.3" rx="4.8" ry="3.9" fill="#ecf524"/><ellipse cx="-2.3" cy="-3" rx="3.4" ry="4.8" fill="#ecf524"/><ellipse cx="-1.4" cy="11.9" rx="3.7" ry="3.3" fill="#ecf524"/><ellipse cx="-10.2" cy="0.3" rx="4.3" ry="3.7" fill="#ecf524"/><ellipse cx="-9.8" cy="-7.5" rx="2.3" ry="3.5" fill="#ecf524"/><ellipse cx="-0.4" cy="-7.7" rx="2.7" ry="4.4" fill="#ecf524"/><ellipse cx="-1.6" cy="11.4" rx="4.1" ry="4.7" fill="#ecf524"/><ellipse cx="-8" cy="-0.7" rx="3.5" ry="2.3" fill="#ffa61c"/><ellipse cx="3.6" cy="9.4" rx="2.6" ry="4.4" fill="#ffa61c"/><ellipse cx="4.9" cy="-8.9" rx="2.5" ry="3.5" fill="#ffa61c"/><ellipse cx="5.1" cy="-1.5" rx="3.7" ry="2.4" fill="#ffa61c"/><ellipse cx="3.1" cy="-0.8" rx="3.4" ry="2.7" fill="#ff2a0a"/><ellipse cx="-6.5" cy="-18.2" rx="1.5" ry="1.9" fill="#1f9fb4"/><ellipse cx="23.2" cy="0.4" rx="1.1" ry="1.5" fill="#1f9fb4"/><ellipse cx="-12.6" cy="16" rx="1.9" ry="1.1" fill="#1f9fb4"/></g>
</g></g>
<g transform="translate(1278.9 485) rotate(0)"><g clip-path="url(#k4)">
<rect x="-22" y="-23" width="44" height="46" fill="#70ee1e"/>
<g filter="url(#bl)"><ellipse cx="4.6" cy="-8.3" rx="4.2" ry="6" fill="#c2f722"/><ellipse cx="-7.4" cy="-0.5" rx="4.5" ry="4.4" fill="#c2f722"/><ellipse cx="5.2" cy="-13.2" rx="5.9" ry="5.8" fill="#c2f722"/><ellipse cx="-0.7" cy="-3.9" rx="5.5" ry="4.3" fill="#c2f722"/><ellipse cx="-5.6" cy="-7.6" rx="3.6" ry="3.7" fill="#c2f722"/><ellipse cx="-9.9" cy="1.8" rx="4.3" ry="3.9" fill="#c2f722"/><ellipse cx="-0.9" cy="14.5" rx="3.6" ry="4.3" fill="#c2f722"/><ellipse cx="3.4" cy="6.3" rx="3.9" ry="4.1" fill="#c2f722"/><ellipse cx="3" cy="16.8" rx="4.8" ry="6.1" fill="#c2f722"/><ellipse cx="1.8" cy="5.1" rx="2.8" ry="4.4" fill="#c2f722"/><ellipse cx="-0.7" cy="13.6" rx="5.3" ry="5.9" fill="#c2f722"/><ellipse cx="-11.8" cy="7.5" rx="2.4" ry="3.3" fill="#38de30"/><ellipse cx="-3.2" cy="19.4" rx="2.8" ry="2.3" fill="#38de30"/><ellipse cx="5.7" cy="-7.1" rx="2.1" ry="3.1" fill="#38de30"/><ellipse cx="-17.5" cy="6.5" rx="3.9" ry="4.1" fill="#38de30"/><ellipse cx="15.7" cy="3.4" rx="4.2" ry="3.3" fill="#38de30"/><ellipse cx="11.9" cy="0" rx="4.2" ry="3.9" fill="#38de30"/><ellipse cx="8.4" cy="-1.6" rx="2.9" ry="1.9" fill="#ecf524"/><ellipse cx="-6.9" cy="-15.9" rx="4" ry="3.5" fill="#ecf524"/><ellipse cx="-12.2" cy="3.5" rx="2.6" ry="2.8" fill="#ecf524"/><ellipse cx="12" cy="-7" rx="2.1" ry="3.3" fill="#ecf524"/><ellipse cx="-9.4" cy="-11.4" rx="2.9" ry="1.9" fill="#ecf524"/><ellipse cx="-9.2" cy="-5.6" rx="2.6" ry="3.1" fill="#ecf524"/><ellipse cx="-3.7" cy="11.6" rx="4.5" ry="3.8" fill="#ecf524"/><ellipse cx="-8.2" cy="1.3" rx="3.2" ry="3.1" fill="#ecf524"/><ellipse cx="-1.6" cy="4.5" rx="2.5" ry="2.8" fill="#ff9a1c"/><ellipse cx="-0.7" cy="15.7" rx="2.4" ry="3.4" fill="#ff9a1c"/><ellipse cx="-6.3" cy="10.8" rx="3.1" ry="2.1" fill="#ff9a1c"/><ellipse cx="-0.9" cy="-13.8" rx="2.4" ry="2.4" fill="#ff9a1c"/><ellipse cx="4.4" cy="-9.9" rx="1.7" ry="1.9" fill="#ff2a0a"/><ellipse cx="13.3" cy="-4.4" rx="1" ry="1.4" fill="#1f9fb4"/><ellipse cx="-9.4" cy="-16.8" rx="1.1" ry="1.4" fill="#1f9fb4"/><ellipse cx="8.8" cy="-1.5" rx="0.8" ry="1.3" fill="#1f9fb4"/></g>
</g></g>
<g transform="translate(975.9 595.6) rotate(0)"><g clip-path="url(#k5)">
<rect x="-26.9" y="-28.5" width="53.8" height="57" fill="#70ee1e"/>
<g filter="url(#bl)"><ellipse cx="11.4" cy="0.2" rx="5.5" ry="5.6" fill="#c2f722"/><ellipse cx="9.5" cy="-2.3" rx="5.6" ry="5.2" fill="#c2f722"/><ellipse cx="-4.4" cy="2.1" rx="6" ry="4.5" fill="#c2f722"/><ellipse cx="4.5" cy="13" rx="4.5" ry="7.3" fill="#c2f722"/><ellipse cx="7.1" cy="-18.6" rx="2.9" ry="4.7" fill="#c2f722"/><ellipse cx="9.6" cy="-5.6" rx="6.6" ry="6.8" fill="#c2f722"/><ellipse cx="-2.9" cy="22.2" rx="6.4" ry="4.5" fill="#c2f722"/><ellipse cx="-4.6" cy="11" rx="4.5" ry="4.1" fill="#c2f722"/><ellipse cx="-13.9" cy="-16.6" rx="3.2" ry="4.6" fill="#c2f722"/><ellipse cx="20.2" cy="-6" rx="4" ry="5.7" fill="#c2f722"/><ellipse cx="-20.7" cy="0.9" rx="5.1" ry="4.7" fill="#c2f722"/><ellipse cx="8.3" cy="-18.1" rx="4.7" ry="6.4" fill="#c2f722"/><ellipse cx="-12.3" cy="15.5" rx="4.8" ry="3.2" fill="#c2f722"/><ellipse cx="0.1" cy="5.8" rx="3.8" ry="4.6" fill="#c2f722"/><ellipse cx="22.7" cy="-3" rx="3.6" ry="5.1" fill="#38de30"/><ellipse cx="15.8" cy="11.7" rx="3.5" ry="4.4" fill="#38de30"/><ellipse cx="-17.8" cy="10.9" rx="4.4" ry="3.9" fill="#38de30"/><ellipse cx="-7.6" cy="-13.6" rx="4.7" ry="3.4" fill="#38de30"/><ellipse cx="-15.1" cy="16.5" rx="2.3" ry="3.3" fill="#38de30"/><ellipse cx="13.1" cy="20.1" rx="3" ry="4.2" fill="#38de30"/><ellipse cx="19.3" cy="-1" rx="3.4" ry="3.1" fill="#38de30"/><ellipse cx="5.3" cy="-0.3" rx="4.7" ry="4.3" fill="#ecf524"/><ellipse cx="2.9" cy="-1.8" rx="2.8" ry="4.3" fill="#ecf524"/><ellipse cx="12.6" cy="-2.3" rx="5.7" ry="4.2" fill="#ecf524"/><ellipse cx="-8.1" cy="2.9" rx="5.2" ry="5.3" fill="#ecf524"/><ellipse cx="-10.8" cy="-8" rx="3.1" ry="4.1" fill="#ecf524"/><ellipse cx="2.4" cy="8.6" rx="4.2" ry="4.9" fill="#ecf524"/><ellipse cx="9.5" cy="0.7" rx="3.4" ry="5.1" fill="#ecf524"/><ellipse cx="4.3" cy="15.2" rx="3" ry="4.8" fill="#ecf524"/><ellipse cx="-9.8" cy="8.1" rx="3.2" ry="5" fill="#ecf524"/><ellipse cx="-3.6" cy="-10.8" rx="4.2" ry="3.1" fill="#ecf524"/><ellipse cx="-4.8" cy="12.4" rx="4.4" ry="3.4" fill="#ecf524"/><ellipse cx="7.2" cy="-0.2" rx="2.9" ry="3.3" fill="#ffa61c"/><ellipse cx="11.3" cy="0.4" rx="3.5" ry="3.7" fill="#ffa61c"/><ellipse cx="6" cy="-5.8" rx="3.2" ry="2" fill="#ffa61c"/><ellipse cx="-7.2" cy="-9.4" rx="2.6" ry="3.1" fill="#ffa61c"/><ellipse cx="-4.6" cy="-0.1" rx="3.5" ry="2.8" fill="#ffa61c"/><ellipse cx="6.5" cy="5.6" rx="4.4" ry="4.5" fill="#ffa61c"/><ellipse cx="8.1" cy="8.8" rx="3.8" ry="4.8" fill="#ffa61c"/><ellipse cx="6.7" cy="-3.6" rx="4.7" ry="4" fill="#ffa61c"/><ellipse cx="5.7" cy="9.6" rx="3.3" ry="2.5" fill="#ffa61c"/><ellipse cx="1.9" cy="-3.6" rx="2.6" ry="2" fill="#ff2a0a"/><ellipse cx="-2.4" cy="2.3" rx="2.6" ry="2.3" fill="#ff2a0a"/><ellipse cx="6.6" cy="1.9" rx="3.6" ry="2.2" fill="#ff2a0a"/><ellipse cx="5.2" cy="5.1" rx="2.7" ry="3.2" fill="#ff2a0a"/><ellipse cx="-6.1" cy="3.6" rx="2.5" ry="2.9" fill="#ff2a0a"/><ellipse cx="-1.3" cy="0.6" rx="2.6" ry="3.3" fill="#ff2a0a"/><ellipse cx="0.7" cy="-8.5" rx="2" ry="3" fill="#ff2a0a"/><ellipse cx="17.5" cy="14.9" rx="1.1" ry="1.7" fill="#1f9fb4"/><ellipse cx="-22.1" cy="-1.5" rx="1.8" ry="1.2" fill="#1f9fb4"/><ellipse cx="4.1" cy="-24.8" rx="1.1" ry="1.3" fill="#1f9fb4"/><ellipse cx="21.4" cy="-7.3" rx="2" ry="2" fill="#1f9fb4"/></g>
</g></g>
<g transform="translate(1073.5 588) rotate(0)"><g clip-path="url(#k6)">
<rect x="-26" y="-24.5" width="52" height="49" fill="#70ee1e"/>
<g filter="url(#bl)"><ellipse cx="3.1" cy="-6.7" rx="5.6" ry="5.8" fill="#c2f722"/><ellipse cx="-1.2" cy="13.7" rx="3.2" ry="5.2" fill="#c2f722"/><ellipse cx="10.6" cy="15.9" rx="6" ry="6.3" fill="#c2f722"/><ellipse cx="1.5" cy="-6.4" rx="5" ry="5.9" fill="#c2f722"/><ellipse cx="10.8" cy="-10.3" rx="5.7" ry="6" fill="#c2f722"/><ellipse cx="16.4" cy="-0.7" rx="5" ry="5.5" fill="#c2f722"/><ellipse cx="15.7" cy="-0.9" rx="4.9" ry="5.4" fill="#c2f722"/><ellipse cx="7.9" cy="14.9" rx="4.1" ry="4.4" fill="#c2f722"/><ellipse cx="-13.2" cy="-14.7" rx="5.2" ry="6" fill="#c2f722"/><ellipse cx="3.8" cy="0" rx="4" ry="4.7" fill="#c2f722"/><ellipse cx="-19.5" cy="-1.5" rx="4.7" ry="3.2" fill="#c2f722"/><ellipse cx="1" cy="0.1" rx="3.4" ry="5.3" fill="#c2f722"/><ellipse cx="2.5" cy="14.6" rx="6" ry="4.1" fill="#c2f722"/><ellipse cx="-14.3" cy="2.1" rx="3.3" ry="4.7" fill="#38de30"/><ellipse cx="16.4" cy="10.5" rx="4.2" ry="4.6" fill="#38de30"/><ellipse cx="-1.1" cy="11.9" rx="3.4" ry="4.1" fill="#38de30"/><ellipse cx="-11" cy="-13.3" rx="4.2" ry="4.7" fill="#38de30"/><ellipse cx="10.9" cy="-7.1" rx="2.9" ry="3.9" fill="#38de30"/><ellipse cx="19.7" cy="7.1" rx="2.8" ry="2.3" fill="#38de30"/><ellipse cx="4.5" cy="5.2" rx="4.7" ry="3.8" fill="#ecf524"/><ellipse cx="2.6" cy="-5.8" rx="2.9" ry="4.1" fill="#ecf524"/><ellipse cx="10.9" cy="-8.5" rx="4.9" ry="3" fill="#ecf524"/><ellipse cx="-0.3" cy="-10.3" rx="3.9" ry="5" fill="#ecf524"/><ellipse cx="6.1" cy="4.5" rx="3.5" ry="2.6" fill="#ecf524"/><ellipse cx="-5" cy="-13" rx="4.9" ry="3.5" fill="#ecf524"/><ellipse cx="-13.2" cy="5.2" rx="4.5" ry="3.2" fill="#ecf524"/><ellipse cx="7.3" cy="-1.5" rx="3.2" ry="5.3" fill="#ecf524"/><ellipse cx="1.2" cy="12.9" rx="4.8" ry="5.4" fill="#ecf524"/><ellipse cx="4.8" cy="-4.2" rx="3.2" ry="3.1" fill="#ffa61c"/><ellipse cx="-3.3" cy="-8.2" rx="4.6" ry="3.6" fill="#ffa61c"/><ellipse cx="-3.4" cy="-9.4" rx="3.6" ry="3.2" fill="#ffa61c"/><ellipse cx="-1.9" cy="4.6" rx="3.9" ry="2.5" fill="#ffa61c"/><ellipse cx="1.2" cy="1.4" rx="2.9" ry="3" fill="#ffa61c"/><ellipse cx="0.9" cy="1.1" rx="2.1" ry="1.9" fill="#ff2a0a"/><ellipse cx="-2.5" cy="-6.6" rx="1.8" ry="2.2" fill="#ff2a0a"/><ellipse cx="9.7" cy="-20.1" rx="2" ry="1.2" fill="#1f9fb4"/><ellipse cx="20.6" cy="-11.5" rx="0.9" ry="1.3" fill="#1f9fb4"/><ellipse cx="23.2" cy="4.8" rx="1.9" ry="1.6" fill="#1f9fb4"/></g>
</g></g>
<g transform="translate(1175.5 593.7) rotate(0)"><g clip-path="url(#k7)">
<rect x="-23.5" y="-23" width="47" height="46" fill="#70ee1e"/>
<g filter="url(#bl)"><ellipse cx="-17" cy="-0.4" rx="3.6" ry="5.9" fill="#c2f722"/><ellipse cx="-14.9" cy="6.2" rx="5.1" ry="4.5" fill="#c2f722"/><ellipse cx="3.6" cy="16.3" rx="4.1" ry="4.4" fill="#c2f722"/><ellipse cx="8.3" cy="0.1" rx="6.2" ry="6.3" fill="#c2f722"/><ellipse cx="-12.9" cy="0.7" rx="4.3" ry="6.4" fill="#c2f722"/><ellipse cx="-9.6" cy="13.5" rx="4.8" ry="4.9" fill="#c2f722"/><ellipse cx="3.4" cy="14.7" rx="5.6" ry="3.6" fill="#c2f722"/><ellipse cx="14.3" cy="7.8" rx="6.1" ry="5.6" fill="#c2f722"/><ellipse cx="-7.2" cy="9" rx="5" ry="5.3" fill="#c2f722"/><ellipse cx="2.2" cy="-1.8" rx="4.7" ry="3.3" fill="#c2f722"/><ellipse cx="-11.4" cy="-0.1" rx="4.6" ry="6.6" fill="#c2f722"/><ellipse cx="-15.7" cy="-3.1" rx="5.4" ry="6.3" fill="#c2f722"/><ellipse cx="-6.1" cy="11.4" rx="4.3" ry="3.7" fill="#38de30"/><ellipse cx="7.7" cy="13.7" rx="3.5" ry="4.2" fill="#38de30"/><ellipse cx="-19.1" cy="4.5" rx="2.1" ry="3.1" fill="#38de30"/><ellipse cx="-5.6" cy="-18.1" rx="2" ry="3" fill="#38de30"/><ellipse cx="-7.7" cy="14.5" rx="2.2" ry="3" fill="#38de30"/><ellipse cx="18.2" cy="-2.8" rx="2.8" ry="2.9" fill="#38de30"/><ellipse cx="-10.6" cy="9.2" rx="4.4" ry="4.9" fill="#ecf524"/><ellipse cx="3.8" cy="10.5" rx="2.4" ry="3.5" fill="#ecf524"/><ellipse cx="8.9" cy="1.9" rx="4.9" ry="4.3" fill="#ecf524"/><ellipse cx="-6.6" cy="-7" rx="3" ry="3.6" fill="#ecf524"/><ellipse cx="-0.8" cy="-13.3" rx="4.2" ry="3.5" fill="#ecf524"/><ellipse cx="-6" cy="3.2" rx="4.8" ry="4.5" fill="#ecf524"/><ellipse cx="-4.1" cy="-12.3" rx="4" ry="4.7" fill="#ecf524"/><ellipse cx="-4.4" cy="10.2" rx="3.5" ry="2.7" fill="#ecf524"/><ellipse cx="-2.6" cy="-10.8" rx="2.9" ry="3.8" fill="#ecf524"/><ellipse cx="-4.7" cy="-4.4" rx="3.8" ry="3.9" fill="#ffa61c"/><ellipse cx="-5.1" cy="-7.3" rx="3.4" ry="2.7" fill="#ffa61c"/><ellipse cx="7.3" cy="1.7" rx="2.9" ry="2.7" fill="#ffa61c"/><ellipse cx="-3.2" cy="-0.4" rx="3.7" ry="3" fill="#ffa61c"/><ellipse cx="-8.2" cy="-0.6" rx="3.4" ry="4.2" fill="#ffa61c"/><ellipse cx="4.4" cy="-1.5" rx="3.9" ry="3" fill="#ffa61c"/><ellipse cx="7.3" cy="6.9" rx="2.1" ry="3.3" fill="#ffa61c"/><ellipse cx="-0.7" cy="0.5" rx="2.7" ry="2.1" fill="#ff2a0a"/><ellipse cx="-2.4" cy="3.1" rx="2.4" ry="2.1" fill="#ff2a0a"/><ellipse cx="-3.6" cy="-0.6" rx="2.5" ry="3.3" fill="#ff2a0a"/><ellipse cx="4.7" cy="4.9" rx="2.8" ry="3.3" fill="#ff2a0a"/><ellipse cx="-3.4" cy="-1.4" rx="3.6" ry="2.7" fill="#ff2a0a"/><ellipse cx="2.9" cy="-6.2" rx="2.8" ry="2" fill="#ff2a0a"/><ellipse cx="14.9" cy="14.6" rx="1.4" ry="1.5" fill="#1f9fb4"/><ellipse cx="-13.9" cy="13.4" rx="1" ry="1.5" fill="#1f9fb4"/><ellipse cx="-3.5" cy="-18.9" rx="1" ry="1.4" fill="#1f9fb4"/></g>
</g></g>
<g transform="translate(1283.4 591) rotate(0)"><g clip-path="url(#k8)">
<rect x="-22" y="-22.5" width="44" height="45" fill="#70ee1e"/>
<g filter="url(#bl)"><ellipse cx="13.2" cy="-4.2" rx="3" ry="4.7" fill="#c2f722"/><ellipse cx="1.5" cy="15.4" rx="5" ry="3.3" fill="#c2f722"/><ellipse cx="1.8" cy="-6.9" rx="6.5" ry="5.5" fill="#c2f722"/><ellipse cx="-7.9" cy="-14.5" rx="5.8" ry="6.2" fill="#c2f722"/><ellipse cx="-4.4" cy="-12" rx="6.1" ry="4.7" fill="#c2f722"/><ellipse cx="-8.3" cy="-3.1" rx="3.1" ry="4.7" fill="#c2f722"/><ellipse cx="10.9" cy="4.3" rx="3.5" ry="4.4" fill="#c2f722"/><ellipse cx="-15.4" cy="-4" rx="3.8" ry="4.1" fill="#c2f722"/><ellipse cx="-12.9" cy="-5.5" rx="4.8" ry="6.4" fill="#c2f722"/><ellipse cx="4.6" cy="-1.2" rx="5" ry="5.8" fill="#c2f722"/><ellipse cx="-10.9" cy="-9.2" rx="6.6" ry="4.8" fill="#c2f722"/><ellipse cx="-15.2" cy="-1" rx="4.3" ry="2.7" fill="#38de30"/><ellipse cx="-9.8" cy="-10.1" rx="3.2" ry="4.3" fill="#38de30"/><ellipse cx="-17.2" cy="-2.9" rx="2.3" ry="3" fill="#38de30"/><ellipse cx="-16.8" cy="-6.1" rx="2.9" ry="3.2" fill="#38de30"/><ellipse cx="-13.3" cy="-0.3" rx="3.6" ry="3.5" fill="#38de30"/><ellipse cx="3.6" cy="-13.7" rx="3.2" ry="2.3" fill="#38de30"/><ellipse cx="-7.8" cy="-9.1" rx="3.3" ry="2.9" fill="#ecf524"/><ellipse cx="-2.8" cy="-0.9" rx="2.3" ry="3.8" fill="#ecf524"/><ellipse cx="9.1" cy="-5" rx="4.5" ry="4.1" fill="#ecf524"/><ellipse cx="-8" cy="-6.9" rx="4.5" ry="3.9" fill="#ecf524"/><ellipse cx="-2.6" cy="-5.7" rx="4.5" ry="3.5" fill="#ecf524"/><ellipse cx="4.6" cy="3.5" rx="3.3" ry="3" fill="#ecf524"/><ellipse cx="-4.5" cy="-6.9" rx="4.8" ry="4.4" fill="#ecf524"/><ellipse cx="-0.4" cy="7.5" rx="2.9" ry="4.1" fill="#ecf524"/><ellipse cx="-5.8" cy="-7.3" rx="2.2" ry="2.7" fill="#ffa61c"/><ellipse cx="6.3" cy="6" rx="3.5" ry="3.6" fill="#ffa61c"/><ellipse cx="5.9" cy="0.5" rx="3.6" ry="3.6" fill="#ffa61c"/><ellipse cx="-6" cy="1" rx="2.4" ry="2.8" fill="#ffa61c"/><ellipse cx="0.7" cy="1" rx="2.3" ry="2.6" fill="#ffa61c"/><ellipse cx="2.8" cy="-0.6" rx="2.7" ry="4.1" fill="#ffa61c"/><ellipse cx="-0.7" cy="-3.6" rx="2.1" ry="3.1" fill="#ff2a0a"/><ellipse cx="0.9" cy="-6.2" rx="3" ry="3.3" fill="#ff2a0a"/><ellipse cx="-4.2" cy="-4.5" rx="2.6" ry="2.7" fill="#ff2a0a"/><ellipse cx="18.8" cy="-4.4" rx="1.1" ry="0.7" fill="#1f9fb4"/><ellipse cx="7.3" cy="-16.6" rx="1.2" ry="1.4" fill="#1f9fb4"/><ellipse cx="12" cy="-14.7" rx="1.2" ry="0.9" fill="#1f9fb4"/></g>
</g></g>
<g transform="translate(972 696) rotate(0)"><g clip-path="url(#k9)">
<rect x="-16" y="-18.5" width="32" height="37" fill="#70ee1e"/>
<g filter="url(#bl)"><ellipse cx="9.7" cy="-1.9" rx="5.1" ry="3.7" fill="#c2f722"/><ellipse cx="10.6" cy="-1.8" rx="3.3" ry="4.6" fill="#c2f722"/><ellipse cx="5.5" cy="-5.5" rx="4.8" ry="4" fill="#c2f722"/><ellipse cx="2.2" cy="-6.9" rx="2.3" ry="3.3" fill="#c2f722"/><ellipse cx="-9" cy="-6.5" rx="5.2" ry="3.2" fill="#c2f722"/><ellipse cx="4.1" cy="-12" rx="4.5" ry="3.2" fill="#c2f722"/><ellipse cx="3.4" cy="-10.8" rx="3.9" ry="5.3" fill="#c2f722"/><ellipse cx="-9.9" cy="-4.1" rx="3.7" ry="3.3" fill="#c2f722"/><ellipse cx="1.1" cy="13.1" rx="2.5" ry="3.2" fill="#38de30"/><ellipse cx="-0.4" cy="14.1" rx="2.6" ry="3.3" fill="#38de30"/><ellipse cx="4.1" cy="-13.3" rx="2.5" ry="2" fill="#38de30"/><ellipse cx="8" cy="-8.4" rx="2.4" ry="2.8" fill="#38de30"/><ellipse cx="1.4" cy="4.3" rx="3.7" ry="2.8" fill="#ecf524"/><ellipse cx="-5.4" cy="4.5" rx="2.9" ry="1.8" fill="#ecf524"/><ellipse cx="-2.1" cy="2.5" rx="3.3" ry="3.6" fill="#ecf524"/><ellipse cx="-4.4" cy="-3.7" rx="2.1" ry="3.4" fill="#ecf524"/><ellipse cx="8.5" cy="-0.6" rx="2.8" ry="3.4" fill="#ecf524"/><ellipse cx="1.1" cy="-7" rx="4.1" ry="3.7" fill="#ecf524"/><ellipse cx="3.2" cy="-0.9" rx="1.5" ry="2.1" fill="#ffa61c"/><ellipse cx="1.3" cy="0.9" rx="2.7" ry="2.9" fill="#ffa61c"/><ellipse cx="5.9" cy="-2.4" rx="1.8" ry="2.2" fill="#ffa61c"/><ellipse cx="3.5" cy="3.9" rx="1.9" ry="1.6" fill="#ff2a0a"/><ellipse cx="3.9" cy="-1.3" rx="1.6" ry="2.1" fill="#ff2a0a"/><ellipse cx="13.3" cy="-3.5" rx="0.7" ry="1.1" fill="#1f9fb4"/><ellipse cx="-8.1" cy="12.9" rx="1.4" ry="1.5" fill="#1f9fb4"/></g>
</g></g>
<g transform="translate(1072.4 699.8) rotate(0)"><g clip-path="url(#k10)">
<rect x="-22" y="-22.5" width="44" height="45" fill="#70ee1e"/>
<g filter="url(#bl)"><ellipse cx="8.4" cy="8.6" rx="3.1" ry="4.5" fill="#c2f722"/><ellipse cx="-0.8" cy="-1.8" rx="4.1" ry="6" fill="#c2f722"/><ellipse cx="7.2" cy="-3.6" rx="6.6" ry="6.3" fill="#c2f722"/><ellipse cx="7.3" cy="9" rx="4.3" ry="4.2" fill="#c2f722"/><ellipse cx="-8" cy="-8.5" rx="4.6" ry="5" fill="#c2f722"/><ellipse cx="-4.5" cy="-4.8" rx="4.7" ry="2.9" fill="#c2f722"/><ellipse cx="-6.1" cy="-2.2" rx="4.5" ry="6.4" fill="#c2f722"/><ellipse cx="5" cy="7.6" rx="4.7" ry="6.4" fill="#c2f722"/><ellipse cx="-9.6" cy="0.6" rx="6.5" ry="4.2" fill="#c2f722"/><ellipse cx="15.2" cy="5.8" rx="4" ry="5.9" fill="#c2f722"/><ellipse cx="-2" cy="8.7" rx="4.6" ry="3.4" fill="#c2f722"/><ellipse cx="18.5" cy="-0.2" rx="2.8" ry="2" fill="#38de30"/><ellipse cx="16" cy="6.2" rx="3.1" ry="3.2" fill="#38de30"/><ellipse cx="4.9" cy="-13.4" rx="2.9" ry="1.7" fill="#38de30"/><ellipse cx="-12.3" cy="-2.1" rx="3.3" ry="3.4" fill="#38de30"/><ellipse cx="-10.8" cy="-5.3" rx="2.9" ry="2.7" fill="#38de30"/><ellipse cx="3.7" cy="11" rx="2.3" ry="2.8" fill="#38de30"/><ellipse cx="-0.9" cy="6.1" rx="4.4" ry="3.9" fill="#ecf524"/><ellipse cx="-5.2" cy="-3.1" rx="3" ry="3.4" fill="#ecf524"/><ellipse cx="-0.6" cy="-3.2" rx="4.8" ry="3.5" fill="#ecf524"/><ellipse cx="6.2" cy="-7.2" rx="3.1" ry="3.3" fill="#ecf524"/><ellipse cx="4.8" cy="-5.1" rx="3.4" ry="3.6" fill="#ecf524"/><ellipse cx="4.2" cy="7.1" rx="4.4" ry="2.6" fill="#ecf524"/><ellipse cx="-9" cy="3.3" rx="3.5" ry="3.1" fill="#ecf524"/><ellipse cx="5" cy="-5.8" rx="4.6" ry="3.5" fill="#ecf524"/><ellipse cx="8.2" cy="3.4" rx="4.3" ry="3.4" fill="#ffa61c"/><ellipse cx="-6.8" cy="-1.4" rx="2.6" ry="2.6" fill="#ffa61c"/><ellipse cx="1.3" cy="2.8" rx="2.8" ry="3" fill="#ffa61c"/><ellipse cx="6.5" cy="4.6" rx="2.9" ry="1.8" fill="#ffa61c"/><ellipse cx="-6.1" cy="-3.3" rx="3.8" ry="2.5" fill="#ffa61c"/><ellipse cx="-0.4" cy="-2" rx="2.8" ry="2.2" fill="#ffa61c"/><ellipse cx="-0.5" cy="2.5" rx="2.6" ry="1.7" fill="#ff2a0a"/><ellipse cx="1.8" cy="-2.2" rx="2.6" ry="2.9" fill="#ff2a0a"/><ellipse cx="3.2" cy="-6.4" rx="2.6" ry="2" fill="#ff2a0a"/><ellipse cx="-4.5" cy="-0.7" rx="3.2" ry="3.5" fill="#ff2a0a"/><ellipse cx="1.1" cy="18.8" rx="1.5" ry="1.5" fill="#1f9fb4"/><ellipse cx="16.7" cy="-10.4" rx="1.8" ry="1.1" fill="#1f9fb4"/><ellipse cx="19.1" cy="-5.3" rx="1.3" ry="1" fill="#1f9fb4"/></g>
</g></g>
<g transform="translate(1179.2 694.8) rotate(-20)"><g clip-path="url(#k11)">
<rect x="-25.5" y="-28" width="51" height="56" fill="#70ee1e"/>
<g filter="url(#bl)"><ellipse cx="-6.6" cy="-9" rx="6.4" ry="4.6" fill="#c2f722"/><ellipse cx="14.2" cy="-8.1" rx="4.2" ry="5.2" fill="#c2f722"/><ellipse cx="10.3" cy="-3.7" rx="4.6" ry="5.3" fill="#c2f722"/><ellipse cx="-16.4" cy="-12.3" rx="4.2" ry="5.9" fill="#c2f722"/><ellipse cx="-7.6" cy="-1.8" rx="3.1" ry="4.8" fill="#c2f722"/><ellipse cx="-9.1" cy="6.7" rx="5.1" ry="3.3" fill="#c2f722"/><ellipse cx="8.5" cy="-14.9" rx="5.3" ry="6.1" fill="#c2f722"/><ellipse cx="-3.4" cy="-14.8" rx="5.1" ry="6" fill="#c2f722"/><ellipse cx="-3.7" cy="10.3" rx="4.1" ry="5.1" fill="#c2f722"/><ellipse cx="-1.9" cy="-1.3" rx="5.2" ry="5.5" fill="#c2f722"/><ellipse cx="-13.3" cy="-5.5" rx="5.2" ry="5.3" fill="#c2f722"/><ellipse cx="1.1" cy="-8.9" rx="4.4" ry="4.6" fill="#c2f722"/><ellipse cx="11.7" cy="5.3" rx="5.1" ry="5.7" fill="#c2f722"/><ellipse cx="3.4" cy="24.3" rx="2.9" ry="4.4" fill="#38de30"/><ellipse cx="-11.9" cy="17.6" rx="4.1" ry="3.9" fill="#38de30"/><ellipse cx="-20.2" cy="-2.5" rx="4" ry="4.4" fill="#38de30"/><ellipse cx="4.4" cy="-21.8" rx="4.7" ry="3.1" fill="#38de30"/><ellipse cx="20.6" cy="0.6" rx="4.1" ry="3.2" fill="#38de30"/><ellipse cx="-15.6" cy="-8.4" rx="4.5" ry="4.2" fill="#38de30"/><ellipse cx="-12.9" cy="13.5" rx="3.4" ry="3.8" fill="#38de30"/><ellipse cx="-9.1" cy="8.3" rx="4.3" ry="3.2" fill="#ecf524"/><ellipse cx="6.5" cy="-10" rx="3" ry="4.5" fill="#ecf524"/><ellipse cx="7.3" cy="10.5" rx="4.7" ry="3" fill="#ecf524"/><ellipse cx="-6.5" cy="14.4" rx="5.2" ry="5.3" fill="#ecf524"/><ellipse cx="-13.5" cy="7.4" rx="3.5" ry="2.2" fill="#ecf524"/><ellipse cx="-15.1" cy="0.3" rx="5.2" ry="4.2" fill="#ecf524"/><ellipse cx="-11.3" cy="-1.4" rx="3.8" ry="5" fill="#ecf524"/><ellipse cx="-7.7" cy="-5.8" rx="5.5" ry="4.8" fill="#ecf524"/><ellipse cx="7.8" cy="6.2" rx="4.4" ry="3.6" fill="#ecf524"/><ellipse cx="11.3" cy="-11.8" rx="4.5" ry="3.5" fill="#ecf524"/><ellipse cx="6.6" cy="-0.2" rx="3.6" ry="3.8" fill="#ffa61c"/><ellipse cx="-4.6" cy="11.3" rx="3.6" ry="4.4" fill="#ffa61c"/><ellipse cx="7.4" cy="-6.4" rx="4.4" ry="4.4" fill="#ffa61c"/><ellipse cx="-3.9" cy="2.4" rx="3.4" ry="2.7" fill="#ffa61c"/><ellipse cx="1.8" cy="4.9" rx="3.4" ry="4" fill="#ffa61c"/><ellipse cx="9" cy="-0.4" rx="2.9" ry="2.2" fill="#ffa61c"/><ellipse cx="-3.3" cy="9.7" rx="2.8" ry="2" fill="#ffa61c"/><ellipse cx="-7.9" cy="-5.3" rx="3.2" ry="2.6" fill="#ffa61c"/><ellipse cx="-0.7" cy="7.6" rx="3" ry="3" fill="#ff2a0a"/><ellipse cx="-2.5" cy="1.8" rx="2.2" ry="2.4" fill="#ff2a0a"/><ellipse cx="2.9" cy="2.3" rx="3" ry="2.8" fill="#ff2a0a"/><ellipse cx="0.7" cy="-2.2" rx="1.9" ry="2.1" fill="#ff2a0a"/><ellipse cx="-1.1" cy="-5.5" rx="1.7" ry="2.4" fill="#ff2a0a"/><ellipse cx="5.4" cy="-4.1" rx="2.1" ry="2.7" fill="#ff2a0a"/><ellipse cx="7.6" cy="3" rx="3.1" ry="3.1" fill="#ff2a0a"/><ellipse cx="-15.6" cy="-16.3" rx="1.3" ry="1.2" fill="#1f9fb4"/><ellipse cx="-9.2" cy="23.8" rx="2" ry="1.4" fill="#1f9fb4"/><ellipse cx="21.5" cy="-6.1" rx="1.4" ry="2.1" fill="#1f9fb4"/></g>
</g></g>
<g transform="translate(1280.8 698.6) rotate(-15)"><g clip-path="url(#k12)">
<rect x="-25.5" y="-22.5" width="51" height="45" fill="#70ee1e"/>
<g filter="url(#bl)"><ellipse cx="-9.7" cy="7.3" rx="4.3" ry="2.8" fill="#c2f722"/><ellipse cx="-6" cy="7" rx="3.3" ry="4.6" fill="#c2f722"/><ellipse cx="16.1" cy="3.1" rx="5" ry="3.3" fill="#c2f722"/><ellipse cx="8.8" cy="5" rx="4.2" ry="6.4" fill="#c2f722"/><ellipse cx="9.4" cy="-13.5" rx="4.5" ry="3.4" fill="#c2f722"/><ellipse cx="-14.2" cy="12" rx="4.7" ry="4.6" fill="#c2f722"/><ellipse cx="1.9" cy="11.7" rx="3.9" ry="4.5" fill="#c2f722"/><ellipse cx="12.5" cy="-7.9" rx="5.1" ry="3.6" fill="#c2f722"/><ellipse cx="4.4" cy="15.9" rx="4.4" ry="3.6" fill="#c2f722"/><ellipse cx="-2.3" cy="15.3" rx="5.2" ry="4.5" fill="#c2f722"/><ellipse cx="-4.7" cy="10.2" rx="4.3" ry="2.9" fill="#c2f722"/><ellipse cx="-8.5" cy="15.4" rx="2.3" ry="2.8" fill="#38de30"/><ellipse cx="-16.1" cy="0" rx="2" ry="2.8" fill="#38de30"/><ellipse cx="14.2" cy="12.4" rx="3.2" ry="2.4" fill="#38de30"/><ellipse cx="3.4" cy="-18.5" rx="2.8" ry="4.3" fill="#38de30"/><ellipse cx="19.5" cy="3.2" rx="2.9" ry="3.9" fill="#38de30"/><ellipse cx="-10.8" cy="-14.6" rx="2.9" ry="3.1" fill="#38de30"/><ellipse cx="-4.6" cy="-4.2" rx="3.5" ry="3.4" fill="#ecf524"/><ellipse cx="-0.7" cy="-2.7" rx="2.2" ry="3.4" fill="#ecf524"/><ellipse cx="-3.2" cy="8" rx="3.4" ry="2.4" fill="#ecf524"/><ellipse cx="6.2" cy="11.3" rx="3.9" ry="4.4" fill="#ecf524"/><ellipse cx="-12" cy="4.5" rx="4" ry="2.4" fill="#ecf524"/><ellipse cx="1.4" cy="-7.2" rx="3.4" ry="3.2" fill="#ecf524"/><ellipse cx="7.4" cy="2" rx="3.2" ry="3.5" fill="#ecf524"/><ellipse cx="11.7" cy="-6.1" rx="3" ry="3.4" fill="#ecf524"/><ellipse cx="-0.2" cy="-12.4" rx="3.8" ry="2.4" fill="#ecf524"/><ellipse cx="-9.6" cy="4.3" rx="3.9" ry="3.5" fill="#ffa61c"/><ellipse cx="-5.2" cy="-4.7" rx="2.4" ry="2.7" fill="#ffa61c"/><ellipse cx="-10.8" cy="-0.7" rx="2.6" ry="2.9" fill="#ffa61c"/><ellipse cx="-3" cy="-8.4" rx="3.1" ry="2.5" fill="#ffa61c"/><ellipse cx="-5.4" cy="-5.5" rx="1.9" ry="3.1" fill="#ffa61c"/><ellipse cx="-4.3" cy="2.3" rx="3.2" ry="2.1" fill="#ffa61c"/><ellipse cx="-2.6" cy="-4.2" rx="2.5" ry="3.1" fill="#ffa61c"/><ellipse cx="4.7" cy="-1.7" rx="2.3" ry="2.5" fill="#ff2a0a"/><ellipse cx="-4.6" cy="-1.7" rx="3.3" ry="2.7" fill="#ff2a0a"/><ellipse cx="3.4" cy="5.3" rx="2.9" ry="2.3" fill="#ff2a0a"/><ellipse cx="1.4" cy="-2.2" rx="1.8" ry="2.4" fill="#ff2a0a"/><ellipse cx="4.2" cy="1.5" rx="2" ry="2.3" fill="#ff2a0a"/><ellipse cx="3.7" cy="2.8" rx="2" ry="2.7" fill="#ff2a0a"/><ellipse cx="18.7" cy="7.8" rx="1.8" ry="2" fill="#1f9fb4"/><ellipse cx="-4.8" cy="-20" rx="1" ry="1.6" fill="#1f9fb4"/><ellipse cx="-19.5" cy="7.4" rx="1.6" ry="1" fill="#1f9fb4"/></g>
</g></g>
<g transform="translate(964.5 799) rotate(0)"><g clip-path="url(#k13)">
<rect x="-15.5" y="-15.5" width="31" height="31" fill="#70ee1e"/>
<g filter="url(#bl)"><ellipse cx="4.9" cy="8.7" rx="4" ry="4.4" fill="#c2f722"/><ellipse cx="4.1" cy="9.4" rx="3.4" ry="2.5" fill="#c2f722"/><ellipse cx="-7" cy="7.5" rx="3.2" ry="2" fill="#c2f722"/><ellipse cx="-7.1" cy="-7.3" rx="4.2" ry="4" fill="#c2f722"/><ellipse cx="-7.9" cy="0.3" rx="3.1" ry="2.2" fill="#c2f722"/><ellipse cx="8.2" cy="4.5" rx="3.1" ry="2.4" fill="#c2f722"/><ellipse cx="1.9" cy="1.2" rx="3.7" ry="2.5" fill="#c2f722"/><ellipse cx="10.3" cy="0.2" rx="4.1" ry="4.5" fill="#c2f722"/><ellipse cx="-2.1" cy="9.9" rx="2.1" ry="2.7" fill="#38de30"/><ellipse cx="-9.5" cy="3.8" rx="3" ry="3.2" fill="#38de30"/><ellipse cx="-2.4" cy="8" rx="2.1" ry="2.8" fill="#38de30"/><ellipse cx="6.1" cy="3.6" rx="2.6" ry="2.6" fill="#38de30"/><ellipse cx="7.4" cy="-8.3" rx="3.5" ry="2.9" fill="#ecf524"/><ellipse cx="8.6" cy="3.4" rx="3" ry="2.1" fill="#ecf524"/><ellipse cx="7.5" cy="-2.3" rx="2.2" ry="3" fill="#ecf524"/><ellipse cx="1.4" cy="-1.2" rx="2.1" ry="2.4" fill="#ecf524"/><ellipse cx="7.9" cy="4.7" rx="2.2" ry="2.7" fill="#ecf524"/><ellipse cx="-8.3" cy="-1.6" rx="1.7" ry="2.7" fill="#ecf524"/><ellipse cx="6.9" cy="-5.7" rx="1.7" ry="1.8" fill="#ff9a1c"/><ellipse cx="7.3" cy="5" rx="1.9" ry="1.5" fill="#ff9a1c"/><ellipse cx="1.3" cy="9" rx="1.8" ry="1.4" fill="#ff9a1c"/><ellipse cx="7.4" cy="4.1" rx="1.3" ry="1" fill="#ff2a0a"/><ellipse cx="-10.2" cy="-3.4" rx="1.5" ry="1" fill="#1f9fb4"/><ellipse cx="-0.9" cy="-5.3" rx="1.2" ry="1.5" fill="#1f9fb4"/></g>
</g></g>
<g transform="translate(1070.5 802) rotate(0)"><g clip-path="url(#k14)">
<rect x="-18" y="-18.5" width="36" height="37" fill="#70ee1e"/>
<g filter="url(#bl)"><ellipse cx="-9.1" cy="-9" rx="4.5" ry="4.3" fill="#c2f722"/><ellipse cx="5.7" cy="10.5" rx="3.9" ry="3.6" fill="#c2f722"/><ellipse cx="2.2" cy="-4.3" rx="4" ry="3.6" fill="#c2f722"/><ellipse cx="-0.5" cy="-2.9" rx="4.6" ry="2.9" fill="#c2f722"/><ellipse cx="1.5" cy="-4.4" rx="4.6" ry="5.3" fill="#c2f722"/><ellipse cx="3.2" cy="8.7" rx="4.2" ry="5.1" fill="#c2f722"/><ellipse cx="4.4" cy="0.6" rx="5" ry="3.4" fill="#c2f722"/><ellipse cx="-2.8" cy="11.2" rx="4" ry="2.7" fill="#c2f722"/><ellipse cx="-10.9" cy="-2.8" rx="4.9" ry="5" fill="#c2f722"/><ellipse cx="-3.2" cy="5" rx="3.1" ry="2.9" fill="#38de30"/><ellipse cx="6.2" cy="1.5" rx="3.1" ry="3.6" fill="#38de30"/><ellipse cx="-5.9" cy="0.9" rx="3.6" ry="2.8" fill="#38de30"/><ellipse cx="-3.2" cy="-2.7" rx="2.8" ry="1.9" fill="#38de30"/><ellipse cx="-2.4" cy="-1.5" rx="2" ry="2.7" fill="#ecf524"/><ellipse cx="-7.4" cy="-4" rx="3" ry="1.8" fill="#ecf524"/><ellipse cx="-1" cy="1.7" rx="3.2" ry="3.2" fill="#ecf524"/><ellipse cx="6.7" cy="9.1" rx="2.9" ry="2" fill="#ecf524"/><ellipse cx="-0.8" cy="10.5" rx="3.3" ry="3.2" fill="#ecf524"/><ellipse cx="9.9" cy="2.2" rx="3.7" ry="3.5" fill="#ecf524"/><ellipse cx="-7.2" cy="-8.2" rx="3" ry="2.1" fill="#ecf524"/><ellipse cx="9.6" cy="-10.2" rx="2.7" ry="2" fill="#ff9a1c"/><ellipse cx="-0.7" cy="-10.7" rx="2.7" ry="2" fill="#ff9a1c"/><ellipse cx="-3.8" cy="2.6" rx="2.3" ry="1.7" fill="#ff9a1c"/><ellipse cx="-8.9" cy="1.1" rx="1.5" ry="2.2" fill="#ff9a1c"/><ellipse cx="3.1" cy="3.6" rx="1.9" ry="2.4" fill="#ff2a0a"/><ellipse cx="-8.2" cy="-3.9" rx="1" ry="1.6" fill="#ff2a0a"/><ellipse cx="-4.7" cy="12.5" rx="1.5" ry="1.5" fill="#1f9fb4"/><ellipse cx="10.4" cy="-5.8" rx="1.2" ry="0.8" fill="#1f9fb4"/></g>
</g></g>
<g transform="translate(1176.6 800) rotate(0)"><g clip-path="url(#k15)">
<rect x="-27" y="-25" width="54" height="50" fill="#70ee1e"/>
<g filter="url(#bl)"><ellipse cx="-7.8" cy="5.2" rx="6.1" ry="5.8" fill="#c2f722"/><ellipse cx="6.1" cy="16" rx="6.1" ry="7.2" fill="#c2f722"/><ellipse cx="7.4" cy="-17.2" rx="3.5" ry="5.4" fill="#c2f722"/><ellipse cx="-19.7" cy="-4.3" rx="6.1" ry="6.2" fill="#c2f722"/><ellipse cx="-8.7" cy="15.2" rx="6.3" ry="4.8" fill="#c2f722"/><ellipse cx="-2.7" cy="4" rx="5.6" ry="3.4" fill="#c2f722"/><ellipse cx="-7.7" cy="12" rx="4.3" ry="6.1" fill="#c2f722"/><ellipse cx="20.7" cy="1.6" rx="6" ry="6" fill="#c2f722"/><ellipse cx="-13.9" cy="-11.1" rx="3.4" ry="5.3" fill="#c2f722"/><ellipse cx="11.8" cy="13.5" rx="4.3" ry="4.6" fill="#c2f722"/><ellipse cx="-16.1" cy="-3.7" rx="6" ry="5.2" fill="#c2f722"/><ellipse cx="-9" cy="14.9" rx="5.1" ry="4.5" fill="#c2f722"/><ellipse cx="2" cy="-10.9" rx="6.6" ry="6.6" fill="#c2f722"/><ellipse cx="-3.5" cy="17.7" rx="3.1" ry="4.8" fill="#38de30"/><ellipse cx="-20.7" cy="2.9" rx="4.4" ry="3.3" fill="#38de30"/><ellipse cx="3" cy="19.9" rx="1.8" ry="3" fill="#38de30"/><ellipse cx="18" cy="6.6" rx="3.9" ry="2.7" fill="#38de30"/><ellipse cx="-10.2" cy="10.5" rx="3.2" ry="2.8" fill="#38de30"/><ellipse cx="7.2" cy="10.6" rx="4.4" ry="3.1" fill="#38de30"/><ellipse cx="-13.4" cy="0.1" rx="3.9" ry="4.2" fill="#ecf524"/><ellipse cx="-7.1" cy="13.1" rx="3.3" ry="3.7" fill="#ecf524"/><ellipse cx="-6.5" cy="-7.7" rx="5.3" ry="3.3" fill="#ecf524"/><ellipse cx="-13.6" cy="7.9" rx="4.6" ry="5.5" fill="#ecf524"/><ellipse cx="-0.1" cy="7.9" rx="3" ry="4.4" fill="#ecf524"/><ellipse cx="0.8" cy="-12.3" rx="4.1" ry="4.1" fill="#ecf524"/><ellipse cx="-6" cy="-2.6" rx="5" ry="5.3" fill="#ecf524"/><ellipse cx="0.1" cy="-14" rx="3" ry="4.1" fill="#ecf524"/><ellipse cx="5.2" cy="-3.9" rx="4.1" ry="4.9" fill="#ecf524"/><ellipse cx="-13.9" cy="-6.9" rx="3.7" ry="3.9" fill="#ecf524"/><ellipse cx="2.1" cy="-10" rx="3.1" ry="3" fill="#ffa61c"/><ellipse cx="-0.6" cy="1.6" rx="3" ry="3" fill="#ffa61c"/><ellipse cx="4" cy="-2.3" rx="2.7" ry="4.2" fill="#ffa61c"/><ellipse cx="-1.5" cy="-3" rx="3.4" ry="3.3" fill="#ffa61c"/><ellipse cx="8.8" cy="-7.4" rx="2.8" ry="2" fill="#ffa61c"/><ellipse cx="-0.9" cy="-2" rx="2.6" ry="3.8" fill="#ffa61c"/><ellipse cx="1" cy="0.7" rx="3.8" ry="2.8" fill="#ff2a0a"/><ellipse cx="4.6" cy="4" rx="1.8" ry="2.3" fill="#ff2a0a"/><ellipse cx="-1.4" cy="-3" rx="2.7" ry="3.4" fill="#ff2a0a"/><ellipse cx="-3.9" cy="4.7" rx="2.7" ry="3.7" fill="#ff2a0a"/><ellipse cx="8.4" cy="-1.6" rx="2.4" ry="3.4" fill="#ff2a0a"/><ellipse cx="-2" cy="20.4" rx="1" ry="1.3" fill="#1f9fb4"/><ellipse cx="-21.8" cy="-7.4" rx="1.2" ry="1.1" fill="#1f9fb4"/><ellipse cx="-22.9" cy="-6" rx="1.8" ry="1.8" fill="#1f9fb4"/></g>
</g></g>
<g transform="translate(1278 802) rotate(0)"><g clip-path="url(#k16)">
<rect x="-22" y="-25.5" width="44" height="51" fill="#70ee1e"/>
<g filter="url(#bl)"><ellipse cx="-6" cy="6.9" rx="4.1" ry="2.6" fill="#c2f722"/><ellipse cx="3.4" cy="-18.9" rx="3.2" ry="3.7" fill="#c2f722"/><ellipse cx="-7.7" cy="-11.9" rx="4.3" ry="4.4" fill="#c2f722"/><ellipse cx="-0.4" cy="-18.7" rx="4.9" ry="4.1" fill="#c2f722"/><ellipse cx="1.3" cy="16" rx="5.5" ry="4.1" fill="#c2f722"/><ellipse cx="-9.7" cy="9.1" rx="4.5" ry="5.1" fill="#c2f722"/><ellipse cx="-8.7" cy="-10.8" rx="3.5" ry="4.1" fill="#c2f722"/><ellipse cx="9.9" cy="-7.6" rx="4.4" ry="5.4" fill="#c2f722"/><ellipse cx="1.2" cy="7.5" rx="6" ry="4.8" fill="#c2f722"/><ellipse cx="-15.2" cy="-3.1" rx="4.2" ry="2.8" fill="#c2f722"/><ellipse cx="-13.3" cy="4" rx="5.7" ry="5.5" fill="#c2f722"/><ellipse cx="11.3" cy="3.7" rx="3.8" ry="4.1" fill="#38de30"/><ellipse cx="5.4" cy="9.3" rx="2.8" ry="2.1" fill="#38de30"/><ellipse cx="-12.7" cy="-2" rx="2.7" ry="2.1" fill="#38de30"/><ellipse cx="-4.3" cy="-14.2" rx="3.4" ry="3.2" fill="#38de30"/><ellipse cx="9.2" cy="15" rx="2.6" ry="3.2" fill="#38de30"/><ellipse cx="-7.6" cy="9.5" rx="2" ry="3.3" fill="#38de30"/><ellipse cx="-3.7" cy="-2.1" rx="2.7" ry="3.1" fill="#ecf524"/><ellipse cx="-3.8" cy="8.9" rx="4.2" ry="2.7" fill="#ecf524"/><ellipse cx="4.9" cy="-7" rx="3.5" ry="3.2" fill="#ecf524"/><ellipse cx="-2.5" cy="3.1" rx="3.5" ry="2.6" fill="#ecf524"/><ellipse cx="-3.1" cy="12.4" rx="3.6" ry="3.9" fill="#ecf524"/><ellipse cx="-9.8" cy="10.2" rx="4.4" ry="3" fill="#ecf524"/><ellipse cx="-2.5" cy="-12" rx="2.9" ry="3.9" fill="#ecf524"/><ellipse cx="0.4" cy="-12.5" rx="3.7" ry="2.9" fill="#ecf524"/><ellipse cx="0.2" cy="-5.6" rx="2.3" ry="3" fill="#ff9a1c"/><ellipse cx="6.4" cy="-12" rx="2.7" ry="2.8" fill="#ff9a1c"/><ellipse cx="-13.2" cy="0.9" rx="3.3" ry="2.9" fill="#ff9a1c"/><ellipse cx="-4.2" cy="3.6" rx="3.1" ry="2.5" fill="#ff9a1c"/><ellipse cx="0.9" cy="-8.4" rx="2.4" ry="1.5" fill="#ff9a1c"/><ellipse cx="5.2" cy="4.6" rx="2.6" ry="3.2" fill="#ff9a1c"/><ellipse cx="-6.9" cy="-17.5" rx="2.2" ry="1.4" fill="#ff2a0a"/><ellipse cx="-13" cy="8.7" rx="2.9" ry="2.7" fill="#ff2a0a"/><ellipse cx="7.3" cy="11.2" rx="2.3" ry="1.4" fill="#ff2a0a"/><ellipse cx="-1.7" cy="12.7" rx="1.5" ry="1.1" fill="#1f9fb4"/><ellipse cx="-13.3" cy="-5.7" rx="1" ry="1.6" fill="#1f9fb4"/><ellipse cx="11.5" cy="-15.1" rx="1.4" ry="2" fill="#1f9fb4"/></g>
</g></g>
<rect x="1273" y="838.9" width="42.2" height="8.7" fill="#fff"/>
<rect x="914" y="859.1" width="421" height="19.8" fill="url(#jet)"/>
<rect x="914" y="859.1" width="3.6" height="19.8" fill="#000"/>
<path d="M914 859.3H1335" stroke="#9a9a9a" stroke-width="0.8"/>
<text transform="translate(976.5 910)" font-size="30.2" text-anchor="middle">Median -</text>
<text transform="translate(977.5 945.6)" font-size="30.2" text-anchor="middle">1.6 IQR</text>
<text transform="translate(1267 910)" font-size="30.2" text-anchor="middle">Median +</text>
<text transform="translate(1268 945.6)" font-size="30.2" text-anchor="middle">1.6 IQR</text>
<path d="M1080 916.8H1168" stroke="#000" stroke-width="2" fill="none"/>
<path d="M1064.8 916.8 L1082 908.3 V925.3 Z M1183.2 916.8 L1166 908.3 V925.3 Z" fill="#000"/>
<text transform="translate(840.8 1014)" font-size="86" font-weight="bold">d</text>
<rect x="915.8" y="983.4" width="419" height="419" fill="#000"/>
<g transform="translate(965.2 1039) rotate(0)"><g clip-path="url(#k17)">
<rect x="-23" y="-22" width="46" height="44" fill="#70ee1e"/>
<g filter="url(#bl)"><ellipse cx="-9.4" cy="-3.9" rx="3.9" ry="4.3" fill="#c2f722"/><ellipse cx="-4" cy="-14.8" rx="5.1" ry="4" fill="#c2f722"/><ellipse cx="-15.9" cy="5.4" rx="3.7" ry="2.9" fill="#c2f722"/><ellipse cx="15.9" cy="4.8" rx="3.1" ry="3.7" fill="#c2f722"/><ellipse cx="11.9" cy="-6" rx="5.6" ry="4.5" fill="#c2f722"/><ellipse cx="-4.4" cy="-8.3" rx="3.8" ry="4.1" fill="#c2f722"/><ellipse cx="7.1" cy="-3.8" rx="3.8" ry="2.4" fill="#c2f722"/><ellipse cx="11" cy="-3.3" rx="5.3" ry="3.7" fill="#c2f722"/><ellipse cx="-2.8" cy="-6.2" rx="3.3" ry="3.7" fill="#c2f722"/><ellipse cx="5" cy="-7.9" rx="3.5" ry="4.2" fill="#c2f722"/><ellipse cx="-6.6" cy="-2.5" rx="5.9" ry="4.3" fill="#c2f722"/><ellipse cx="10.3" cy="13.9" rx="3.3" ry="4.3" fill="#38de30"/><ellipse cx="-11.7" cy="10.4" rx="2.4" ry="3" fill="#38de30"/><ellipse cx="-16.6" cy="3.6" rx="2.9" ry="3.4" fill="#38de30"/><ellipse cx="3.3" cy="-5.8" rx="4.2" ry="4.2" fill="#38de30"/><ellipse cx="-10.6" cy="-1.7" rx="2.9" ry="3.2" fill="#38de30"/><ellipse cx="5.5" cy="-2.5" rx="3.5" ry="3.3" fill="#38de30"/><ellipse cx="-5.2" cy="-1.3" rx="3" ry="2.1" fill="#ecf524"/><ellipse cx="4.8" cy="-6.7" rx="4.4" ry="2.7" fill="#ecf524"/><ellipse cx="10.3" cy="-2" rx="3.8" ry="4.4" fill="#ecf524"/><ellipse cx="-6" cy="9.9" rx="2.9" ry="3.2" fill="#ecf524"/><ellipse cx="2.3" cy="-9.1" rx="2.4" ry="2.9" fill="#ecf524"/><ellipse cx="-15.1" cy="-4.8" rx="3" ry="3.8" fill="#ecf524"/><ellipse cx="-5.6" cy="-0.4" rx="3.9" ry="2.5" fill="#ecf524"/><ellipse cx="-6.6" cy="8.4" rx="2.6" ry="3.9" fill="#ecf524"/><ellipse cx="10.7" cy="-3.9" rx="3.2" ry="3.3" fill="#ff9a1c"/><ellipse cx="4.1" cy="5.3" rx="2.2" ry="3.4" fill="#ff9a1c"/><ellipse cx="-7.3" cy="-1.6" rx="2.8" ry="1.9" fill="#ff9a1c"/><ellipse cx="-11.9" cy="-0.5" rx="1.8" ry="2.4" fill="#ff9a1c"/><ellipse cx="6.9" cy="6.8" rx="3.4" ry="2.7" fill="#ff9a1c"/><ellipse cx="18.4" cy="1.7" rx="2.8" ry="2.6" fill="#ff9a1c"/><ellipse cx="-3.7" cy="-8.6" rx="2.1" ry="3.2" fill="#ff9a1c"/><ellipse cx="13.1" cy="2.5" rx="2.3" ry="1.6" fill="#ff2a0a"/><ellipse cx="13.5" cy="7.5" rx="1.9" ry="1.6" fill="#ff2a0a"/><ellipse cx="-1.9" cy="-7.1" rx="1.9" ry="1.6" fill="#ff2a0a"/><ellipse cx="15.6" cy="3.9" rx="2.3" ry="2.5" fill="#ff2a0a"/><ellipse cx="5.3" cy="-12.6" rx="2" ry="1.2" fill="#1f9fb4"/><ellipse cx="-11.5" cy="6.8" rx="1.4" ry="1" fill="#1f9fb4"/><ellipse cx="-4.1" cy="-8.2" rx="1" ry="1.6" fill="#1f9fb4"/></g>
</g></g>
<g transform="translate(1076 1036) rotate(0)"><g clip-path="url(#k18)">
<rect x="-30" y="-42" width="60" height="84" fill="#70ee1e"/>
<g filter="url(#bl)"><ellipse cx="2.7" cy="19.8" rx="7.3" ry="7.2" fill="#c2f722"/><ellipse cx="-17" cy="3.1" rx="6.6" ry="6.4" fill="#c2f722"/><ellipse cx="-7.1" cy="-11.8" rx="6.2" ry="5.8" fill="#c2f722"/><ellipse cx="17.2" cy="16.3" rx="5.3" ry="3.5" fill="#c2f722"/><ellipse cx="-9.8" cy="-26.8" rx="4.7" ry="4.3" fill="#c2f722"/><ellipse cx="17.3" cy="-17.1" rx="6.8" ry="6.3" fill="#c2f722"/><ellipse cx="-20.3" cy="12.6" rx="6.3" ry="6.7" fill="#c2f722"/><ellipse cx="17.2" cy="-6.2" rx="7.2" ry="4.6" fill="#c2f722"/><ellipse cx="2.8" cy="-17.1" rx="4.7" ry="6.8" fill="#c2f722"/><ellipse cx="-11.4" cy="4.5" rx="5.8" ry="5.6" fill="#c2f722"/><ellipse cx="-3.7" cy="-21.3" rx="6.7" ry="6.1" fill="#c2f722"/><ellipse cx="20.6" cy="-11.4" rx="5.5" ry="3.5" fill="#c2f722"/><ellipse cx="7.3" cy="-17.5" rx="6.1" ry="5.7" fill="#c2f722"/><ellipse cx="17" cy="0.7" rx="4.3" ry="2.8" fill="#c2f722"/><ellipse cx="-16.5" cy="13.4" rx="4.2" ry="5.7" fill="#c2f722"/><ellipse cx="-13.5" cy="25.6" rx="4.4" ry="6.2" fill="#c2f722"/><ellipse cx="-3" cy="32.4" rx="4" ry="3.5" fill="#38de30"/><ellipse cx="16.2" cy="22.2" rx="2.9" ry="3.2" fill="#38de30"/><ellipse cx="-3.6" cy="37.8" rx="3.9" ry="2.7" fill="#38de30"/><ellipse cx="-19.6" cy="-23.5" rx="3.9" ry="3.1" fill="#38de30"/><ellipse cx="-26.8" cy="-1.6" rx="3.3" ry="3.5" fill="#38de30"/><ellipse cx="-0.5" cy="-0.1" rx="3.4" ry="3.5" fill="#38de30"/><ellipse cx="4.9" cy="-18.2" rx="3.8" ry="2.5" fill="#38de30"/><ellipse cx="12.5" cy="-21.3" rx="3.9" ry="3.8" fill="#38de30"/><ellipse cx="-3.4" cy="-8.4" rx="4.6" ry="3.6" fill="#ecf524"/><ellipse cx="-12.8" cy="21.8" rx="4.6" ry="3.5" fill="#ecf524"/><ellipse cx="-10.3" cy="-29.9" rx="4.3" ry="3.2" fill="#ecf524"/><ellipse cx="20.8" cy="11.2" rx="3.9" ry="4.7" fill="#ecf524"/><ellipse cx="0.2" cy="-33.1" rx="4.3" ry="4.8" fill="#ecf524"/><ellipse cx="-4.1" cy="11.6" rx="5.1" ry="5.3" fill="#ecf524"/><ellipse cx="-15.7" cy="-13.9" rx="3.4" ry="2.6" fill="#ecf524"/><ellipse cx="-8.1" cy="-14.4" rx="4.9" ry="3.5" fill="#ecf524"/><ellipse cx="-21.1" cy="16.6" rx="4.7" ry="4.3" fill="#ecf524"/><ellipse cx="-17.4" cy="23.5" rx="4.2" ry="4.8" fill="#ecf524"/><ellipse cx="9.7" cy="22.6" rx="4.6" ry="5" fill="#ecf524"/><ellipse cx="11.1" cy="19.4" rx="5.1" ry="3.4" fill="#ecf524"/><ellipse cx="7.2" cy="19" rx="1.9" ry="2.6" fill="#ff9a1c"/><ellipse cx="24.6" cy="-7.5" rx="2.8" ry="2" fill="#ff9a1c"/><ellipse cx="4.9" cy="20.8" rx="2.1" ry="3.3" fill="#ff9a1c"/><ellipse cx="-13" cy="14.7" rx="3" ry="4.2" fill="#ff9a1c"/><ellipse cx="14.8" cy="-13.8" rx="4" ry="3.4" fill="#ff9a1c"/><ellipse cx="-4.4" cy="14.8" rx="3.8" ry="3" fill="#ff9a1c"/><ellipse cx="-10.7" cy="-28.4" rx="3" ry="2.2" fill="#ff9a1c"/><ellipse cx="-14.3" cy="-3.8" rx="3.6" ry="2.5" fill="#ff9a1c"/><ellipse cx="22.6" cy="8.7" rx="3.5" ry="2.6" fill="#ff9a1c"/><ellipse cx="-1.3" cy="19.4" rx="2.6" ry="2.2" fill="#ff9a1c"/><ellipse cx="-7.4" cy="-22.1" rx="2.5" ry="3.9" fill="#ff9a1c"/><ellipse cx="-15.5" cy="-28.8" rx="3.6" ry="3.2" fill="#ff9a1c"/><ellipse cx="-20.7" cy="23.3" rx="2.3" ry="3.1" fill="#ff2a0a"/><ellipse cx="5.9" cy="-23.4" rx="2.2" ry="2.1" fill="#ff2a0a"/><ellipse cx="-22.4" cy="-4.3" rx="2.2" ry="3.3" fill="#ff2a0a"/><ellipse cx="16.9" cy="10.7" rx="2.7" ry="2.5" fill="#ff2a0a"/><ellipse cx="-16.1" cy="-12.4" rx="2.8" ry="2" fill="#ff2a0a"/><ellipse cx="6" cy="-35" rx="2.2" ry="1.9" fill="#ff2a0a"/><ellipse cx="-25.7" cy="-0.1" rx="3.3" ry="3" fill="#ff2a0a"/><ellipse cx="-15.1" cy="-29.6" rx="2.1" ry="1.9" fill="#ff2a0a"/><ellipse cx="-12" cy="-14.8" rx="2" ry="1.7" fill="#ff2a0a"/><ellipse cx="-2.1" cy="20.6" rx="2.3" ry="1.4" fill="#ff2a0a"/><ellipse cx="24.1" cy="-5.6" rx="1.7" ry="1.9" fill="#1f9fb4"/><ellipse cx="8.9" cy="-20.6" rx="1.3" ry="1.5" fill="#1f9fb4"/><ellipse cx="-1.6" cy="14.6" rx="2" ry="1.6" fill="#1f9fb4"/><ellipse cx="24" cy="8.8" rx="1.6" ry="1.1" fill="#1f9fb4"/></g>
</g></g>
<g transform="translate(1186 1035.2) rotate(0)"><g clip-path="url(#k19)">
<rect x="-22" y="-24.5" width="44" height="49" fill="#70ee1e"/>
<g filter="url(#bl)"><ellipse cx="-10" cy="-12" rx="5.1" ry="3.9" fill="#c2f722"/><ellipse cx="-6.9" cy="-4.9" rx="5.8" ry="5.8" fill="#c2f722"/><ellipse cx="9.5" cy="-2.7" rx="3.8" ry="6.1" fill="#c2f722"/><ellipse cx="7.7" cy="9.7" rx="4.7" ry="5.3" fill="#c2f722"/><ellipse cx="-4.1" cy="7.1" rx="3.3" ry="4.6" fill="#c2f722"/><ellipse cx="-1.1" cy="-13.8" rx="4.7" ry="3.2" fill="#c2f722"/><ellipse cx="2.9" cy="9.4" rx="5" ry="4.4" fill="#c2f722"/><ellipse cx="-0.2" cy="-18.8" rx="5.9" ry="5.3" fill="#c2f722"/><ellipse cx="7.2" cy="3.4" rx="3.6" ry="3.4" fill="#c2f722"/><ellipse cx="-6" cy="-7.3" rx="4.5" ry="3" fill="#c2f722"/><ellipse cx="9.4" cy="-0.6" rx="2.5" ry="3.7" fill="#c2f722"/><ellipse cx="13.7" cy="-11.4" rx="2.2" ry="3.4" fill="#38de30"/><ellipse cx="9.5" cy="15.6" rx="3.4" ry="3.4" fill="#38de30"/><ellipse cx="3.6" cy="-14.3" rx="2.6" ry="4.1" fill="#38de30"/><ellipse cx="-12.5" cy="-5.9" rx="2.1" ry="3" fill="#38de30"/><ellipse cx="13.5" cy="-9.8" rx="4.2" ry="4.3" fill="#38de30"/><ellipse cx="-1.3" cy="-13.2" rx="3.8" ry="4" fill="#38de30"/><ellipse cx="7.9" cy="0.7" rx="2.8" ry="3.8" fill="#ecf524"/><ellipse cx="7.3" cy="-15" rx="3.6" ry="2.2" fill="#ecf524"/><ellipse cx="-4.5" cy="-1.1" rx="3.3" ry="2.8" fill="#ecf524"/><ellipse cx="-13.6" cy="1.5" rx="3.1" ry="2.2" fill="#ecf524"/><ellipse cx="-4.1" cy="4.2" rx="2.5" ry="3.8" fill="#ecf524"/><ellipse cx="-12.6" cy="4" rx="3.4" ry="3.9" fill="#ecf524"/><ellipse cx="13.3" cy="6.8" rx="2.2" ry="2.8" fill="#ecf524"/><ellipse cx="-6.7" cy="-14.5" rx="3.2" ry="2.7" fill="#ecf524"/><ellipse cx="-7.5" cy="1.5" rx="2.9" ry="3.4" fill="#ff9a1c"/><ellipse cx="1.3" cy="20.2" rx="2.4" ry="1.8" fill="#ff9a1c"/><ellipse cx="6.5" cy="-14.7" rx="2" ry="3.2" fill="#ff9a1c"/><ellipse cx="16.1" cy="-2.8" rx="1.3" ry="2.2" fill="#ff9a1c"/><ellipse cx="8.2" cy="-4.3" rx="3.1" ry="3" fill="#ff9a1c"/><ellipse cx="8.6" cy="-5.4" rx="2.3" ry="1.4" fill="#ff9a1c"/><ellipse cx="14.2" cy="12.2" rx="3.1" ry="2.1" fill="#ff9a1c"/><ellipse cx="7.4" cy="13.7" rx="1.8" ry="1.6" fill="#ff2a0a"/><ellipse cx="5" cy="-3.3" rx="2.7" ry="2.2" fill="#ff2a0a"/><ellipse cx="-15.4" cy="-0.3" rx="2.2" ry="2.4" fill="#ff2a0a"/><ellipse cx="13.7" cy="5.5" rx="1.5" ry="2" fill="#ff2a0a"/><ellipse cx="-0.2" cy="-7.2" rx="1.8" ry="2" fill="#1f9fb4"/><ellipse cx="11.3" cy="12.3" rx="1.1" ry="1.5" fill="#1f9fb4"/><ellipse cx="14.4" cy="-2.4" rx="1.6" ry="1" fill="#1f9fb4"/></g>
</g></g>
<g transform="translate(1280.8 1040.9) rotate(0)"><g clip-path="url(#k20)">
<rect x="-20.5" y="-16.5" width="41" height="33" fill="#70ee1e"/>
<g filter="url(#bl)"><ellipse cx="-10.5" cy="-1" rx="3.9" ry="3.3" fill="#c2f722"/><ellipse cx="11.7" cy="-5.2" rx="4.7" ry="4.6" fill="#c2f722"/><ellipse cx="-0.6" cy="-2.1" rx="4.2" ry="4.5" fill="#c2f722"/><ellipse cx="4.8" cy="-3.6" rx="5" ry="3.9" fill="#c2f722"/><ellipse cx="-0.1" cy="6.7" rx="2.7" ry="3.7" fill="#c2f722"/><ellipse cx="-14.6" cy="4.2" rx="4.4" ry="4.3" fill="#c2f722"/><ellipse cx="8.1" cy="-10.4" rx="3.3" ry="4.6" fill="#c2f722"/><ellipse cx="-1.9" cy="0.9" rx="3.5" ry="3.3" fill="#c2f722"/><ellipse cx="-7.3" cy="10.4" rx="3.3" ry="3.2" fill="#38de30"/><ellipse cx="-5.6" cy="-0.9" rx="3.4" ry="2.5" fill="#38de30"/><ellipse cx="-8.6" cy="7.3" rx="3.6" ry="2.4" fill="#38de30"/><ellipse cx="-7.6" cy="-8" rx="3.6" ry="2.7" fill="#38de30"/><ellipse cx="-5.7" cy="-11.1" rx="1.7" ry="2.4" fill="#ecf524"/><ellipse cx="1.5" cy="-0.8" rx="2.7" ry="2.4" fill="#ecf524"/><ellipse cx="4.7" cy="7.2" rx="3.3" ry="2.9" fill="#ecf524"/><ellipse cx="0.2" cy="-6.1" rx="2.7" ry="1.6" fill="#ecf524"/><ellipse cx="2" cy="6" rx="3.8" ry="3.2" fill="#ecf524"/><ellipse cx="-6.8" cy="-7.8" rx="2.4" ry="3.3" fill="#ecf524"/><ellipse cx="3.7" cy="1.3" rx="1.5" ry="2.2" fill="#ff9a1c"/><ellipse cx="-16.4" cy="0.5" rx="2.6" ry="1.8" fill="#ff9a1c"/><ellipse cx="2.7" cy="4.3" rx="2.1" ry="1.6" fill="#ff9a1c"/><ellipse cx="-13.5" cy="3.7" rx="1.8" ry="1.9" fill="#ff9a1c"/><ellipse cx="3" cy="-4" rx="2.3" ry="1.6" fill="#ff2a0a"/><ellipse cx="4.8" cy="-10.7" rx="1" ry="1.7" fill="#ff2a0a"/><ellipse cx="7" cy="-3.7" rx="1.5" ry="1.3" fill="#1f9fb4"/><ellipse cx="3.5" cy="5.7" rx="1.1" ry="1.2" fill="#1f9fb4"/></g>
</g></g>
<g transform="translate(970.2 1141.3) rotate(0)"><g clip-path="url(#k21)">
<rect x="-23" y="-22" width="46" height="44" fill="#70ee1e"/>
<g filter="url(#bl)"><ellipse cx="6.9" cy="5.5" rx="4" ry="5.6" fill="#c2f722"/><ellipse cx="0.8" cy="-8.1" rx="2.8" ry="4.1" fill="#c2f722"/><ellipse cx="-9.6" cy="10.3" rx="4.5" ry="4.8" fill="#c2f722"/><ellipse cx="-8.5" cy="-13.4" rx="2.5" ry="4.2" fill="#c2f722"/><ellipse cx="9.1" cy="7.7" rx="3.4" ry="5.4" fill="#c2f722"/><ellipse cx="-7.4" cy="0.9" rx="3.2" ry="4.2" fill="#c2f722"/><ellipse cx="9.8" cy="4.3" rx="4.8" ry="4.7" fill="#c2f722"/><ellipse cx="7.6" cy="3.5" rx="5.5" ry="4.5" fill="#c2f722"/><ellipse cx="16.2" cy="-3.7" rx="3.8" ry="3.8" fill="#c2f722"/><ellipse cx="0.5" cy="7" rx="4" ry="5.8" fill="#c2f722"/><ellipse cx="-1.7" cy="16.4" rx="4.2" ry="4.8" fill="#c2f722"/><ellipse cx="-10.8" cy="3.1" rx="2.6" ry="3" fill="#38de30"/><ellipse cx="14.5" cy="12.9" rx="2.3" ry="3.4" fill="#38de30"/><ellipse cx="-8.2" cy="-11.2" rx="2.6" ry="2.1" fill="#38de30"/><ellipse cx="-9.4" cy="-2.1" rx="3.5" ry="2.9" fill="#38de30"/><ellipse cx="11" cy="13.5" rx="4.3" ry="3.8" fill="#38de30"/><ellipse cx="-12.8" cy="13.3" rx="2.9" ry="2" fill="#38de30"/><ellipse cx="4.2" cy="-2.8" rx="1.9" ry="3.1" fill="#ecf524"/><ellipse cx="5" cy="5.8" rx="4.1" ry="3.4" fill="#ecf524"/><ellipse cx="-12.1" cy="8.1" rx="2.7" ry="2.8" fill="#ecf524"/><ellipse cx="-12.7" cy="1.8" rx="4.4" ry="3.5" fill="#ecf524"/><ellipse cx="-6.1" cy="-5.5" rx="4.2" ry="2.9" fill="#ecf524"/><ellipse cx="-8.2" cy="2.2" rx="3.3" ry="4.5" fill="#ecf524"/><ellipse cx="-8.1" cy="11.7" rx="2.1" ry="2.8" fill="#ecf524"/><ellipse cx="0.1" cy="-0.2" rx="2.7" ry="3.8" fill="#ecf524"/><ellipse cx="-15" cy="-5.8" rx="1.6" ry="2.3" fill="#ff9a1c"/><ellipse cx="8" cy="-1.9" rx="2.3" ry="1.9" fill="#ff9a1c"/><ellipse cx="4.5" cy="-3.7" rx="2.4" ry="1.6" fill="#ff9a1c"/><ellipse cx="-12" cy="3.5" rx="3.4" ry="2.9" fill="#ff9a1c"/><ellipse cx="10" cy="-2.7" rx="2.7" ry="3.5" fill="#ff9a1c"/><ellipse cx="6.2" cy="-3.5" rx="1.5" ry="2.1" fill="#ff9a1c"/><ellipse cx="18.4" cy="-3.7" rx="2.2" ry="1.8" fill="#ff2a0a"/><ellipse cx="5.8" cy="-14.7" rx="1.5" ry="2.3" fill="#ff2a0a"/><ellipse cx="-8.6" cy="-12.6" rx="2.7" ry="2.5" fill="#ff2a0a"/><ellipse cx="2.8" cy="7.1" rx="2.3" ry="2.8" fill="#ff2a0a"/><ellipse cx="-4" cy="-10.1" rx="1.5" ry="1.1" fill="#1f9fb4"/><ellipse cx="-3.5" cy="-6.8" rx="1.6" ry="1.9" fill="#1f9fb4"/><ellipse cx="-8.5" cy="-15.2" rx="1.3" ry="1" fill="#1f9fb4"/></g>
</g></g>
<g transform="translate(1077 1139.4) rotate(-15)"><g clip-path="url(#k22)">
<rect x="-25" y="-22" width="50" height="44" fill="#70ee1e"/>
<g filter="url(#bl)"><ellipse cx="-9" cy="-12.8" rx="2.7" ry="3.9" fill="#c2f722"/><ellipse cx="-0.4" cy="3.2" rx="3" ry="3.9" fill="#c2f722"/><ellipse cx="13.3" cy="6.1" rx="5" ry="6" fill="#c2f722"/><ellipse cx="-3.7" cy="-10.8" rx="3.2" ry="4" fill="#c2f722"/><ellipse cx="-3.6" cy="-6.1" rx="4.5" ry="4.4" fill="#c2f722"/><ellipse cx="8.1" cy="-11.8" rx="5.2" ry="4.6" fill="#c2f722"/><ellipse cx="5.7" cy="14.1" rx="4.3" ry="3" fill="#c2f722"/><ellipse cx="-14.7" cy="-9.4" rx="4.9" ry="5.8" fill="#c2f722"/><ellipse cx="14.4" cy="1.2" rx="3.9" ry="5.4" fill="#c2f722"/><ellipse cx="8.2" cy="0.2" rx="3.2" ry="5.4" fill="#c2f722"/><ellipse cx="-1.6" cy="14.4" rx="3.7" ry="6.1" fill="#c2f722"/><ellipse cx="19.9" cy="-7.5" rx="2.9" ry="2.1" fill="#38de30"/><ellipse cx="-6.1" cy="11.1" rx="2.4" ry="3.4" fill="#38de30"/><ellipse cx="7.7" cy="3.9" rx="2.8" ry="2.3" fill="#38de30"/><ellipse cx="-1.6" cy="16.9" rx="2.9" ry="3.9" fill="#38de30"/><ellipse cx="8" cy="17" rx="2.2" ry="3.6" fill="#38de30"/><ellipse cx="-4.8" cy="-11" rx="3.9" ry="2.7" fill="#38de30"/><ellipse cx="1.9" cy="-5" rx="3.8" ry="2.6" fill="#ecf524"/><ellipse cx="5.9" cy="-14.3" rx="3.2" ry="2" fill="#ecf524"/><ellipse cx="-6.8" cy="-2.5" rx="2.6" ry="3.1" fill="#ecf524"/><ellipse cx="-6.5" cy="-6.3" rx="3.2" ry="2.5" fill="#ecf524"/><ellipse cx="-0.6" cy="-3" rx="2.8" ry="4" fill="#ecf524"/><ellipse cx="-10.5" cy="-10.9" rx="3.7" ry="3.8" fill="#ecf524"/><ellipse cx="-6" cy="12.9" rx="2.1" ry="3.2" fill="#ecf524"/><ellipse cx="2.4" cy="-15.4" rx="4" ry="4" fill="#ecf524"/><ellipse cx="-4.5" cy="9.9" rx="3.2" ry="2" fill="#ff9a1c"/><ellipse cx="5.3" cy="2.9" rx="2.9" ry="1.9" fill="#ff9a1c"/><ellipse cx="10.4" cy="-8.8" rx="2.4" ry="1.5" fill="#ff9a1c"/><ellipse cx="-13" cy="-1.5" rx="3.1" ry="2.6" fill="#ff9a1c"/><ellipse cx="5.5" cy="3.7" rx="2.1" ry="2.7" fill="#ff9a1c"/><ellipse cx="-5.2" cy="-8" rx="2.6" ry="2" fill="#ff9a1c"/><ellipse cx="1.7" cy="-11.3" rx="2.8" ry="2.7" fill="#ff9a1c"/><ellipse cx="-7" cy="-5.6" rx="1.9" ry="2.2" fill="#ff2a0a"/><ellipse cx="21.2" cy="4.4" rx="1.8" ry="2.8" fill="#ff2a0a"/><ellipse cx="-9.7" cy="-7.8" rx="1.7" ry="1.5" fill="#ff2a0a"/><ellipse cx="-8.3" cy="3" rx="2.1" ry="1.4" fill="#ff2a0a"/><ellipse cx="12.4" cy="3.6" rx="1.3" ry="1.9" fill="#1f9fb4"/><ellipse cx="9.7" cy="4" rx="1.6" ry="1.7" fill="#1f9fb4"/><ellipse cx="9" cy="14.9" rx="1.2" ry="1.6" fill="#1f9fb4"/></g>
</g></g>
<g transform="translate(1178.5 1143.2) rotate(20)"><g clip-path="url(#k23)">
<rect x="-19.5" y="-18" width="39" height="36" fill="#70ee1e"/>
<g filter="url(#bl)"><ellipse cx="5" cy="12.4" rx="3.2" ry="3.4" fill="#c2f722"/><ellipse cx="0.1" cy="6.8" rx="4.2" ry="4.2" fill="#c2f722"/><ellipse cx="5.1" cy="-6.1" rx="3.2" ry="3.6" fill="#c2f722"/><ellipse cx="3.7" cy="8.1" rx="5.1" ry="4.8" fill="#c2f722"/><ellipse cx="12.9" cy="0.8" rx="4.6" ry="4.4" fill="#c2f722"/><ellipse cx="-6.4" cy="11" rx="3.6" ry="5" fill="#c2f722"/><ellipse cx="-6.2" cy="5.7" rx="2.6" ry="4" fill="#c2f722"/><ellipse cx="8" cy="-4.7" rx="4.6" ry="4.4" fill="#c2f722"/><ellipse cx="0.5" cy="12.9" rx="5" ry="5" fill="#c2f722"/><ellipse cx="0.5" cy="-13.5" rx="2.3" ry="2.7" fill="#38de30"/><ellipse cx="3.2" cy="-4.6" rx="3.2" ry="2.3" fill="#38de30"/><ellipse cx="-8.5" cy="11.4" rx="3.5" ry="3.6" fill="#38de30"/><ellipse cx="13.2" cy="-4.9" rx="2.9" ry="3.4" fill="#38de30"/><ellipse cx="7.5" cy="-7.3" rx="3.2" ry="2.3" fill="#ecf524"/><ellipse cx="2.8" cy="-12.3" rx="2" ry="2.8" fill="#ecf524"/><ellipse cx="6.9" cy="4.6" rx="2.3" ry="2.5" fill="#ecf524"/><ellipse cx="3.5" cy="1.5" rx="2.5" ry="3.6" fill="#ecf524"/><ellipse cx="-10.9" cy="7" rx="4" ry="2.9" fill="#ecf524"/><ellipse cx="8" cy="-5.7" rx="3.5" ry="3.9" fill="#ecf524"/><ellipse cx="7.9" cy="-7.3" rx="2.6" ry="2.2" fill="#ecf524"/><ellipse cx="-11.1" cy="-1.2" rx="2.4" ry="2.3" fill="#ff9a1c"/><ellipse cx="2.6" cy="8.6" rx="2.3" ry="2.3" fill="#ff9a1c"/><ellipse cx="10.6" cy="9.6" rx="1.6" ry="1.9" fill="#ff9a1c"/><ellipse cx="-2.1" cy="-9.4" rx="2" ry="1.6" fill="#ff9a1c"/><ellipse cx="2.4" cy="-8.6" rx="2.2" ry="1.9" fill="#ff9a1c"/><ellipse cx="2.9" cy="13.2" rx="2.4" ry="3.2" fill="#ff9a1c"/><ellipse cx="-4" cy="-14.1" rx="1.2" ry="1.7" fill="#ff2a0a"/><ellipse cx="-0.9" cy="-7.6" rx="2.1" ry="1.7" fill="#ff2a0a"/><ellipse cx="10.1" cy="11.5" rx="2.6" ry="2.1" fill="#ff2a0a"/><ellipse cx="6.4" cy="13.1" rx="1.5" ry="1.4" fill="#1f9fb4"/><ellipse cx="-10.3" cy="11.1" rx="1.3" ry="0.8" fill="#1f9fb4"/></g>
</g></g>
<g transform="translate(1280.8 1139.4) rotate(0)"><g clip-path="url(#k24)">
<rect x="-19" y="-18.5" width="38" height="37" fill="#70ee1e"/>
<g filter="url(#bl)"><ellipse cx="-4.3" cy="0.8" rx="3.2" ry="2.4" fill="#c2f722"/><ellipse cx="-0.1" cy="-6.8" rx="3.1" ry="3.8" fill="#c2f722"/><ellipse cx="-10.9" cy="-8" rx="3.7" ry="3.1" fill="#c2f722"/><ellipse cx="-0.1" cy="-11.8" rx="4.9" ry="3.5" fill="#c2f722"/><ellipse cx="2.9" cy="-1.5" rx="4.2" ry="5.4" fill="#c2f722"/><ellipse cx="11.6" cy="5.3" rx="3.2" ry="4.8" fill="#c2f722"/><ellipse cx="-9.3" cy="-10.7" rx="3.6" ry="4" fill="#c2f722"/><ellipse cx="1.8" cy="5.3" rx="3.5" ry="4.2" fill="#c2f722"/><ellipse cx="3.5" cy="5.5" rx="2.3" ry="3.4" fill="#c2f722"/><ellipse cx="-6.9" cy="-0.2" rx="3.1" ry="2.4" fill="#38de30"/><ellipse cx="-15.5" cy="1.3" rx="3.1" ry="2.1" fill="#38de30"/><ellipse cx="4" cy="5" rx="2.5" ry="2.2" fill="#38de30"/><ellipse cx="-7.8" cy="5.3" rx="3" ry="2.2" fill="#38de30"/><ellipse cx="-4.9" cy="3.8" rx="3.1" ry="3.7" fill="#38de30"/><ellipse cx="7.2" cy="-9.7" rx="3.1" ry="2.6" fill="#ecf524"/><ellipse cx="-7.7" cy="5.3" rx="3" ry="2.4" fill="#ecf524"/><ellipse cx="-1.3" cy="-13.5" rx="2.7" ry="2" fill="#ecf524"/><ellipse cx="2.8" cy="-10.4" rx="3.6" ry="2.6" fill="#ecf524"/><ellipse cx="-8.7" cy="-2.7" rx="2.8" ry="1.8" fill="#ecf524"/><ellipse cx="0.7" cy="-2.2" rx="2.4" ry="3" fill="#ecf524"/><ellipse cx="-8.9" cy="10" rx="3" ry="2.5" fill="#ecf524"/><ellipse cx="-6.9" cy="-8" rx="2.3" ry="1.8" fill="#ff9a1c"/><ellipse cx="1.8" cy="-7.8" rx="1.8" ry="2.4" fill="#ff9a1c"/><ellipse cx="9.7" cy="-5.7" rx="2.3" ry="1.7" fill="#ff9a1c"/><ellipse cx="6.8" cy="10.4" rx="1.3" ry="1.9" fill="#ff9a1c"/><ellipse cx="2.2" cy="-5.9" rx="1.4" ry="2.2" fill="#ff9a1c"/><ellipse cx="-1.4" cy="-12.5" rx="3.1" ry="3" fill="#ff9a1c"/><ellipse cx="5.8" cy="-3" rx="2" ry="2.5" fill="#ff2a0a"/><ellipse cx="-0.2" cy="-14.5" rx="1.9" ry="1.2" fill="#ff2a0a"/><ellipse cx="0.3" cy="-12.3" rx="1.6" ry="2.6" fill="#ff2a0a"/><ellipse cx="3.8" cy="3.6" rx="1.4" ry="1.7" fill="#1f9fb4"/><ellipse cx="4.2" cy="6.7" rx="1.6" ry="1.4" fill="#1f9fb4"/></g>
</g></g>
<g transform="translate(970.2 1246.6) rotate(0)"><g clip-path="url(#k25)">
<rect x="-23" y="-22" width="46" height="44" fill="#70ee1e"/>
<g filter="url(#bl)"><ellipse cx="-14.6" cy="-2.7" rx="3.6" ry="2.8" fill="#c2f722"/><ellipse cx="-10.8" cy="-5.3" rx="4.9" ry="5.8" fill="#c2f722"/><ellipse cx="-13.9" cy="10.1" rx="5.8" ry="5.6" fill="#c2f722"/><ellipse cx="4.7" cy="5.6" rx="4" ry="4.6" fill="#c2f722"/><ellipse cx="5.1" cy="-14.4" rx="4.9" ry="2.9" fill="#c2f722"/><ellipse cx="-12.6" cy="7.2" rx="4.5" ry="5" fill="#c2f722"/><ellipse cx="17" cy="-4.2" rx="5" ry="6" fill="#c2f722"/><ellipse cx="-6.7" cy="6.2" rx="5.9" ry="5.4" fill="#c2f722"/><ellipse cx="7.8" cy="-15.3" rx="5.3" ry="3.9" fill="#c2f722"/><ellipse cx="-1.1" cy="13.3" rx="3.7" ry="4" fill="#c2f722"/><ellipse cx="-2.7" cy="16.2" rx="3.8" ry="3.7" fill="#c2f722"/><ellipse cx="10.3" cy="13.4" rx="3.6" ry="3.5" fill="#38de30"/><ellipse cx="-17.3" cy="8.1" rx="2.5" ry="2.7" fill="#38de30"/><ellipse cx="-1.1" cy="6.3" rx="4.1" ry="3.2" fill="#38de30"/><ellipse cx="-0.7" cy="16.2" rx="2.4" ry="3.7" fill="#38de30"/><ellipse cx="-1.6" cy="-8.7" rx="2.7" ry="3.8" fill="#38de30"/><ellipse cx="17" cy="-8.9" rx="4.4" ry="3.4" fill="#38de30"/><ellipse cx="5.6" cy="-13.9" rx="3.4" ry="3.6" fill="#ecf524"/><ellipse cx="11.8" cy="-3.6" rx="2.7" ry="3" fill="#ecf524"/><ellipse cx="-1.8" cy="-3.6" rx="4.5" ry="3.7" fill="#ecf524"/><ellipse cx="9.8" cy="10" rx="3.4" ry="2.4" fill="#ecf524"/><ellipse cx="12.2" cy="2.5" rx="2.9" ry="2.7" fill="#ecf524"/><ellipse cx="12" cy="2.5" rx="3.6" ry="3.2" fill="#ecf524"/><ellipse cx="-9.6" cy="13.8" rx="3.1" ry="2" fill="#ecf524"/><ellipse cx="5.7" cy="5.1" rx="2.7" ry="3.6" fill="#ecf524"/><ellipse cx="12.1" cy="-5.4" rx="3.2" ry="2.3" fill="#ff9a1c"/><ellipse cx="3.3" cy="16.9" rx="3" ry="3" fill="#ff9a1c"/><ellipse cx="-9.6" cy="-9.8" rx="2.6" ry="3.3" fill="#ff9a1c"/><ellipse cx="14.7" cy="-8.4" rx="2.8" ry="3.1" fill="#ff9a1c"/><ellipse cx="-16.9" cy="3.8" rx="3.4" ry="3.5" fill="#ff9a1c"/><ellipse cx="-5.8" cy="-12.5" rx="1.8" ry="2.7" fill="#ff9a1c"/><ellipse cx="-13.4" cy="2.4" rx="2.5" ry="1.9" fill="#ff9a1c"/><ellipse cx="1.2" cy="-15" rx="1.7" ry="1.8" fill="#ff2a0a"/><ellipse cx="19.2" cy="-4.7" rx="1.8" ry="1.5" fill="#ff2a0a"/><ellipse cx="-11.5" cy="9.6" rx="1.2" ry="2" fill="#ff2a0a"/><ellipse cx="8.4" cy="7.9" rx="2.4" ry="2" fill="#ff2a0a"/><ellipse cx="-5.1" cy="-11.3" rx="2.1" ry="1.8" fill="#1f9fb4"/><ellipse cx="10.9" cy="-12.1" rx="1.3" ry="1.6" fill="#1f9fb4"/><ellipse cx="11" cy="-2" rx="1.3" ry="2.1" fill="#1f9fb4"/></g>
</g></g>
<g transform="translate(1074.3 1240.9) rotate(0)"><g clip-path="url(#k26)">
<rect x="-26" y="-24" width="52" height="48" fill="#70ee1e"/>
<g filter="url(#bl)"><ellipse cx="-6" cy="13.1" rx="3.8" ry="2.9" fill="#c2f722"/><ellipse cx="-15.9" cy="-9.1" rx="2.6" ry="3.8" fill="#c2f722"/><ellipse cx="3.3" cy="-5.2" rx="6.3" ry="4.4" fill="#c2f722"/><ellipse cx="-11.7" cy="-1" rx="6.4" ry="4.9" fill="#c2f722"/><ellipse cx="17.2" cy="7.1" rx="6.4" ry="4.1" fill="#c2f722"/><ellipse cx="-1" cy="7.2" rx="4.7" ry="4.1" fill="#c2f722"/><ellipse cx="20.6" cy="-0.7" rx="4.7" ry="5.4" fill="#c2f722"/><ellipse cx="-2.3" cy="-13.9" rx="4.5" ry="4.7" fill="#c2f722"/><ellipse cx="5.2" cy="5.8" rx="4.1" ry="3.5" fill="#c2f722"/><ellipse cx="7.9" cy="11.3" rx="4.4" ry="5.3" fill="#c2f722"/><ellipse cx="-2.5" cy="-0.6" rx="3" ry="3.9" fill="#c2f722"/><ellipse cx="0.4" cy="-9.3" rx="4.2" ry="6" fill="#c2f722"/><ellipse cx="-14.2" cy="1.8" rx="3" ry="3.3" fill="#38de30"/><ellipse cx="-10.1" cy="-16.8" rx="3.6" ry="2.9" fill="#38de30"/><ellipse cx="-7.8" cy="-5.4" rx="1.8" ry="2.9" fill="#38de30"/><ellipse cx="15.7" cy="9" rx="3.5" ry="2.5" fill="#38de30"/><ellipse cx="10.5" cy="-4" rx="2.2" ry="3" fill="#38de30"/><ellipse cx="16.3" cy="-9.5" rx="2.3" ry="3.5" fill="#38de30"/><ellipse cx="13.7" cy="12.1" rx="4.1" ry="2.7" fill="#ecf524"/><ellipse cx="13.8" cy="4.8" rx="3.5" ry="2.3" fill="#ecf524"/><ellipse cx="-3.1" cy="-13.2" rx="2.8" ry="3.2" fill="#ecf524"/><ellipse cx="-3.3" cy="-4.8" rx="2.8" ry="4.6" fill="#ecf524"/><ellipse cx="-7.4" cy="5" rx="3.1" ry="2.7" fill="#ecf524"/><ellipse cx="-5.4" cy="8.4" rx="2.9" ry="4.1" fill="#ecf524"/><ellipse cx="-5.1" cy="-11.5" rx="3.2" ry="2" fill="#ecf524"/><ellipse cx="19.8" cy="-1.1" rx="2.5" ry="3.1" fill="#ecf524"/><ellipse cx="5.8" cy="14.5" rx="3.5" ry="3.8" fill="#ecf524"/><ellipse cx="18.1" cy="-7.3" rx="1.9" ry="2.9" fill="#ff9a1c"/><ellipse cx="12.8" cy="12" rx="3.3" ry="2.7" fill="#ff9a1c"/><ellipse cx="17.9" cy="4.8" rx="2.2" ry="3.4" fill="#ff9a1c"/><ellipse cx="16" cy="5.1" rx="3.3" ry="2.5" fill="#ff9a1c"/><ellipse cx="-12.5" cy="12.6" rx="2.6" ry="2.6" fill="#ff9a1c"/><ellipse cx="7.9" cy="0.2" rx="3.3" ry="3.1" fill="#ff9a1c"/><ellipse cx="11.5" cy="15.5" rx="2.1" ry="3.3" fill="#ff9a1c"/><ellipse cx="-2.3" cy="-3.8" rx="2.3" ry="1.7" fill="#ff9a1c"/><ellipse cx="14.2" cy="-0.3" rx="2.9" ry="2.7" fill="#ff2a0a"/><ellipse cx="-19.3" cy="-10.9" rx="2.6" ry="2.5" fill="#ff2a0a"/><ellipse cx="5.7" cy="14.9" rx="1.7" ry="2.4" fill="#ff2a0a"/><ellipse cx="-18.1" cy="-1.1" rx="2" ry="1.4" fill="#ff2a0a"/><ellipse cx="-15.8" cy="-0.4" rx="2.6" ry="1.8" fill="#ff2a0a"/><ellipse cx="-3.3" cy="18.4" rx="2.7" ry="2.4" fill="#ff2a0a"/><ellipse cx="0.1" cy="20.3" rx="1.3" ry="1.8" fill="#1f9fb4"/><ellipse cx="-16.1" cy="10.4" rx="2.1" ry="1.6" fill="#1f9fb4"/><ellipse cx="3.8" cy="14.5" rx="1.2" ry="1.7" fill="#1f9fb4"/></g>
</g></g>
<g transform="translate(1176.6 1244.7) rotate(0)"><g clip-path="url(#k27)">
<rect x="-25" y="-25.5" width="50" height="51" fill="#70ee1e"/>
<g filter="url(#bl)"><ellipse cx="-9.4" cy="-17.5" rx="4.2" ry="6.1" fill="#c2f722"/><ellipse cx="13.7" cy="11.4" rx="4.7" ry="5.9" fill="#c2f722"/><ellipse cx="-1.7" cy="14" rx="5.8" ry="5.6" fill="#c2f722"/><ellipse cx="8.8" cy="-9.9" rx="5" ry="3.6" fill="#c2f722"/><ellipse cx="3.2" cy="7.3" rx="4.6" ry="4.5" fill="#c2f722"/><ellipse cx="-9" cy="16.3" rx="4.9" ry="6.3" fill="#c2f722"/><ellipse cx="1.7" cy="-12.3" rx="4" ry="4.2" fill="#c2f722"/><ellipse cx="-12.2" cy="9.4" rx="2.8" ry="4.5" fill="#c2f722"/><ellipse cx="-1.5" cy="1.5" rx="4.4" ry="4.9" fill="#c2f722"/><ellipse cx="-6.7" cy="-14.5" rx="4.4" ry="2.6" fill="#c2f722"/><ellipse cx="-8.2" cy="-7" rx="4.4" ry="4.1" fill="#c2f722"/><ellipse cx="1.6" cy="15.4" rx="4" ry="5.4" fill="#c2f722"/><ellipse cx="-7.2" cy="14.5" rx="4.4" ry="5.5" fill="#c2f722"/><ellipse cx="2.8" cy="12.2" rx="3.6" ry="2.7" fill="#38de30"/><ellipse cx="16.3" cy="14.9" rx="3.1" ry="3.2" fill="#38de30"/><ellipse cx="-11.5" cy="-7.2" rx="2.9" ry="2.6" fill="#38de30"/><ellipse cx="-2.3" cy="19.7" rx="3.7" ry="3.7" fill="#38de30"/><ellipse cx="-7.7" cy="7.3" rx="4" ry="3.6" fill="#38de30"/><ellipse cx="-13.1" cy="-4.2" rx="2.8" ry="4.3" fill="#38de30"/><ellipse cx="0.2" cy="-13.4" rx="3.1" ry="4.9" fill="#ecf524"/><ellipse cx="0.2" cy="0.9" rx="2" ry="3.1" fill="#ecf524"/><ellipse cx="-12.9" cy="5.9" rx="3.5" ry="3.1" fill="#ecf524"/><ellipse cx="8.1" cy="-1" rx="3.1" ry="3.9" fill="#ecf524"/><ellipse cx="5.8" cy="-7.1" rx="3.4" ry="4.6" fill="#ecf524"/><ellipse cx="-11.2" cy="-10" rx="3.5" ry="2.2" fill="#ecf524"/><ellipse cx="-4.6" cy="5" rx="3.4" ry="4.2" fill="#ecf524"/><ellipse cx="-8.6" cy="16.4" rx="3.6" ry="2.8" fill="#ecf524"/><ellipse cx="-8.1" cy="9.8" rx="3.3" ry="2.8" fill="#ecf524"/><ellipse cx="-11.9" cy="4.3" rx="3.1" ry="3.4" fill="#ecf524"/><ellipse cx="6.5" cy="-11.8" rx="2.1" ry="3.4" fill="#ff9a1c"/><ellipse cx="16.9" cy="-4.4" rx="2.7" ry="3.3" fill="#ff9a1c"/><ellipse cx="3.1" cy="9.3" rx="2.9" ry="3.3" fill="#ff9a1c"/><ellipse cx="-5.4" cy="-7" rx="3.2" ry="2.2" fill="#ff9a1c"/><ellipse cx="-6.2" cy="14.9" rx="2.5" ry="2" fill="#ff9a1c"/><ellipse cx="8.1" cy="9.3" rx="3.3" ry="2.7" fill="#ff9a1c"/><ellipse cx="3.2" cy="-17.3" rx="2" ry="1.6" fill="#ff2a0a"/><ellipse cx="-17.7" cy="-8.1" rx="2.2" ry="1.8" fill="#ff2a0a"/><ellipse cx="8" cy="-16.7" rx="1.6" ry="1.9" fill="#ff2a0a"/><ellipse cx="19.9" cy="-9" rx="2.8" ry="1.9" fill="#ff2a0a"/><ellipse cx="8.9" cy="18.5" rx="2.5" ry="1.5" fill="#ff2a0a"/><ellipse cx="-18.8" cy="7.6" rx="2" ry="1.6" fill="#1f9fb4"/><ellipse cx="6.1" cy="20.5" rx="1" ry="1.7" fill="#1f9fb4"/><ellipse cx="7.9" cy="3.6" rx="1.3" ry="1.9" fill="#1f9fb4"/></g>
</g></g>
<g transform="translate(1290.2 1249.2) rotate(0)"><g clip-path="url(#k28)">
<rect x="-24" y="-25.5" width="48" height="51" fill="#70ee1e"/>
<g filter="url(#bl)"><ellipse cx="-14" cy="-5.1" rx="6.1" ry="4" fill="#c2f722"/><ellipse cx="-16.3" cy="4" rx="5" ry="3.4" fill="#c2f722"/><ellipse cx="-3.2" cy="17.1" rx="6" ry="4.2" fill="#c2f722"/><ellipse cx="-7.1" cy="5.8" rx="4.3" ry="4.3" fill="#c2f722"/><ellipse cx="-13.4" cy="-0.9" rx="3.8" ry="3.4" fill="#c2f722"/><ellipse cx="8" cy="-8.5" rx="4.3" ry="3.2" fill="#c2f722"/><ellipse cx="-6.6" cy="-10.8" rx="5.2" ry="3.4" fill="#c2f722"/><ellipse cx="-13.2" cy="2.5" rx="5.9" ry="4" fill="#c2f722"/><ellipse cx="-10.3" cy="14.5" rx="4" ry="2.8" fill="#c2f722"/><ellipse cx="-11.5" cy="1.4" rx="3.7" ry="5.3" fill="#c2f722"/><ellipse cx="16.9" cy="0.2" rx="4.4" ry="4.1" fill="#c2f722"/><ellipse cx="-12" cy="-9.5" rx="3.7" ry="4.1" fill="#c2f722"/><ellipse cx="12.1" cy="-15.2" rx="3.7" ry="4" fill="#38de30"/><ellipse cx="-9.5" cy="-19.5" rx="2" ry="3.1" fill="#38de30"/><ellipse cx="-8.1" cy="-0.5" rx="3" ry="3.1" fill="#38de30"/><ellipse cx="5.3" cy="7.7" rx="2.6" ry="3.8" fill="#38de30"/><ellipse cx="-13.5" cy="-3.5" rx="3.4" ry="3.7" fill="#38de30"/><ellipse cx="8.5" cy="-4.3" rx="2.8" ry="2.5" fill="#38de30"/><ellipse cx="-8.6" cy="-2.2" rx="4.4" ry="3.1" fill="#ecf524"/><ellipse cx="1.9" cy="15.2" rx="3.1" ry="4.1" fill="#ecf524"/><ellipse cx="13.9" cy="6.5" rx="4.2" ry="2.8" fill="#ecf524"/><ellipse cx="-0.6" cy="-6.4" rx="4.2" ry="4.5" fill="#ecf524"/><ellipse cx="0.1" cy="5.9" rx="2.1" ry="3.4" fill="#ecf524"/><ellipse cx="0" cy="11.1" rx="3.8" ry="2.8" fill="#ecf524"/><ellipse cx="-1.1" cy="-6.7" rx="2" ry="3.3" fill="#ecf524"/><ellipse cx="12.3" cy="10.6" rx="4.3" ry="4.4" fill="#ecf524"/><ellipse cx="16" cy="4" rx="3.6" ry="3.7" fill="#ecf524"/><ellipse cx="-2.6" cy="6.7" rx="2.9" ry="3.7" fill="#ff9a1c"/><ellipse cx="-16.2" cy="7.3" rx="2.8" ry="3.5" fill="#ff9a1c"/><ellipse cx="-15.7" cy="11.2" rx="2.8" ry="2.5" fill="#ff9a1c"/><ellipse cx="-14.9" cy="4" rx="2.6" ry="2.1" fill="#ff9a1c"/><ellipse cx="11" cy="6.5" rx="3.5" ry="3.6" fill="#ff9a1c"/><ellipse cx="-11.2" cy="-12.3" rx="2.8" ry="3.5" fill="#ff9a1c"/><ellipse cx="-5.3" cy="17.3" rx="3.3" ry="2.3" fill="#ff9a1c"/><ellipse cx="-9.1" cy="-14.6" rx="1.7" ry="2.2" fill="#ff9a1c"/><ellipse cx="-10.8" cy="-8.1" rx="1.6" ry="1.9" fill="#ff2a0a"/><ellipse cx="3.2" cy="-13.2" rx="2.3" ry="2.4" fill="#ff2a0a"/><ellipse cx="-1" cy="-8.7" rx="3" ry="1.8" fill="#ff2a0a"/><ellipse cx="-7.2" cy="8.3" rx="1.8" ry="2.2" fill="#ff2a0a"/><ellipse cx="11.4" cy="11.8" rx="2.1" ry="2.1" fill="#ff2a0a"/><ellipse cx="-10.5" cy="4.9" rx="3" ry="2.2" fill="#ff2a0a"/><ellipse cx="7" cy="-13.1" rx="1.4" ry="2" fill="#1f9fb4"/><ellipse cx="14.3" cy="4.2" rx="1.4" ry="2.1" fill="#1f9fb4"/><ellipse cx="1" cy="-13.1" rx="1.2" ry="1.5" fill="#1f9fb4"/></g>
</g></g>
<g transform="translate(967.1 1351.5) rotate(20)"><g clip-path="url(#k29)">
<rect x="-23" y="-22" width="46" height="44" fill="#70ee1e"/>
<g filter="url(#bl)"><ellipse cx="-0.5" cy="-2.3" rx="2.9" ry="4.5" fill="#c2f722"/><ellipse cx="7" cy="0.7" rx="2.6" ry="4.1" fill="#c2f722"/><ellipse cx="4.4" cy="11.6" rx="3.6" ry="3.9" fill="#c2f722"/><ellipse cx="-0.1" cy="8.4" rx="5.7" ry="3.5" fill="#c2f722"/><ellipse cx="14.3" cy="9.6" rx="4.6" ry="3.9" fill="#c2f722"/><ellipse cx="3.7" cy="2.6" rx="5.4" ry="4.5" fill="#c2f722"/><ellipse cx="-2.2" cy="11.9" rx="3.1" ry="4" fill="#c2f722"/><ellipse cx="-8.5" cy="-4.8" rx="3.7" ry="4.3" fill="#c2f722"/><ellipse cx="4" cy="-11.4" rx="4.2" ry="2.7" fill="#c2f722"/><ellipse cx="-15.3" cy="-0.4" rx="4.5" ry="3.5" fill="#c2f722"/><ellipse cx="-2.7" cy="16.7" rx="5.9" ry="5.8" fill="#c2f722"/><ellipse cx="-0.8" cy="17.1" rx="3.7" ry="2.5" fill="#38de30"/><ellipse cx="-10.8" cy="-13.7" rx="3.6" ry="2.3" fill="#38de30"/><ellipse cx="4.6" cy="8.6" rx="2.5" ry="3.7" fill="#38de30"/><ellipse cx="-1.4" cy="-5.7" rx="2.4" ry="3.8" fill="#38de30"/><ellipse cx="-9.8" cy="-12.7" rx="2.7" ry="1.8" fill="#38de30"/><ellipse cx="-10.1" cy="7.8" rx="3.3" ry="2.9" fill="#38de30"/><ellipse cx="-6.7" cy="-8.8" rx="3" ry="3.8" fill="#ecf524"/><ellipse cx="16.8" cy="-5.3" rx="4.1" ry="4.1" fill="#ecf524"/><ellipse cx="4.7" cy="-7.1" rx="4.1" ry="3.6" fill="#ecf524"/><ellipse cx="8.4" cy="-13.9" rx="3" ry="3.2" fill="#ecf524"/><ellipse cx="-4.2" cy="9.6" rx="4.2" ry="3.9" fill="#ecf524"/><ellipse cx="-3.6" cy="-6.2" rx="2.5" ry="3" fill="#ecf524"/><ellipse cx="-3" cy="4.7" rx="2.7" ry="3" fill="#ecf524"/><ellipse cx="6" cy="-8" rx="3.1" ry="4.3" fill="#ecf524"/><ellipse cx="-3.5" cy="2.6" rx="2.1" ry="2.7" fill="#ff9a1c"/><ellipse cx="7.8" cy="-8.8" rx="2.1" ry="2.1" fill="#ff9a1c"/><ellipse cx="-0.1" cy="4.7" rx="2.2" ry="2" fill="#ff9a1c"/><ellipse cx="-10" cy="-0.2" rx="2.5" ry="2.5" fill="#ff9a1c"/><ellipse cx="17.9" cy="-1.1" rx="2.1" ry="2.3" fill="#ff9a1c"/><ellipse cx="-4.2" cy="-15.8" rx="3.1" ry="2.6" fill="#ff9a1c"/><ellipse cx="8" cy="11.1" rx="1.9" ry="2.5" fill="#ff9a1c"/><ellipse cx="-4.1" cy="-14.4" rx="2.6" ry="2.2" fill="#ff2a0a"/><ellipse cx="16.1" cy="-8.2" rx="2.4" ry="1.7" fill="#ff2a0a"/><ellipse cx="-5.9" cy="5.9" rx="2" ry="1.8" fill="#ff2a0a"/><ellipse cx="-10.1" cy="-12.5" rx="2.6" ry="2.8" fill="#ff2a0a"/><ellipse cx="-17.2" cy="4" rx="2" ry="1.3" fill="#ff2a0a"/><ellipse cx="4.1" cy="-10" rx="2.4" ry="2.5" fill="#ff2a0a"/><ellipse cx="9.7" cy="10.5" rx="1.6" ry="1.5" fill="#1f9fb4"/><ellipse cx="-17" cy="5.7" rx="1.8" ry="1.2" fill="#1f9fb4"/><ellipse cx="3.6" cy="6.7" rx="1" ry="1.7" fill="#1f9fb4"/></g>
</g></g>
<g transform="translate(1074.3 1347.7) rotate(0)"><g clip-path="url(#k30)">
<rect x="-27.5" y="-24" width="55" height="48" fill="#70ee1e"/>
<g filter="url(#bl)"><ellipse cx="3.8" cy="10.5" rx="2.4" ry="3.8" fill="#c2f722"/><ellipse cx="-17.8" cy="8.1" rx="5.6" ry="5.6" fill="#c2f722"/><ellipse cx="-14.4" cy="-7.4" rx="2.8" ry="3.8" fill="#c2f722"/><ellipse cx="-4.1" cy="-3.3" rx="3.9" ry="5.2" fill="#c2f722"/><ellipse cx="-5.8" cy="3.4" rx="5.7" ry="5.3" fill="#c2f722"/><ellipse cx="12.7" cy="9.7" rx="6.1" ry="6.1" fill="#c2f722"/><ellipse cx="19.8" cy="5" rx="5.6" ry="3.9" fill="#c2f722"/><ellipse cx="9.6" cy="-15.9" rx="3.7" ry="4.4" fill="#c2f722"/><ellipse cx="-5.5" cy="15.8" rx="5.4" ry="4" fill="#c2f722"/><ellipse cx="14.9" cy="-6.2" rx="6.2" ry="5.1" fill="#c2f722"/><ellipse cx="14.7" cy="2.3" rx="5.2" ry="4.7" fill="#c2f722"/><ellipse cx="-10.9" cy="-9.1" rx="5.5" ry="4.4" fill="#c2f722"/><ellipse cx="2.7" cy="-0.8" rx="3.2" ry="3.3" fill="#38de30"/><ellipse cx="1.1" cy="-3.6" rx="3.6" ry="3.9" fill="#38de30"/><ellipse cx="-8.6" cy="6.8" rx="4" ry="3.3" fill="#38de30"/><ellipse cx="-8.6" cy="14.3" rx="4.5" ry="4.1" fill="#38de30"/><ellipse cx="0.3" cy="15.1" rx="3.4" ry="2.5" fill="#38de30"/><ellipse cx="8.3" cy="14" rx="4.1" ry="4.2" fill="#38de30"/><ellipse cx="-2" cy="13.2" rx="4.6" ry="3.1" fill="#ecf524"/><ellipse cx="-13" cy="8.4" rx="2.9" ry="4.6" fill="#ecf524"/><ellipse cx="4.5" cy="5.7" rx="3.5" ry="3" fill="#ecf524"/><ellipse cx="14.2" cy="11.7" rx="3.8" ry="2.5" fill="#ecf524"/><ellipse cx="4.4" cy="-7.9" rx="4.3" ry="4.6" fill="#ecf524"/><ellipse cx="20.5" cy="0.1" rx="4.4" ry="2.8" fill="#ecf524"/><ellipse cx="2.5" cy="-14.9" rx="4.4" ry="4.4" fill="#ecf524"/><ellipse cx="10.6" cy="-15.7" rx="3.5" ry="3" fill="#ecf524"/><ellipse cx="9.7" cy="-11.6" rx="3.4" ry="2.4" fill="#ecf524"/><ellipse cx="14.3" cy="14" rx="3.6" ry="2.5" fill="#ff9a1c"/><ellipse cx="-4.3" cy="-7.1" rx="3.1" ry="3.4" fill="#ff9a1c"/><ellipse cx="10.6" cy="6.5" rx="3.4" ry="2.7" fill="#ff9a1c"/><ellipse cx="4.8" cy="6.4" rx="2.6" ry="2.7" fill="#ff9a1c"/><ellipse cx="18.2" cy="7.8" rx="2" ry="2.4" fill="#ff9a1c"/><ellipse cx="0.4" cy="16.4" rx="2.7" ry="3.5" fill="#ff9a1c"/><ellipse cx="13.9" cy="2.4" rx="2.6" ry="2.4" fill="#ff9a1c"/><ellipse cx="3.7" cy="-14.5" rx="2.1" ry="3.3" fill="#ff9a1c"/><ellipse cx="-3.8" cy="11.9" rx="1.9" ry="2.7" fill="#ff2a0a"/><ellipse cx="-4.6" cy="19.3" rx="2" ry="2.6" fill="#ff2a0a"/><ellipse cx="21" cy="-9.7" rx="2.3" ry="1.9" fill="#ff2a0a"/><ellipse cx="-0.6" cy="12" rx="1.8" ry="1.5" fill="#ff2a0a"/><ellipse cx="9.4" cy="12.2" rx="2.4" ry="3" fill="#ff2a0a"/><ellipse cx="12.4" cy="-16.9" rx="1.7" ry="1.1" fill="#1f9fb4"/><ellipse cx="-1.4" cy="-20.2" rx="1.9" ry="1.4" fill="#1f9fb4"/><ellipse cx="-4.1" cy="14.4" rx="1.8" ry="1.7" fill="#1f9fb4"/></g>
</g></g>
<g transform="translate(1177.7 1349.6) rotate(0)"><g clip-path="url(#k31)">
<rect x="-26" y="-28.5" width="52" height="57" fill="#70ee1e"/>
<g filter="url(#bl)"><ellipse cx="0.2" cy="-15.7" rx="5.1" ry="3.5" fill="#c2f722"/><ellipse cx="-0.7" cy="-6.8" rx="4.6" ry="6.7" fill="#c2f722"/><ellipse cx="-13.5" cy="8.9" rx="6.5" ry="6.3" fill="#c2f722"/><ellipse cx="-4.5" cy="5.6" rx="4.1" ry="3.3" fill="#c2f722"/><ellipse cx="-19.4" cy="7.4" rx="3.8" ry="5.1" fill="#c2f722"/><ellipse cx="9.5" cy="19.6" rx="4.6" ry="5.6" fill="#c2f722"/><ellipse cx="0" cy="12.9" rx="5.3" ry="4.1" fill="#c2f722"/><ellipse cx="-8.7" cy="-4" rx="2.7" ry="4.1" fill="#c2f722"/><ellipse cx="4" cy="-21.2" rx="4.2" ry="4.6" fill="#c2f722"/><ellipse cx="-14.7" cy="-3.9" rx="4" ry="2.5" fill="#c2f722"/><ellipse cx="-4.8" cy="-13.1" rx="6.1" ry="6.5" fill="#c2f722"/><ellipse cx="14.1" cy="7" rx="4" ry="5.8" fill="#c2f722"/><ellipse cx="-3.8" cy="0.3" rx="5.1" ry="6" fill="#c2f722"/><ellipse cx="-9.4" cy="3.7" rx="4.4" ry="3" fill="#c2f722"/><ellipse cx="-18.6" cy="6.2" rx="3.5" ry="3.3" fill="#38de30"/><ellipse cx="-8.2" cy="-13.2" rx="3.9" ry="2.7" fill="#38de30"/><ellipse cx="-7.9" cy="-16.4" rx="2.6" ry="4.1" fill="#38de30"/><ellipse cx="2.6" cy="23.2" rx="2.9" ry="2.2" fill="#38de30"/><ellipse cx="4" cy="-21.2" rx="3.4" ry="2.4" fill="#38de30"/><ellipse cx="-5.9" cy="20.7" rx="3.5" ry="3.2" fill="#38de30"/><ellipse cx="9.1" cy="-23.2" rx="3.6" ry="3.6" fill="#38de30"/><ellipse cx="2.6" cy="-2.8" rx="4.1" ry="3.1" fill="#ecf524"/><ellipse cx="-3.8" cy="9.6" rx="4.6" ry="3.7" fill="#ecf524"/><ellipse cx="-4" cy="0.3" rx="3.1" ry="4.5" fill="#ecf524"/><ellipse cx="10.5" cy="0" rx="4.3" ry="3.9" fill="#ecf524"/><ellipse cx="-16.6" cy="6.9" rx="4.3" ry="3" fill="#ecf524"/><ellipse cx="-14.4" cy="-11.3" rx="2.5" ry="3.4" fill="#ecf524"/><ellipse cx="10.1" cy="7.7" rx="3.7" ry="4.5" fill="#ecf524"/><ellipse cx="-0.8" cy="-7.8" rx="3" ry="4.5" fill="#ecf524"/><ellipse cx="-0.2" cy="16.5" rx="3.6" ry="3.4" fill="#ecf524"/><ellipse cx="-3.7" cy="19.4" rx="3.6" ry="4.4" fill="#ecf524"/><ellipse cx="20.3" cy="-7.4" rx="1.7" ry="2.3" fill="#ff9a1c"/><ellipse cx="4.7" cy="15.5" rx="3.8" ry="2.3" fill="#ff9a1c"/><ellipse cx="-1.9" cy="5.4" rx="2.7" ry="3.8" fill="#ff9a1c"/><ellipse cx="10.2" cy="10.2" rx="1.7" ry="2.5" fill="#ff9a1c"/><ellipse cx="-13.2" cy="-7.9" rx="2.8" ry="2.3" fill="#ff9a1c"/><ellipse cx="-2.2" cy="-14.6" rx="3.8" ry="3.5" fill="#ff9a1c"/><ellipse cx="-12.9" cy="2.2" rx="2.5" ry="2.4" fill="#ff9a1c"/><ellipse cx="17.1" cy="13.6" rx="3.7" ry="2.3" fill="#ff9a1c"/><ellipse cx="1.3" cy="19.3" rx="2.2" ry="3" fill="#ff2a0a"/><ellipse cx="-6" cy="-11.3" rx="2.7" ry="2.1" fill="#ff2a0a"/><ellipse cx="7.5" cy="20.2" rx="1.3" ry="1.8" fill="#ff2a0a"/><ellipse cx="10.3" cy="15.5" rx="1.9" ry="2" fill="#ff2a0a"/><ellipse cx="-15.4" cy="-16.6" rx="2" ry="1.3" fill="#ff2a0a"/><ellipse cx="-21.9" cy="4.6" rx="1.7" ry="1.3" fill="#1f9fb4"/><ellipse cx="-12.6" cy="20.9" rx="2.2" ry="1.5" fill="#1f9fb4"/><ellipse cx="9.5" cy="-4.1" rx="2.2" ry="2" fill="#1f9fb4"/></g>
</g></g>
<g transform="translate(1282.7 1350.8) rotate(0)"><g clip-path="url(#k32)">
<rect x="-21.5" y="-19.5" width="43" height="39" fill="#70ee1e"/>
<g filter="url(#bl)"><ellipse cx="3.5" cy="-7.5" rx="2.8" ry="4.6" fill="#c2f722"/><ellipse cx="13.6" cy="6.6" rx="4.9" ry="3.8" fill="#c2f722"/><ellipse cx="15.4" cy="-4.8" rx="3.5" ry="3.1" fill="#c2f722"/><ellipse cx="-1.6" cy="-1.2" rx="5.5" ry="4.3" fill="#c2f722"/><ellipse cx="3.5" cy="-7.2" rx="3.3" ry="3.4" fill="#c2f722"/><ellipse cx="6" cy="1.4" rx="5.1" ry="5.7" fill="#c2f722"/><ellipse cx="9.6" cy="11.2" rx="4.1" ry="4.9" fill="#c2f722"/><ellipse cx="-13.9" cy="7.5" rx="2.6" ry="3.3" fill="#c2f722"/><ellipse cx="5.4" cy="-0.1" rx="5.6" ry="5.3" fill="#c2f722"/><ellipse cx="13.4" cy="3.3" rx="3.6" ry="4.5" fill="#c2f722"/><ellipse cx="-16.5" cy="-1.1" rx="2.5" ry="2.6" fill="#38de30"/><ellipse cx="-0.9" cy="8" rx="3.2" ry="2.7" fill="#38de30"/><ellipse cx="10.2" cy="-7.5" rx="3.2" ry="3.3" fill="#38de30"/><ellipse cx="10.5" cy="1" rx="1.9" ry="2.9" fill="#38de30"/><ellipse cx="17.3" cy="3.4" rx="3.2" ry="3.1" fill="#38de30"/><ellipse cx="-1.8" cy="-12.8" rx="2.7" ry="3.1" fill="#ecf524"/><ellipse cx="-12.1" cy="-3.9" rx="2.6" ry="3.8" fill="#ecf524"/><ellipse cx="6.7" cy="-11.9" rx="2.7" ry="4.2" fill="#ecf524"/><ellipse cx="11.1" cy="7.8" rx="3.8" ry="3.3" fill="#ecf524"/><ellipse cx="-12.4" cy="-1.1" rx="4.1" ry="3.5" fill="#ecf524"/><ellipse cx="-9.9" cy="-5.5" rx="3.2" ry="3.8" fill="#ecf524"/><ellipse cx="-9.7" cy="4.3" rx="2.7" ry="3.3" fill="#ecf524"/><ellipse cx="-9.2" cy="6.7" rx="2.4" ry="2.5" fill="#ff9a1c"/><ellipse cx="15" cy="1.4" rx="2.5" ry="1.9" fill="#ff9a1c"/><ellipse cx="-6.2" cy="6.1" rx="2" ry="1.9" fill="#ff9a1c"/><ellipse cx="-2.7" cy="10.7" rx="2.4" ry="1.5" fill="#ff9a1c"/><ellipse cx="4.8" cy="-7" rx="2.3" ry="2" fill="#ff9a1c"/><ellipse cx="-11.1" cy="1.9" rx="2.3" ry="2.1" fill="#ff9a1c"/><ellipse cx="5.1" cy="-5.7" rx="2.2" ry="2.2" fill="#ff2a0a"/><ellipse cx="-8.4" cy="2" rx="1.4" ry="1.6" fill="#ff2a0a"/><ellipse cx="5.6" cy="-12.8" rx="2.1" ry="2" fill="#ff2a0a"/><ellipse cx="-5.8" cy="-4.7" rx="1.7" ry="2.2" fill="#ff2a0a"/><ellipse cx="14.5" cy="-6.2" rx="0.9" ry="1.3" fill="#1f9fb4"/><ellipse cx="-10.3" cy="-4.5" rx="1.4" ry="1.5" fill="#1f9fb4"/></g>
</g></g>
<rect x="1273" y="1384.1" width="42.2" height="9" fill="#fff"/>
<rect x="914" y="1405.4" width="421" height="19.2" fill="url(#jet)"/>
<rect x="914" y="1405.4" width="3.6" height="19.2" fill="#000"/>
<path d="M914 1405.6H1335" stroke="#9a9a9a" stroke-width="0.8"/>
<text transform="translate(976.5 1455.5)" font-size="30.2" text-anchor="middle">Median -</text>
<text transform="translate(977.5 1491.1)" font-size="30.2" text-anchor="middle">1.6 IQR</text>
<text transform="translate(1267 1455.5)" font-size="30.2" text-anchor="middle">Median +</text>
<text transform="translate(1268 1491.1)" font-size="30.2" text-anchor="middle">1.6 IQR</text>
<path d="M1080 1462.3H1168" stroke="#000" stroke-width="2" fill="none"/>
<path d="M1064.8 1462.3 L1082 1453.8 V1470.8 Z M1183.2 1462.3 L1166 1453.8 V1470.8 Z" fill="#000"/>
<text transform="translate(841 1557)" font-size="86" font-weight="bold">e</text>
<rect x="915.8" y="1528.5" width="419" height="419" fill="#000"/>
<g transform="translate(969.4 1582) rotate(0)"><g clip-path="url(#k33)">
<rect x="-27" y="-28.5" width="54" height="57" fill="#70ee1e"/>
<g filter="url(#bl)"><ellipse cx="-6" cy="17.2" rx="5.1" ry="6.3" fill="#c2f722"/><ellipse cx="-10.3" cy="-6.6" rx="4" ry="6" fill="#c2f722"/><ellipse cx="-19.1" cy="8.2" rx="3" ry="4.4" fill="#c2f722"/><ellipse cx="3" cy="13.5" rx="4.5" ry="5" fill="#c2f722"/><ellipse cx="-13.9" cy="2.3" rx="5.7" ry="6" fill="#c2f722"/><ellipse cx="10.2" cy="-5.8" rx="6.5" ry="5.3" fill="#c2f722"/><ellipse cx="-8.8" cy="8.6" rx="4.1" ry="4.3" fill="#c2f722"/><ellipse cx="-4.8" cy="-15.2" rx="3.6" ry="5.3" fill="#c2f722"/><ellipse cx="-9.3" cy="16.4" rx="5.4" ry="3.2" fill="#c2f722"/><ellipse cx="-6.7" cy="3.2" rx="4.7" ry="3.2" fill="#c2f722"/><ellipse cx="-12.3" cy="-4.3" rx="3.3" ry="4.6" fill="#c2f722"/><ellipse cx="-6.7" cy="10.3" rx="5.4" ry="4.7" fill="#22d256"/><ellipse cx="-2.5" cy="-3.9" rx="2.5" ry="3.7" fill="#22d256"/><ellipse cx="-11.8" cy="-2.2" rx="3.8" ry="4.9" fill="#22d256"/><ellipse cx="11.4" cy="-1.4" rx="4.4" ry="2.7" fill="#22d256"/><ellipse cx="-0.5" cy="12.9" rx="3.4" ry="3.9" fill="#22d256"/><ellipse cx="5.5" cy="-4.9" rx="3.9" ry="2.6" fill="#22d256"/><ellipse cx="10.5" cy="-1.5" rx="3.7" ry="5.1" fill="#22d256"/><ellipse cx="11.2" cy="7.2" rx="3.2" ry="3.7" fill="#22d256"/><ellipse cx="3.4" cy="8.5" rx="4" ry="5.7" fill="#22d256"/><ellipse cx="-5.3" cy="-6" rx="2.5" ry="1.7" fill="#1f9fb4"/><ellipse cx="3.1" cy="2.7" rx="1.7" ry="2.1" fill="#1f9fb4"/><ellipse cx="-7.7" cy="-2.9" rx="2.3" ry="3" fill="#1f9fb4"/><ellipse cx="0.6" cy="-1.2" rx="2.2" ry="1.5" fill="#1f9fb4"/><ellipse cx="0.7" cy="-3.6" rx="2.2" ry="2.1" fill="#1f9fb4"/><ellipse cx="16" cy="13.7" rx="3.2" ry="4.2" fill="#ecf524"/><ellipse cx="-9.5" cy="-15.7" rx="2.1" ry="3.1" fill="#ecf524"/><ellipse cx="12.6" cy="13.8" rx="3.1" ry="3.8" fill="#ecf524"/><ellipse cx="4.7" cy="-15.5" rx="3.4" ry="3.4" fill="#ecf524"/><ellipse cx="18.6" cy="-10.7" rx="3.8" ry="3.5" fill="#ecf524"/><ellipse cx="12.5" cy="12.1" rx="2.9" ry="3.1" fill="#ecf524"/><ellipse cx="-16.2" cy="11.3" rx="3.1" ry="2.7" fill="#ecf524"/><ellipse cx="6.7" cy="-23.9" rx="3.2" ry="2.1" fill="#ff9a1c"/><ellipse cx="-7.4" cy="-21" rx="3.2" ry="2.1" fill="#ff9a1c"/><ellipse cx="-22.5" cy="6" rx="3.2" ry="2.3" fill="#ff9a1c"/><ellipse cx="-0.7" cy="-24.9" rx="2.8" ry="3.2" fill="#ff9a1c"/><ellipse cx="14.8" cy="-18.6" rx="2.6" ry="3.5" fill="#ff9a1c"/><ellipse cx="17.3" cy="-16.3" rx="2" ry="3.2" fill="#ff9a1c"/><ellipse cx="18.9" cy="-4.6" rx="3.9" ry="3.2" fill="#ff9a1c"/><ellipse cx="-20.6" cy="-5.6" rx="3.5" ry="2.2" fill="#ff9a1c"/><ellipse cx="15.9" cy="12.8" rx="3.7" ry="3.2" fill="#ff9a1c"/><ellipse cx="-8.4" cy="-23.6" rx="1.7" ry="2.8" fill="#ff9a1c"/><ellipse cx="3.6" cy="-20.9" rx="3.2" ry="3.5" fill="#ff9a1c"/><ellipse cx="-24.3" cy="-4.5" rx="2.5" ry="3.3" fill="#ff2a0a"/><ellipse cx="-4.3" cy="26" rx="2.9" ry="3.4" fill="#ff2a0a"/><ellipse cx="-2.7" cy="-24.6" rx="3.4" ry="2.5" fill="#ff2a0a"/><ellipse cx="-9.3" cy="-22.6" rx="3.1" ry="2.8" fill="#ff2a0a"/><ellipse cx="21" cy="-5.7" rx="3.1" ry="3.5" fill="#ff2a0a"/><ellipse cx="13" cy="-19" rx="2.8" ry="2.5" fill="#ff2a0a"/><ellipse cx="-17.4" cy="19" rx="2" ry="3.2" fill="#ff2a0a"/><ellipse cx="20.9" cy="11.6" rx="2" ry="2.8" fill="#ff2a0a"/><ellipse cx="21.8" cy="12.4" rx="2.8" ry="3.4" fill="#ff2a0a"/></g>
</g></g>
<g transform="translate(1074.3 1580.9) rotate(0)"><g clip-path="url(#k34)">
<rect x="-22" y="-21.5" width="44" height="43" fill="#70ee1e"/>
<g filter="url(#bl)"><ellipse cx="1.5" cy="8.4" rx="2.5" ry="3.6" fill="#c2f722"/><ellipse cx="-9.7" cy="-1.7" rx="5" ry="4.1" fill="#c2f722"/><ellipse cx="-4.6" cy="13.7" rx="4.5" ry="5.1" fill="#c2f722"/><ellipse cx="-9.4" cy="2.1" rx="3.6" ry="2.8" fill="#c2f722"/><ellipse cx="6.2" cy="14.3" rx="5.5" ry="5.2" fill="#c2f722"/><ellipse cx="-7.9" cy="0.6" rx="4.1" ry="3.7" fill="#c2f722"/><ellipse cx="3.1" cy="2.5" rx="4.3" ry="3.2" fill="#c2f722"/><ellipse cx="12" cy="10" rx="4.1" ry="4.3" fill="#c2f722"/><ellipse cx="-1.5" cy="4" rx="5" ry="4.2" fill="#22d256"/><ellipse cx="7.1" cy="2.9" rx="4.6" ry="4.6" fill="#22d256"/><ellipse cx="5.1" cy="3.8" rx="5.1" ry="4.2" fill="#22d256"/><ellipse cx="0" cy="1.6" rx="5" ry="3.5" fill="#22d256"/><ellipse cx="-5.1" cy="5.9" rx="5" ry="4.9" fill="#22d256"/><ellipse cx="-0.4" cy="9.2" rx="3.2" ry="2.5" fill="#22d256"/><ellipse cx="-0.2" cy="6.2" rx="4.3" ry="3" fill="#22d256"/><ellipse cx="-1.3" cy="-1.9" rx="2.6" ry="1.6" fill="#1f9fb4"/><ellipse cx="-1.7" cy="2.3" rx="1.7" ry="1.7" fill="#1f9fb4"/><ellipse cx="-6.5" cy="1.7" rx="2.7" ry="2.6" fill="#1f9fb4"/><ellipse cx="-0.9" cy="5.3" rx="2.7" ry="2.4" fill="#1f9fb4"/><ellipse cx="8" cy="-11.8" rx="3.2" ry="3.4" fill="#ecf524"/><ellipse cx="7.3" cy="-8.8" rx="2.8" ry="3.3" fill="#ecf524"/><ellipse cx="13" cy="-6.7" rx="2.8" ry="2.2" fill="#ecf524"/><ellipse cx="-10.3" cy="4.8" rx="2.4" ry="2.7" fill="#ecf524"/><ellipse cx="-0.6" cy="16.5" rx="3.6" ry="3.8" fill="#ecf524"/><ellipse cx="18.1" cy="0.6" rx="2.4" ry="3.2" fill="#ff9a1c"/><ellipse cx="-14.7" cy="6.6" rx="3.1" ry="3.1" fill="#ff9a1c"/><ellipse cx="16" cy="7.9" rx="1.7" ry="2.5" fill="#ff9a1c"/><ellipse cx="16.5" cy="-1.4" rx="2.2" ry="2.8" fill="#ff9a1c"/><ellipse cx="-14.7" cy="10.1" rx="2.6" ry="2.8" fill="#ff9a1c"/><ellipse cx="14.2" cy="10.3" rx="2.9" ry="3" fill="#ff9a1c"/><ellipse cx="-0.4" cy="-17.4" rx="2.9" ry="1.9" fill="#ff9a1c"/><ellipse cx="0.9" cy="-16.6" rx="3" ry="2.6" fill="#ff9a1c"/><ellipse cx="-15.6" cy="8" rx="2.6" ry="2.1" fill="#ff2a0a"/><ellipse cx="18.6" cy="-0.6" rx="2.4" ry="1.7" fill="#ff2a0a"/><ellipse cx="-1.3" cy="-17.3" rx="2.8" ry="2.8" fill="#ff2a0a"/><ellipse cx="17" cy="-6.7" rx="2.7" ry="2.8" fill="#ff2a0a"/><ellipse cx="-11.1" cy="15.8" rx="1.6" ry="2.1" fill="#ff2a0a"/><ellipse cx="-0.6" cy="-18.3" rx="2.7" ry="3.1" fill="#ff2a0a"/><ellipse cx="15.5" cy="7.3" rx="2.6" ry="1.6" fill="#ff2a0a"/></g>
</g></g>
<g transform="translate(1172.8 1584.7) rotate(0)"><g clip-path="url(#k35)">
<rect x="-26.5" y="-28.5" width="53" height="57" fill="#70ee1e"/>
<g filter="url(#bl)"><ellipse cx="11.9" cy="3" rx="5.1" ry="5.5" fill="#c2f722"/><ellipse cx="2.5" cy="-14.6" rx="4.1" ry="5.3" fill="#c2f722"/><ellipse cx="20.3" cy="-1.3" rx="6.3" ry="5.6" fill="#c2f722"/><ellipse cx="3.8" cy="5.1" rx="6.1" ry="5.3" fill="#c2f722"/><ellipse cx="-4.5" cy="11.7" rx="5.1" ry="6.3" fill="#c2f722"/><ellipse cx="-7" cy="11.9" rx="4.1" ry="4.1" fill="#c2f722"/><ellipse cx="1.9" cy="-4.9" rx="5" ry="3.2" fill="#c2f722"/><ellipse cx="6.9" cy="-19.1" rx="3.9" ry="6" fill="#c2f722"/><ellipse cx="16.3" cy="11.7" rx="4.9" ry="6" fill="#c2f722"/><ellipse cx="5.3" cy="-7.3" rx="4.8" ry="2.9" fill="#c2f722"/><ellipse cx="-9.8" cy="6.3" rx="5.3" ry="4.4" fill="#22d256"/><ellipse cx="1.9" cy="-13.3" rx="5.7" ry="3.6" fill="#22d256"/><ellipse cx="1.1" cy="7.9" rx="4.3" ry="4.3" fill="#22d256"/><ellipse cx="-4.2" cy="2" rx="5.8" ry="4.6" fill="#22d256"/><ellipse cx="-11.2" cy="-1.5" rx="4.3" ry="3.3" fill="#22d256"/><ellipse cx="-3.6" cy="-12.6" rx="4.3" ry="4" fill="#22d256"/><ellipse cx="-7.4" cy="-4" rx="3" ry="4.8" fill="#22d256"/><ellipse cx="-1.7" cy="4.6" rx="3.7" ry="3.3" fill="#22d256"/><ellipse cx="-4.4" cy="-4.2" rx="5.2" ry="4.8" fill="#22d256"/><ellipse cx="1" cy="7.6" rx="1.6" ry="2.3" fill="#1f9fb4"/><ellipse cx="4.9" cy="-6.1" rx="2" ry="3" fill="#1f9fb4"/><ellipse cx="-2.3" cy="-0.1" rx="1.8" ry="2.2" fill="#1f9fb4"/><ellipse cx="6" cy="-4.2" rx="2.6" ry="2.2" fill="#1f9fb4"/><ellipse cx="-0.2" cy="0.2" rx="2.8" ry="3" fill="#1f9fb4"/><ellipse cx="12.4" cy="11.4" rx="2.6" ry="3.9" fill="#ecf524"/><ellipse cx="-14.2" cy="0.6" rx="2.5" ry="3.3" fill="#ecf524"/><ellipse cx="16.6" cy="0.3" rx="2.4" ry="3.3" fill="#ecf524"/><ellipse cx="-11" cy="14.4" rx="2.9" ry="2.7" fill="#ecf524"/><ellipse cx="-14.1" cy="0.7" rx="3.1" ry="3.3" fill="#ecf524"/><ellipse cx="5.8" cy="22" rx="4.3" ry="2.8" fill="#ecf524"/><ellipse cx="-14.2" cy="-6.2" rx="3.4" ry="2.9" fill="#ecf524"/><ellipse cx="-15.1" cy="-17.1" rx="2" ry="3.2" fill="#ff9a1c"/><ellipse cx="12" cy="-21.2" rx="4" ry="2.5" fill="#ff9a1c"/><ellipse cx="9.7" cy="19.7" rx="3" ry="2.8" fill="#ff9a1c"/><ellipse cx="10.3" cy="-19.5" rx="4" ry="2.8" fill="#ff9a1c"/><ellipse cx="-9.3" cy="-19.2" rx="3.2" ry="2.1" fill="#ff9a1c"/><ellipse cx="7.8" cy="19.4" rx="3.1" ry="2.7" fill="#ff9a1c"/><ellipse cx="-22.6" cy="-3.8" rx="3.8" ry="2.6" fill="#ff9a1c"/><ellipse cx="9.7" cy="19" rx="1.8" ry="2.9" fill="#ff9a1c"/><ellipse cx="16.6" cy="-15.6" rx="2.8" ry="1.9" fill="#ff9a1c"/><ellipse cx="-18.6" cy="-3.8" rx="2.8" ry="2.3" fill="#ff9a1c"/><ellipse cx="20.8" cy="12.5" rx="2.6" ry="2.2" fill="#ff2a0a"/><ellipse cx="-13" cy="22.2" rx="2.8" ry="2.2" fill="#ff2a0a"/><ellipse cx="13" cy="-22.4" rx="3.3" ry="2.7" fill="#ff2a0a"/><ellipse cx="-15.7" cy="-20.1" rx="3.2" ry="3.6" fill="#ff2a0a"/><ellipse cx="-20.6" cy="-10.3" rx="2.4" ry="2.6" fill="#ff2a0a"/><ellipse cx="-5.7" cy="-24" rx="2.9" ry="2.5" fill="#ff2a0a"/><ellipse cx="24.4" cy="-1.7" rx="3.3" ry="2.4" fill="#ff2a0a"/><ellipse cx="-24.2" cy="0.7" rx="2.2" ry="2.9" fill="#ff2a0a"/><ellipse cx="-22.6" cy="4.6" rx="1.8" ry="2.7" fill="#ff2a0a"/></g>
</g></g>
<g transform="translate(1284.5 1582) rotate(0)"><g clip-path="url(#k36)">
<rect x="-31.5" y="-31.5" width="63" height="63" fill="#70ee1e"/>
<g filter="url(#bl)"><ellipse cx="-23" cy="1" rx="2.9" ry="4.4" fill="#c2f722"/><ellipse cx="-11.4" cy="12.3" rx="5.4" ry="5.4" fill="#c2f722"/><ellipse cx="-22.4" cy="-11.5" rx="6.1" ry="5.1" fill="#c2f722"/><ellipse cx="-3.8" cy="6.4" rx="7" ry="5.7" fill="#c2f722"/><ellipse cx="20.4" cy="9.1" rx="4.6" ry="5.4" fill="#c2f722"/><ellipse cx="14.1" cy="-8" rx="4.9" ry="5.1" fill="#c2f722"/><ellipse cx="-2.4" cy="18.2" rx="4.6" ry="7.1" fill="#c2f722"/><ellipse cx="2.5" cy="-8.5" rx="5.5" ry="5" fill="#c2f722"/><ellipse cx="2.8" cy="-9.9" rx="6.8" ry="5.1" fill="#c2f722"/><ellipse cx="-23.9" cy="4.3" rx="4" ry="5.7" fill="#c2f722"/><ellipse cx="-8" cy="0.2" rx="4.8" ry="4.6" fill="#c2f722"/><ellipse cx="7.3" cy="-8.5" rx="4.5" ry="5.7" fill="#c2f722"/><ellipse cx="-2.1" cy="24.6" rx="6.4" ry="5.1" fill="#c2f722"/><ellipse cx="9.8" cy="-11.7" rx="5.4" ry="3.3" fill="#22d256"/><ellipse cx="3.9" cy="6.6" rx="4.3" ry="3.5" fill="#22d256"/><ellipse cx="-10.4" cy="2.7" rx="4.3" ry="3.8" fill="#22d256"/><ellipse cx="-5.2" cy="13.3" rx="6.2" ry="6" fill="#22d256"/><ellipse cx="8.9" cy="4.1" rx="5" ry="3.5" fill="#22d256"/><ellipse cx="4.8" cy="-3.3" rx="5.2" ry="5.1" fill="#22d256"/><ellipse cx="-4.8" cy="1.5" rx="5" ry="4.1" fill="#22d256"/><ellipse cx="3.2" cy="7.6" rx="6.3" ry="3.8" fill="#22d256"/><ellipse cx="11.2" cy="7.6" rx="4.8" ry="5" fill="#22d256"/><ellipse cx="5.4" cy="-5.2" rx="2.6" ry="4.1" fill="#22d256"/><ellipse cx="-8.6" cy="7.2" rx="2.2" ry="2.5" fill="#1f9fb4"/><ellipse cx="-8.3" cy="-0.8" rx="1.8" ry="2.1" fill="#1f9fb4"/><ellipse cx="-4.9" cy="9.2" rx="1.9" ry="2.9" fill="#1f9fb4"/><ellipse cx="5.5" cy="1.9" rx="2.9" ry="2.8" fill="#1f9fb4"/><ellipse cx="2.6" cy="-3" rx="2.8" ry="3.1" fill="#1f9fb4"/><ellipse cx="8.8" cy="-0.2" rx="1.5" ry="2.1" fill="#1f9fb4"/><ellipse cx="-18.3" cy="-15.2" rx="2.8" ry="4.7" fill="#ecf524"/><ellipse cx="19.9" cy="-3.4" rx="3.4" ry="3.6" fill="#ecf524"/><ellipse cx="7" cy="-25.3" rx="3.5" ry="4.2" fill="#ecf524"/><ellipse cx="-18.6" cy="-14.7" rx="3.7" ry="4.5" fill="#ecf524"/><ellipse cx="4.1" cy="23.7" rx="2.1" ry="3.3" fill="#ecf524"/><ellipse cx="6.6" cy="-22.1" rx="3.8" ry="3.8" fill="#ecf524"/><ellipse cx="1.7" cy="23.2" rx="3.5" ry="4.7" fill="#ecf524"/><ellipse cx="-23.8" cy="-12.6" rx="4.3" ry="2.9" fill="#ecf524"/><ellipse cx="-11.1" cy="23.1" rx="4.1" ry="2.5" fill="#ff9a1c"/><ellipse cx="-10.3" cy="24.3" rx="4.3" ry="3.4" fill="#ff9a1c"/><ellipse cx="-5.9" cy="23.7" rx="3.1" ry="3.8" fill="#ff9a1c"/><ellipse cx="2.4" cy="-25.7" rx="3.5" ry="2.5" fill="#ff9a1c"/><ellipse cx="23" cy="-16.3" rx="3.4" ry="2.1" fill="#ff9a1c"/><ellipse cx="27.4" cy="4.3" rx="3" ry="4" fill="#ff9a1c"/><ellipse cx="-9.7" cy="-21.7" rx="3.5" ry="3.2" fill="#ff9a1c"/><ellipse cx="-20.2" cy="-12" rx="2.3" ry="3.3" fill="#ff9a1c"/><ellipse cx="-16.7" cy="-20.2" rx="4.4" ry="3.6" fill="#ff9a1c"/><ellipse cx="-25.4" cy="5" rx="3.4" ry="2.7" fill="#ff9a1c"/><ellipse cx="-22.7" cy="1.8" rx="3.5" ry="2.4" fill="#ff9a1c"/><ellipse cx="-25.6" cy="-1.5" rx="4" ry="4.4" fill="#ff9a1c"/><ellipse cx="26.4" cy="5.2" rx="3.9" ry="3.4" fill="#ff9a1c"/><ellipse cx="26.8" cy="6.1" rx="3.1" ry="3.7" fill="#ff2a0a"/><ellipse cx="20.8" cy="20.6" rx="3.3" ry="2.2" fill="#ff2a0a"/><ellipse cx="25.9" cy="-13.3" rx="3.2" ry="3.5" fill="#ff2a0a"/><ellipse cx="-28.2" cy="6.6" rx="3" ry="2" fill="#ff2a0a"/><ellipse cx="-7.2" cy="-24.6" rx="2.7" ry="2.2" fill="#ff2a0a"/><ellipse cx="-21.6" cy="-19.7" rx="2.3" ry="2.7" fill="#ff2a0a"/><ellipse cx="-12.9" cy="22.9" rx="3.2" ry="2" fill="#ff2a0a"/><ellipse cx="-17.7" cy="-23.3" rx="3.6" ry="2.3" fill="#ff2a0a"/><ellipse cx="-28.3" cy="-7.8" rx="3.3" ry="2.1" fill="#ff2a0a"/><ellipse cx="13.7" cy="26.2" rx="3.2" ry="3.3" fill="#ff2a0a"/></g>
</g></g>
<g transform="translate(972 1687) rotate(0)"><g clip-path="url(#k37)">
<rect x="-24" y="-25" width="48" height="50" fill="#70ee1e"/>
<g filter="url(#bl)"><ellipse cx="1.5" cy="-11.4" rx="3.9" ry="3.1" fill="#c2f722"/><ellipse cx="1" cy="-6" rx="4.6" ry="5.4" fill="#c2f722"/><ellipse cx="-7.1" cy="-12.6" rx="3.7" ry="4.2" fill="#c2f722"/><ellipse cx="-6.4" cy="17.1" rx="5.1" ry="4.1" fill="#c2f722"/><ellipse cx="-12.2" cy="0.6" rx="3.1" ry="5.1" fill="#c2f722"/><ellipse cx="18.3" cy="4.8" rx="5.1" ry="5.9" fill="#c2f722"/><ellipse cx="6.5" cy="-8.8" rx="5.7" ry="4.9" fill="#c2f722"/><ellipse cx="-0.6" cy="-10.9" rx="5.7" ry="4.7" fill="#c2f722"/><ellipse cx="5.5" cy="-9" rx="3.5" ry="4.7" fill="#c2f722"/><ellipse cx="6.8" cy="-7.1" rx="4.4" ry="3.6" fill="#22d256"/><ellipse cx="6.3" cy="3.1" rx="3.9" ry="4.8" fill="#22d256"/><ellipse cx="-0.3" cy="5.7" rx="4.8" ry="3.5" fill="#22d256"/><ellipse cx="9.3" cy="-6.9" rx="3.2" ry="4" fill="#22d256"/><ellipse cx="-2" cy="2.6" rx="4.4" ry="4.3" fill="#22d256"/><ellipse cx="-4" cy="4.8" rx="5.3" ry="3.3" fill="#22d256"/><ellipse cx="1.9" cy="-2.5" rx="4.6" ry="5.3" fill="#22d256"/><ellipse cx="-8" cy="4.3" rx="4.5" ry="4.2" fill="#22d256"/><ellipse cx="-0.4" cy="0.7" rx="2.6" ry="2.3" fill="#1f9fb4"/><ellipse cx="2.1" cy="1.1" rx="2.1" ry="2.8" fill="#1f9fb4"/><ellipse cx="3.7" cy="-0.6" rx="2.5" ry="1.5" fill="#1f9fb4"/><ellipse cx="-0.2" cy="-3.5" rx="2.6" ry="2.6" fill="#1f9fb4"/><ellipse cx="2.1" cy="-8.3" rx="2.6" ry="2.1" fill="#1f9fb4"/><ellipse cx="6.1" cy="-17.3" rx="2.5" ry="3.7" fill="#ecf524"/><ellipse cx="-8.7" cy="17.8" rx="3.9" ry="2.8" fill="#ecf524"/><ellipse cx="12.3" cy="5" rx="3.2" ry="2" fill="#ecf524"/><ellipse cx="-10" cy="12.9" rx="4" ry="3.3" fill="#ecf524"/><ellipse cx="-15.2" cy="6.3" rx="4.2" ry="3" fill="#ecf524"/><ellipse cx="-13.7" cy="2" rx="2.9" ry="2.4" fill="#ecf524"/><ellipse cx="-15.5" cy="7.4" rx="3.8" ry="2.5" fill="#ff9a1c"/><ellipse cx="18.8" cy="5.8" rx="1.9" ry="2.7" fill="#ff9a1c"/><ellipse cx="0.6" cy="-19.6" rx="3.1" ry="2.4" fill="#ff9a1c"/><ellipse cx="-4" cy="21.4" rx="2.8" ry="1.8" fill="#ff9a1c"/><ellipse cx="-11.8" cy="16.8" rx="2.3" ry="2.6" fill="#ff9a1c"/><ellipse cx="16.3" cy="-8.4" rx="3.1" ry="2.3" fill="#ff9a1c"/><ellipse cx="-3.8" cy="20.3" rx="2.7" ry="3.1" fill="#ff9a1c"/><ellipse cx="-18.5" cy="5.4" rx="3" ry="3.5" fill="#ff9a1c"/><ellipse cx="14.9" cy="9.3" rx="1.9" ry="2.8" fill="#ff9a1c"/><ellipse cx="-10.5" cy="-17.8" rx="2.3" ry="3.3" fill="#ff2a0a"/><ellipse cx="7.9" cy="18.5" rx="2.5" ry="3" fill="#ff2a0a"/><ellipse cx="7.7" cy="-20.4" rx="2.7" ry="2.3" fill="#ff2a0a"/><ellipse cx="-17.9" cy="7.3" rx="2.6" ry="2.6" fill="#ff2a0a"/><ellipse cx="-12.3" cy="-15.4" rx="3" ry="3.1" fill="#ff2a0a"/><ellipse cx="-14.2" cy="15.4" rx="1.7" ry="2.5" fill="#ff2a0a"/><ellipse cx="-7.9" cy="-19.8" rx="3.3" ry="3.3" fill="#ff2a0a"/><ellipse cx="20.1" cy="-7.7" rx="2.2" ry="1.5" fill="#ff2a0a"/></g>
</g></g>
<g transform="translate(1075.5 1686.2) rotate(0)"><g clip-path="url(#k38)">
<rect x="-28" y="-27.5" width="56" height="55" fill="#70ee1e"/>
<g filter="url(#bl)"><ellipse cx="5.4" cy="-9.6" rx="4.7" ry="5.7" fill="#c2f722"/><ellipse cx="14.1" cy="7.6" rx="5" ry="5.4" fill="#c2f722"/><ellipse cx="5.2" cy="11.8" rx="6.1" ry="4.2" fill="#c2f722"/><ellipse cx="7.9" cy="1.6" rx="4.7" ry="5.9" fill="#c2f722"/><ellipse cx="-21.5" cy="3.6" rx="4.2" ry="5" fill="#c2f722"/><ellipse cx="-6.8" cy="-0.2" rx="5.2" ry="6.3" fill="#c2f722"/><ellipse cx="-2.3" cy="10.3" rx="6" ry="6.4" fill="#c2f722"/><ellipse cx="-13.6" cy="-10.1" rx="4.6" ry="2.8" fill="#c2f722"/><ellipse cx="9" cy="14.4" rx="2.5" ry="4.1" fill="#c2f722"/><ellipse cx="-10.2" cy="-14.4" rx="6.6" ry="5.7" fill="#c2f722"/><ellipse cx="22" cy="1.8" rx="5" ry="5.3" fill="#c2f722"/><ellipse cx="4.8" cy="-8" rx="3.2" ry="4.2" fill="#22d256"/><ellipse cx="-5.6" cy="-3.1" rx="5.2" ry="3.5" fill="#22d256"/><ellipse cx="-8.6" cy="-7.7" rx="5.8" ry="4.1" fill="#22d256"/><ellipse cx="-10.4" cy="7.7" rx="5.5" ry="5" fill="#22d256"/><ellipse cx="-0.9" cy="12.8" rx="5.7" ry="5.8" fill="#22d256"/><ellipse cx="4.9" cy="-10" rx="5.1" ry="5.5" fill="#22d256"/><ellipse cx="-9.7" cy="7.4" rx="5.1" ry="4.2" fill="#22d256"/><ellipse cx="1.6" cy="0.3" rx="4.7" ry="3" fill="#22d256"/><ellipse cx="11" cy="6.7" rx="4.2" ry="2.7" fill="#22d256"/><ellipse cx="-2.8" cy="-5.6" rx="2.6" ry="2.1" fill="#1f9fb4"/><ellipse cx="-7.3" cy="-0.3" rx="2.4" ry="1.9" fill="#1f9fb4"/><ellipse cx="6.4" cy="5.3" rx="3" ry="2.7" fill="#1f9fb4"/><ellipse cx="-1.9" cy="2.4" rx="2" ry="1.6" fill="#1f9fb4"/><ellipse cx="2.9" cy="-3.1" rx="2.6" ry="2.8" fill="#1f9fb4"/><ellipse cx="10.7" cy="-12.9" rx="3.5" ry="2.8" fill="#ecf524"/><ellipse cx="-17.2" cy="5.6" rx="3.3" ry="4.4" fill="#ecf524"/><ellipse cx="3.3" cy="19.1" rx="4.1" ry="3.1" fill="#ecf524"/><ellipse cx="-15.1" cy="0.6" rx="4.5" ry="3.2" fill="#ecf524"/><ellipse cx="16.6" cy="-4.3" rx="2.1" ry="3" fill="#ecf524"/><ellipse cx="11.9" cy="-15.8" rx="3" ry="2.1" fill="#ecf524"/><ellipse cx="8.3" cy="15.8" rx="3.4" ry="4.4" fill="#ecf524"/><ellipse cx="-16.9" cy="-11.6" rx="3" ry="3.5" fill="#ff9a1c"/><ellipse cx="-20.7" cy="-6.4" rx="3.8" ry="3.3" fill="#ff9a1c"/><ellipse cx="-16.4" cy="-12.8" rx="3" ry="2.7" fill="#ff9a1c"/><ellipse cx="20.5" cy="8.3" rx="3.2" ry="2.5" fill="#ff9a1c"/><ellipse cx="-22.2" cy="-8.6" rx="3.9" ry="2.8" fill="#ff9a1c"/><ellipse cx="-15.9" cy="15.6" rx="3.1" ry="3.5" fill="#ff9a1c"/><ellipse cx="11" cy="-17.4" rx="3.2" ry="3" fill="#ff9a1c"/><ellipse cx="-16.6" cy="18" rx="2.8" ry="2.8" fill="#ff9a1c"/><ellipse cx="23.3" cy="5.1" rx="2.7" ry="3" fill="#ff9a1c"/><ellipse cx="15.6" cy="15.1" rx="2.3" ry="2.9" fill="#ff9a1c"/><ellipse cx="-1.6" cy="-22.1" rx="3.9" ry="4.2" fill="#ff9a1c"/><ellipse cx="22.3" cy="-12.5" rx="2.5" ry="3.1" fill="#ff2a0a"/><ellipse cx="-10.1" cy="20.6" rx="2.2" ry="2.6" fill="#ff2a0a"/><ellipse cx="2.7" cy="-23.9" rx="3.5" ry="2.2" fill="#ff2a0a"/><ellipse cx="-24.7" cy="-1.2" rx="2.4" ry="2.7" fill="#ff2a0a"/><ellipse cx="-4.4" cy="-23.7" rx="2.6" ry="1.8" fill="#ff2a0a"/><ellipse cx="24.6" cy="2.4" rx="2.7" ry="3.1" fill="#ff2a0a"/><ellipse cx="-24" cy="3.4" rx="3.4" ry="2.1" fill="#ff2a0a"/><ellipse cx="-1.5" cy="24.1" rx="1.9" ry="2.7" fill="#ff2a0a"/><ellipse cx="18.8" cy="-14.3" rx="3.1" ry="3.5" fill="#ff2a0a"/><ellipse cx="-21.2" cy="-7.3" rx="3.1" ry="3.6" fill="#ff2a0a"/><ellipse cx="-24.1" cy="-2.8" rx="3.3" ry="2.3" fill="#ff2a0a"/></g>
</g></g>
<g transform="translate(1178.5 1691.9) rotate(0)"><g clip-path="url(#k39)">
<rect x="-25" y="-22" width="50" height="44" fill="#70ee1e"/>
<g filter="url(#bl)"><ellipse cx="6.5" cy="-16.1" rx="5.7" ry="4.8" fill="#c2f722"/><ellipse cx="-6.2" cy="-9.8" rx="3.8" ry="4.7" fill="#c2f722"/><ellipse cx="-1.3" cy="15.7" rx="5.5" ry="4.8" fill="#c2f722"/><ellipse cx="-15.2" cy="-0.8" rx="3.1" ry="5.1" fill="#c2f722"/><ellipse cx="9.6" cy="-1.6" rx="2.9" ry="4.6" fill="#c2f722"/><ellipse cx="2.5" cy="-4.3" rx="5.4" ry="4.9" fill="#c2f722"/><ellipse cx="-0.9" cy="16.5" rx="4.4" ry="3.4" fill="#c2f722"/><ellipse cx="-15.9" cy="-3.9" rx="2.3" ry="3.8" fill="#c2f722"/><ellipse cx="8.6" cy="5.8" rx="3.7" ry="3.7" fill="#22d256"/><ellipse cx="3.6" cy="8.2" rx="3.1" ry="3.9" fill="#22d256"/><ellipse cx="5.3" cy="-8" rx="3.8" ry="4.4" fill="#22d256"/><ellipse cx="4.8" cy="4.3" rx="3.9" ry="4.7" fill="#22d256"/><ellipse cx="0.5" cy="7.2" rx="2" ry="3.3" fill="#22d256"/><ellipse cx="7.6" cy="7.3" rx="3.5" ry="3.1" fill="#22d256"/><ellipse cx="-3.6" cy="7.1" rx="4.4" ry="5.2" fill="#22d256"/><ellipse cx="4.4" cy="-0.6" rx="2" ry="2.7" fill="#1f9fb4"/><ellipse cx="-2.8" cy="5.6" rx="2.3" ry="2.6" fill="#1f9fb4"/><ellipse cx="7.5" cy="-0.4" rx="2.1" ry="2.2" fill="#1f9fb4"/><ellipse cx="-6.4" cy="-3.9" rx="2.2" ry="2.5" fill="#1f9fb4"/><ellipse cx="-15.5" cy="1.8" rx="2.6" ry="3.5" fill="#ecf524"/><ellipse cx="-17.6" cy="-3.7" rx="2.8" ry="3.9" fill="#ecf524"/><ellipse cx="5.7" cy="11.3" rx="3.7" ry="3.8" fill="#ecf524"/><ellipse cx="-13" cy="13.5" rx="3.8" ry="3.8" fill="#ecf524"/><ellipse cx="-4.6" cy="11.3" rx="2.4" ry="3" fill="#ecf524"/><ellipse cx="-0.4" cy="14.9" rx="2.4" ry="3.6" fill="#ecf524"/><ellipse cx="-8.7" cy="13.6" rx="2.6" ry="1.7" fill="#ff9a1c"/><ellipse cx="12.9" cy="-10.6" rx="3.5" ry="3.3" fill="#ff9a1c"/><ellipse cx="-6.6" cy="17.5" rx="2.5" ry="1.6" fill="#ff9a1c"/><ellipse cx="3.9" cy="18.4" rx="2.1" ry="3.4" fill="#ff9a1c"/><ellipse cx="-11.1" cy="-12.6" rx="2.9" ry="3.3" fill="#ff9a1c"/><ellipse cx="-18.4" cy="2.4" rx="3.6" ry="3" fill="#ff9a1c"/><ellipse cx="-12.9" cy="-10.7" rx="3.6" ry="3.3" fill="#ff9a1c"/><ellipse cx="-16.8" cy="-9.2" rx="2.8" ry="3.4" fill="#ff9a1c"/><ellipse cx="-20.4" cy="-1.8" rx="2.1" ry="1.7" fill="#ff2a0a"/><ellipse cx="-3.9" cy="-17.4" rx="2.7" ry="2.2" fill="#ff2a0a"/><ellipse cx="-20.8" cy="4.6" rx="2.9" ry="2.7" fill="#ff2a0a"/><ellipse cx="4.7" cy="-18.5" rx="1.6" ry="2.2" fill="#ff2a0a"/><ellipse cx="-13" cy="14.6" rx="2.4" ry="2.4" fill="#ff2a0a"/><ellipse cx="-15.2" cy="13.8" rx="3.1" ry="2.1" fill="#ff2a0a"/><ellipse cx="20.3" cy="-4.7" rx="2.9" ry="3.1" fill="#ff2a0a"/></g>
</g></g>
<g transform="translate(1282.7 1693.8) rotate(0)"><g clip-path="url(#k40)">
<rect x="-25" y="-22" width="50" height="44" fill="#70ee1e"/>
<g filter="url(#bl)"><ellipse cx="-8.2" cy="1.1" rx="3.9" ry="5" fill="#c2f722"/><ellipse cx="-4.7" cy="-9.5" rx="3.6" ry="3.4" fill="#c2f722"/><ellipse cx="8.2" cy="-6.8" rx="3.7" ry="4.2" fill="#c2f722"/><ellipse cx="15.9" cy="-2.9" rx="3" ry="4.8" fill="#c2f722"/><ellipse cx="-17.4" cy="7.8" rx="3.3" ry="3.9" fill="#c2f722"/><ellipse cx="17" cy="-2.7" rx="4.9" ry="5.4" fill="#c2f722"/><ellipse cx="0.3" cy="5" rx="3" ry="4.8" fill="#c2f722"/><ellipse cx="8.7" cy="14.6" rx="5.3" ry="3.8" fill="#c2f722"/><ellipse cx="2.4" cy="3.3" rx="3.7" ry="4" fill="#22d256"/><ellipse cx="2.2" cy="-7.5" rx="3.5" ry="4.8" fill="#22d256"/><ellipse cx="8.4" cy="5.2" rx="3.8" ry="4.2" fill="#22d256"/><ellipse cx="-1" cy="4.7" rx="4.3" ry="4.9" fill="#22d256"/><ellipse cx="-0.4" cy="-2" rx="4.1" ry="2.9" fill="#22d256"/><ellipse cx="-2" cy="-8.5" rx="3.6" ry="2.2" fill="#22d256"/><ellipse cx="-0.4" cy="-0.9" rx="4.7" ry="4.9" fill="#22d256"/><ellipse cx="-7" cy="-0.7" rx="2.7" ry="2.3" fill="#1f9fb4"/><ellipse cx="0.7" cy="-5.3" rx="1.4" ry="1.7" fill="#1f9fb4"/><ellipse cx="-2.8" cy="4.1" rx="1.9" ry="1.4" fill="#1f9fb4"/><ellipse cx="4.5" cy="-3.4" rx="2.6" ry="1.7" fill="#1f9fb4"/><ellipse cx="-0.7" cy="-16.8" rx="3.2" ry="2.1" fill="#ecf524"/><ellipse cx="-14.4" cy="-10.2" rx="3.1" ry="2" fill="#ecf524"/><ellipse cx="-16.7" cy="9.8" rx="3.6" ry="3.2" fill="#ecf524"/><ellipse cx="0.3" cy="-12.5" rx="4" ry="3.4" fill="#ecf524"/><ellipse cx="5.2" cy="11.3" rx="3.6" ry="3.2" fill="#ecf524"/><ellipse cx="-0.5" cy="15" rx="3.7" ry="3.2" fill="#ecf524"/><ellipse cx="17.9" cy="9.7" rx="2.4" ry="2.1" fill="#ff9a1c"/><ellipse cx="17.5" cy="7.6" rx="3.1" ry="3.3" fill="#ff9a1c"/><ellipse cx="-21.1" cy="-1.1" rx="2.6" ry="2.5" fill="#ff9a1c"/><ellipse cx="-10.2" cy="13.4" rx="1.8" ry="2.6" fill="#ff9a1c"/><ellipse cx="-5.8" cy="-18.1" rx="3.1" ry="3.1" fill="#ff9a1c"/><ellipse cx="-9.7" cy="-12.7" rx="1.8" ry="3" fill="#ff9a1c"/><ellipse cx="6.5" cy="-14.6" rx="2.8" ry="2.3" fill="#ff9a1c"/><ellipse cx="17.8" cy="3" rx="2.5" ry="3.3" fill="#ff9a1c"/><ellipse cx="-20.8" cy="2.4" rx="2" ry="3.2" fill="#ff2a0a"/><ellipse cx="19.2" cy="8.4" rx="2.9" ry="3.2" fill="#ff2a0a"/><ellipse cx="-20.3" cy="-4.5" rx="3.2" ry="2.8" fill="#ff2a0a"/><ellipse cx="-0.9" cy="18.3" rx="2.7" ry="2" fill="#ff2a0a"/><ellipse cx="17.9" cy="9.8" rx="3.2" ry="2.4" fill="#ff2a0a"/><ellipse cx="0.5" cy="-19.3" rx="2.9" ry="2.2" fill="#ff2a0a"/><ellipse cx="6.8" cy="17.9" rx="1.4" ry="2.1" fill="#ff2a0a"/></g>
</g></g>
<g transform="translate(970.9 1790) rotate(0)"><g clip-path="url(#k41)">
<rect x="-24" y="-22" width="48" height="44" fill="#70ee1e"/>
<g filter="url(#bl)"><ellipse cx="1.4" cy="-7.4" rx="3.7" ry="3" fill="#c2f722"/><ellipse cx="-3.4" cy="-7.4" rx="4.8" ry="4.8" fill="#c2f722"/><ellipse cx="7.9" cy="-15.2" rx="3.9" ry="5.1" fill="#c2f722"/><ellipse cx="-7.6" cy="1.4" rx="2.7" ry="3.7" fill="#c2f722"/><ellipse cx="9.6" cy="-6.3" rx="5.5" ry="4.6" fill="#c2f722"/><ellipse cx="12.8" cy="-8.8" rx="4.6" ry="3.2" fill="#c2f722"/><ellipse cx="-6.5" cy="14.5" rx="3.1" ry="3.7" fill="#c2f722"/><ellipse cx="-12.5" cy="6.2" rx="5.8" ry="5.8" fill="#c2f722"/><ellipse cx="10.9" cy="-2.7" rx="3.5" ry="4.3" fill="#22d256"/><ellipse cx="2" cy="-7.1" rx="4.7" ry="4.6" fill="#22d256"/><ellipse cx="-2.9" cy="-7.3" rx="2.7" ry="3.5" fill="#22d256"/><ellipse cx="4.8" cy="9.4" rx="2.6" ry="4" fill="#22d256"/><ellipse cx="8.4" cy="3" rx="3.7" ry="2.5" fill="#22d256"/><ellipse cx="1.2" cy="-0.6" rx="3.8" ry="4.6" fill="#22d256"/><ellipse cx="-1.1" cy="0.5" rx="3.2" ry="3.9" fill="#22d256"/><ellipse cx="4.9" cy="-0.2" rx="2.6" ry="2.4" fill="#1f9fb4"/><ellipse cx="-5.9" cy="0.3" rx="1.7" ry="2.6" fill="#1f9fb4"/><ellipse cx="5.9" cy="0.4" rx="2.1" ry="2.1" fill="#1f9fb4"/><ellipse cx="-4.9" cy="3" rx="1.7" ry="1.6" fill="#1f9fb4"/><ellipse cx="9.5" cy="15.1" rx="1.8" ry="2.6" fill="#ecf524"/><ellipse cx="13.9" cy="-0.2" rx="2.7" ry="3" fill="#ecf524"/><ellipse cx="11.5" cy="-5" rx="2.9" ry="2.1" fill="#ecf524"/><ellipse cx="14.3" cy="9.7" rx="3.9" ry="3.8" fill="#ecf524"/><ellipse cx="15.7" cy="4.7" rx="1.9" ry="2.9" fill="#ecf524"/><ellipse cx="-1.6" cy="-15.5" rx="2" ry="2.8" fill="#ecf524"/><ellipse cx="17.9" cy="-8.1" rx="3" ry="3" fill="#ff9a1c"/><ellipse cx="4.8" cy="15.7" rx="2.7" ry="2.3" fill="#ff9a1c"/><ellipse cx="-20" cy="-2.1" rx="3.1" ry="2.3" fill="#ff9a1c"/><ellipse cx="16.2" cy="-4.8" rx="3.1" ry="2" fill="#ff9a1c"/><ellipse cx="-18.5" cy="7.7" rx="3.3" ry="3.2" fill="#ff9a1c"/><ellipse cx="-17.2" cy="-10.7" rx="2.5" ry="3.5" fill="#ff9a1c"/><ellipse cx="15.1" cy="-7.3" rx="3.6" ry="3.5" fill="#ff9a1c"/><ellipse cx="18.5" cy="-5.6" rx="2.8" ry="3.4" fill="#ff9a1c"/><ellipse cx="18.6" cy="9.1" rx="2.6" ry="1.7" fill="#ff2a0a"/><ellipse cx="-1.8" cy="17.8" rx="3.1" ry="2.6" fill="#ff2a0a"/><ellipse cx="8.3" cy="-16.7" rx="2" ry="2.6" fill="#ff2a0a"/><ellipse cx="3.8" cy="-19.2" rx="2.2" ry="2.4" fill="#ff2a0a"/><ellipse cx="20.9" cy="0.9" rx="3" ry="2.2" fill="#ff2a0a"/><ellipse cx="-3.8" cy="-17.7" rx="2.8" ry="3" fill="#ff2a0a"/><ellipse cx="17.2" cy="-9.6" rx="2.4" ry="1.8" fill="#ff2a0a"/><ellipse cx="-19.5" cy="-3.1" rx="2.2" ry="1.9" fill="#ff2a0a"/></g>
</g></g>
<g transform="translate(1073.6 1791.1) rotate(0)"><g clip-path="url(#k42)">
<rect x="-29.5" y="-28" width="59" height="56" fill="#70ee1e"/>
<g filter="url(#bl)"><ellipse cx="-9.7" cy="-13.6" rx="5.5" ry="5.1" fill="#c2f722"/><ellipse cx="18.6" cy="-6.8" rx="6.5" ry="4.2" fill="#c2f722"/><ellipse cx="-9.7" cy="19.6" rx="6.1" ry="6.1" fill="#c2f722"/><ellipse cx="-13.7" cy="10.5" rx="6.1" ry="3.8" fill="#c2f722"/><ellipse cx="-18.6" cy="-8" rx="5" ry="4.2" fill="#c2f722"/><ellipse cx="-14.7" cy="12.7" rx="6.4" ry="4.8" fill="#c2f722"/><ellipse cx="-21.8" cy="2.1" rx="3.4" ry="4.8" fill="#c2f722"/><ellipse cx="-6.1" cy="-8.1" rx="6.6" ry="5.3" fill="#c2f722"/><ellipse cx="-5.6" cy="3.2" rx="4.2" ry="5.1" fill="#c2f722"/><ellipse cx="18.4" cy="-2.2" rx="3.2" ry="5.3" fill="#c2f722"/><ellipse cx="-10.2" cy="15.7" rx="3.6" ry="4.5" fill="#c2f722"/><ellipse cx="-11.1" cy="-4.5" rx="4.9" ry="4.4" fill="#22d256"/><ellipse cx="10.2" cy="5.6" rx="4.8" ry="4.3" fill="#22d256"/><ellipse cx="-8" cy="10.2" rx="3.6" ry="4.2" fill="#22d256"/><ellipse cx="4.4" cy="-8.2" rx="3.8" ry="4.7" fill="#22d256"/><ellipse cx="1.5" cy="11.3" rx="3.2" ry="5.1" fill="#22d256"/><ellipse cx="7" cy="-3" rx="3.6" ry="4.4" fill="#22d256"/><ellipse cx="13.7" cy="-4.4" rx="2.8" ry="4" fill="#22d256"/><ellipse cx="-7.3" cy="2.5" rx="5" ry="5.2" fill="#22d256"/><ellipse cx="4.8" cy="0.8" rx="2.9" ry="4.4" fill="#22d256"/><ellipse cx="-5.9" cy="6.4" rx="3.1" ry="3.1" fill="#1f9fb4"/><ellipse cx="-2.4" cy="-2.8" rx="2.6" ry="2.5" fill="#1f9fb4"/><ellipse cx="2.8" cy="3.1" rx="3" ry="2.7" fill="#1f9fb4"/><ellipse cx="7.6" cy="3.2" rx="1.9" ry="1.7" fill="#1f9fb4"/><ellipse cx="-0.2" cy="0.5" rx="2.8" ry="2.8" fill="#1f9fb4"/><ellipse cx="-4" cy="4.3" rx="2.9" ry="2.9" fill="#1f9fb4"/><ellipse cx="4.6" cy="23.3" rx="2.9" ry="3.7" fill="#ecf524"/><ellipse cx="-3.9" cy="-23.3" rx="3.5" ry="3.8" fill="#ecf524"/><ellipse cx="-20.9" cy="10.5" rx="4.6" ry="4.1" fill="#ecf524"/><ellipse cx="11.5" cy="-20.5" rx="3.7" ry="4.6" fill="#ecf524"/><ellipse cx="21.3" cy="0.9" rx="3.6" ry="2.1" fill="#ecf524"/><ellipse cx="-8.7" cy="21.8" rx="3" ry="2.2" fill="#ecf524"/><ellipse cx="-10.5" cy="-18.8" rx="3.8" ry="2.4" fill="#ecf524"/><ellipse cx="1.7" cy="-22.5" rx="3.3" ry="3.6" fill="#ff9a1c"/><ellipse cx="-23.6" cy="3.5" rx="3.5" ry="3.9" fill="#ff9a1c"/><ellipse cx="3.8" cy="-21.7" rx="3.8" ry="2.8" fill="#ff9a1c"/><ellipse cx="23.6" cy="-8.8" rx="2.5" ry="3.3" fill="#ff9a1c"/><ellipse cx="-16.9" cy="-12.3" rx="3.5" ry="3.6" fill="#ff9a1c"/><ellipse cx="18.9" cy="-14.5" rx="4.3" ry="3.8" fill="#ff9a1c"/><ellipse cx="0.4" cy="-22.2" rx="3" ry="2.8" fill="#ff9a1c"/><ellipse cx="-4" cy="-20.8" rx="2.8" ry="3.5" fill="#ff9a1c"/><ellipse cx="-23.7" cy="1.5" rx="4.2" ry="3.6" fill="#ff9a1c"/><ellipse cx="18.6" cy="-11.4" rx="3.9" ry="3" fill="#ff9a1c"/><ellipse cx="-23.3" cy="-9.2" rx="2.8" ry="3.2" fill="#ff9a1c"/><ellipse cx="5.2" cy="-23.8" rx="3.2" ry="3.2" fill="#ff2a0a"/><ellipse cx="27.2" cy="0.8" rx="3.1" ry="2.7" fill="#ff2a0a"/><ellipse cx="19.6" cy="-15.2" rx="3.7" ry="2.8" fill="#ff2a0a"/><ellipse cx="12.4" cy="-20.7" rx="2.2" ry="3" fill="#ff2a0a"/><ellipse cx="-23" cy="13.4" rx="2.5" ry="2.5" fill="#ff2a0a"/><ellipse cx="-24.5" cy="-9.1" rx="2.8" ry="2.5" fill="#ff2a0a"/><ellipse cx="-19" cy="16.4" rx="2.7" ry="1.9" fill="#ff2a0a"/><ellipse cx="-16" cy="-18.8" rx="2.2" ry="3.2" fill="#ff2a0a"/><ellipse cx="-16.3" cy="19.2" rx="2.2" ry="2.7" fill="#ff2a0a"/><ellipse cx="-2.1" cy="25.1" rx="2.9" ry="2.6" fill="#ff2a0a"/><ellipse cx="-17" cy="15.9" rx="3.5" ry="2.9" fill="#ff2a0a"/></g>
</g></g>
<g transform="translate(1180.4 1791.1) rotate(0)"><g clip-path="url(#k43)">
<rect x="-20" y="-19" width="40" height="38" fill="#70ee1e"/>
<g filter="url(#bl)"><ellipse cx="9.5" cy="9.8" rx="2.7" ry="3.9" fill="#c2f722"/><ellipse cx="6.6" cy="4.9" rx="4.3" ry="4.4" fill="#c2f722"/><ellipse cx="-2.4" cy="8.9" rx="4.6" ry="3.4" fill="#c2f722"/><ellipse cx="2.7" cy="3.5" rx="4" ry="4.5" fill="#c2f722"/><ellipse cx="12.1" cy="3.5" rx="3.4" ry="3.3" fill="#c2f722"/><ellipse cx="5.4" cy="8.1" rx="2.1" ry="3.4" fill="#c2f722"/><ellipse cx="10.5" cy="-9.6" rx="4.8" ry="4.1" fill="#c2f722"/><ellipse cx="-7.6" cy="-0.5" rx="3.9" ry="2.9" fill="#22d256"/><ellipse cx="-1.9" cy="5.3" rx="4.1" ry="4.2" fill="#22d256"/><ellipse cx="-5.4" cy="2.3" rx="3.3" ry="2.5" fill="#22d256"/><ellipse cx="2.5" cy="5.6" rx="3.5" ry="2.9" fill="#22d256"/><ellipse cx="4.9" cy="4.1" rx="3.3" ry="2.8" fill="#22d256"/><ellipse cx="0.8" cy="4.2" rx="3.5" ry="2.6" fill="#22d256"/><ellipse cx="4.3" cy="-4.1" rx="1.5" ry="1.9" fill="#1f9fb4"/><ellipse cx="-6.4" cy="1.5" rx="1.2" ry="1.6" fill="#1f9fb4"/><ellipse cx="2.1" cy="-2.9" rx="2" ry="1.2" fill="#1f9fb4"/><ellipse cx="-6.1" cy="-0.5" rx="2" ry="2.2" fill="#1f9fb4"/><ellipse cx="-0.1" cy="13.2" rx="2.4" ry="2.4" fill="#ecf524"/><ellipse cx="-12.7" cy="0.5" rx="2.5" ry="2" fill="#ecf524"/><ellipse cx="8.1" cy="6.9" rx="3.3" ry="2.6" fill="#ecf524"/><ellipse cx="-13.6" cy="8" rx="3.5" ry="2.6" fill="#ecf524"/><ellipse cx="-11.3" cy="-6.5" rx="3.5" ry="3.1" fill="#ecf524"/><ellipse cx="-0.3" cy="14.5" rx="2.4" ry="2.9" fill="#ff9a1c"/><ellipse cx="5.8" cy="-13.2" rx="2.4" ry="2.3" fill="#ff9a1c"/><ellipse cx="-1" cy="-15.2" rx="2.9" ry="3" fill="#ff9a1c"/><ellipse cx="-7.1" cy="11.6" rx="2.1" ry="3" fill="#ff9a1c"/><ellipse cx="9.3" cy="10.1" rx="2.2" ry="2.9" fill="#ff9a1c"/><ellipse cx="15.4" cy="1.1" rx="1.6" ry="2.5" fill="#ff9a1c"/><ellipse cx="8.8" cy="11.5" rx="1.9" ry="2.4" fill="#ff9a1c"/><ellipse cx="-1.6" cy="-16.3" rx="2.3" ry="1.4" fill="#ff2a0a"/><ellipse cx="14.6" cy="8" rx="2.7" ry="2.2" fill="#ff2a0a"/><ellipse cx="10.3" cy="12.8" rx="2.9" ry="2.8" fill="#ff2a0a"/><ellipse cx="-15.3" cy="6.1" rx="2.1" ry="2.8" fill="#ff2a0a"/><ellipse cx="15.5" cy="2.9" rx="2" ry="2.1" fill="#ff2a0a"/><ellipse cx="-10.6" cy="13.3" rx="2" ry="2.6" fill="#ff2a0a"/></g>
</g></g>
<g transform="translate(1284.5 1792.3) rotate(0)"><g clip-path="url(#k44)">
<rect x="-23" y="-22" width="46" height="44" fill="#70ee1e"/>
<g filter="url(#bl)"><ellipse cx="-16.4" cy="-5.9" rx="5.7" ry="4.3" fill="#c2f722"/><ellipse cx="-2" cy="-13.9" rx="3.6" ry="3.2" fill="#c2f722"/><ellipse cx="2.3" cy="6" rx="3" ry="3.7" fill="#c2f722"/><ellipse cx="6.9" cy="-9.3" rx="5.2" ry="5.8" fill="#c2f722"/><ellipse cx="5" cy="10.5" rx="4.9" ry="4.7" fill="#c2f722"/><ellipse cx="-2.2" cy="4.1" rx="5.1" ry="4.4" fill="#c2f722"/><ellipse cx="5.3" cy="-14.6" rx="4.6" ry="5" fill="#c2f722"/><ellipse cx="14" cy="-4.7" rx="3.8" ry="2.5" fill="#c2f722"/><ellipse cx="-3.7" cy="9.5" rx="3.8" ry="3" fill="#22d256"/><ellipse cx="5.6" cy="-2.1" rx="5" ry="4.4" fill="#22d256"/><ellipse cx="9.8" cy="-3.3" rx="3.8" ry="4.7" fill="#22d256"/><ellipse cx="1.6" cy="8.3" rx="3" ry="3.5" fill="#22d256"/><ellipse cx="-7.6" cy="6.2" rx="4.4" ry="4.9" fill="#22d256"/><ellipse cx="-10.6" cy="-2.3" rx="4.2" ry="5" fill="#22d256"/><ellipse cx="1.9" cy="-1.3" rx="3" ry="3.5" fill="#22d256"/><ellipse cx="0.1" cy="-6.3" rx="1.8" ry="1.7" fill="#1f9fb4"/><ellipse cx="-4.4" cy="-6.3" rx="2.5" ry="2" fill="#1f9fb4"/><ellipse cx="6.2" cy="-2.4" rx="1.7" ry="1.3" fill="#1f9fb4"/><ellipse cx="-2.2" cy="2.3" rx="1.4" ry="2.1" fill="#1f9fb4"/><ellipse cx="14.1" cy="9.6" rx="2.8" ry="2.9" fill="#ecf524"/><ellipse cx="-11.4" cy="-11.7" rx="2.9" ry="2.4" fill="#ecf524"/><ellipse cx="-10.1" cy="-8.6" rx="3.3" ry="3.1" fill="#ecf524"/><ellipse cx="0.6" cy="14" rx="2.4" ry="3.9" fill="#ecf524"/><ellipse cx="-15.4" cy="-1.2" rx="2.6" ry="1.7" fill="#ecf524"/><ellipse cx="-13.8" cy="3.8" rx="2" ry="3.2" fill="#ecf524"/><ellipse cx="9.1" cy="-16" rx="1.9" ry="2.7" fill="#ff9a1c"/><ellipse cx="-7.5" cy="15.7" rx="3.4" ry="2.7" fill="#ff9a1c"/><ellipse cx="18.4" cy="-0.2" rx="2.5" ry="1.6" fill="#ff9a1c"/><ellipse cx="13.4" cy="13.6" rx="2.5" ry="1.6" fill="#ff9a1c"/><ellipse cx="-15.3" cy="9.6" rx="2.1" ry="3.2" fill="#ff9a1c"/><ellipse cx="-12.9" cy="13.3" rx="3" ry="3.4" fill="#ff9a1c"/><ellipse cx="-19.1" cy="4.5" rx="2.7" ry="2" fill="#ff9a1c"/><ellipse cx="16.1" cy="-0.5" rx="3.3" ry="2.6" fill="#ff9a1c"/><ellipse cx="9.8" cy="-14.6" rx="2.8" ry="2" fill="#ff2a0a"/><ellipse cx="-4.3" cy="-17.8" rx="2.3" ry="2.1" fill="#ff2a0a"/><ellipse cx="-18.5" cy="-7.4" rx="3.2" ry="2.2" fill="#ff2a0a"/><ellipse cx="6.6" cy="-16.7" rx="3.1" ry="2.3" fill="#ff2a0a"/><ellipse cx="-18" cy="-9.7" rx="2.8" ry="3.1" fill="#ff2a0a"/><ellipse cx="-19" cy="4.9" rx="3" ry="2.3" fill="#ff2a0a"/><ellipse cx="4" cy="18.1" rx="1.5" ry="2.3" fill="#ff2a0a"/></g>
</g></g>
<g transform="translate(966.4 1905.5) rotate(-10)"><g clip-path="url(#k45)">
<rect x="-36" y="-30.5" width="72" height="61" fill="#70ee1e"/>
<g filter="url(#bl)"><ellipse cx="-13" cy="-20.5" rx="6.5" ry="6.4" fill="#c2f722"/><ellipse cx="-23.7" cy="14.6" rx="4.5" ry="6.4" fill="#c2f722"/><ellipse cx="-27.1" cy="-3.4" rx="4.6" ry="4.4" fill="#c2f722"/><ellipse cx="-16.4" cy="-9" rx="5.3" ry="4.1" fill="#c2f722"/><ellipse cx="-23.7" cy="7.4" rx="4.2" ry="6.7" fill="#c2f722"/><ellipse cx="13.4" cy="-4.3" rx="5" ry="6.5" fill="#c2f722"/><ellipse cx="20" cy="1.3" rx="3.7" ry="5.9" fill="#c2f722"/><ellipse cx="-6.5" cy="22.7" rx="4.4" ry="6.3" fill="#c2f722"/><ellipse cx="-21.9" cy="10.5" rx="5.1" ry="3.8" fill="#c2f722"/><ellipse cx="1.6" cy="16.7" rx="5.1" ry="6.3" fill="#c2f722"/><ellipse cx="-13.3" cy="15.5" rx="4.9" ry="3.7" fill="#c2f722"/><ellipse cx="-9.2" cy="8.8" rx="6.7" ry="4.2" fill="#c2f722"/><ellipse cx="11.2" cy="6.3" rx="5.2" ry="3.9" fill="#22d256"/><ellipse cx="7.6" cy="-5.7" rx="4" ry="2.7" fill="#22d256"/><ellipse cx="-12.8" cy="-7.6" rx="4.8" ry="3.5" fill="#22d256"/><ellipse cx="-15.8" cy="-6" rx="4.3" ry="3.1" fill="#22d256"/><ellipse cx="10.3" cy="-5.7" rx="5.7" ry="3.7" fill="#22d256"/><ellipse cx="-7.2" cy="11.1" rx="3.1" ry="4.6" fill="#22d256"/><ellipse cx="-2.5" cy="-12.6" rx="4.6" ry="6" fill="#22d256"/><ellipse cx="3.3" cy="-7.1" rx="4.4" ry="5.6" fill="#22d256"/><ellipse cx="8.5" cy="1.4" rx="5.6" ry="4.4" fill="#22d256"/><ellipse cx="4.6" cy="-10.4" rx="3.7" ry="6.2" fill="#22d256"/><ellipse cx="-3" cy="-0.5" rx="3.1" ry="2.1" fill="#1f9fb4"/><ellipse cx="-1.1" cy="6.7" rx="1.8" ry="2.6" fill="#1f9fb4"/><ellipse cx="-5.2" cy="-7.6" rx="2" ry="2.1" fill="#1f9fb4"/><ellipse cx="1.2" cy="5.8" rx="2.4" ry="1.9" fill="#1f9fb4"/><ellipse cx="8" cy="4.9" rx="2" ry="2.8" fill="#1f9fb4"/><ellipse cx="-11.7" cy="3.5" rx="2.4" ry="3" fill="#1f9fb4"/><ellipse cx="-18.5" cy="19.2" rx="3.9" ry="2.9" fill="#ecf524"/><ellipse cx="26.9" cy="5.8" rx="2.8" ry="4.3" fill="#ecf524"/><ellipse cx="14.4" cy="-15.3" rx="4" ry="3" fill="#ecf524"/><ellipse cx="-18.9" cy="12.9" rx="4.7" ry="4.2" fill="#ecf524"/><ellipse cx="-13.1" cy="18.6" rx="3.6" ry="3.8" fill="#ecf524"/><ellipse cx="-9.5" cy="-16.8" rx="4.1" ry="2.9" fill="#ecf524"/><ellipse cx="-20.6" cy="19.2" rx="4.1" ry="3" fill="#ecf524"/><ellipse cx="25.7" cy="-9.9" rx="4.6" ry="3.8" fill="#ecf524"/><ellipse cx="20.4" cy="20.5" rx="3.4" ry="3.9" fill="#ff9a1c"/><ellipse cx="2.5" cy="-25" rx="3.4" ry="3.4" fill="#ff9a1c"/><ellipse cx="-13.9" cy="-24.1" rx="4" ry="3" fill="#ff9a1c"/><ellipse cx="25.7" cy="-14.4" rx="2.9" ry="3.6" fill="#ff9a1c"/><ellipse cx="24.5" cy="-17.1" rx="3.8" ry="3" fill="#ff9a1c"/><ellipse cx="29" cy="3.2" rx="2.8" ry="3.3" fill="#ff9a1c"/><ellipse cx="-25.3" cy="-16.8" rx="2.3" ry="3.6" fill="#ff9a1c"/><ellipse cx="15.2" cy="-21.3" rx="2.2" ry="3.6" fill="#ff9a1c"/><ellipse cx="32.4" cy="0.1" rx="2.2" ry="3" fill="#ff9a1c"/><ellipse cx="-25.1" cy="-10.4" rx="3.9" ry="3.4" fill="#ff9a1c"/><ellipse cx="23.7" cy="13.2" rx="2.2" ry="3.1" fill="#ff9a1c"/><ellipse cx="31.3" cy="5" rx="3.3" ry="3" fill="#ff9a1c"/><ellipse cx="8.5" cy="-23.8" rx="3.3" ry="3.1" fill="#ff2a0a"/><ellipse cx="-25.2" cy="-16.1" rx="3" ry="3.7" fill="#ff2a0a"/><ellipse cx="-32" cy="0.7" rx="2.8" ry="2.4" fill="#ff2a0a"/><ellipse cx="-16.9" cy="-20.4" rx="2.8" ry="3.1" fill="#ff2a0a"/><ellipse cx="-32.9" cy="-0.9" rx="2.4" ry="3.3" fill="#ff2a0a"/><ellipse cx="-8.7" cy="-24.4" rx="3.3" ry="2.7" fill="#ff2a0a"/><ellipse cx="26.1" cy="18.4" rx="3.4" ry="3.5" fill="#ff2a0a"/><ellipse cx="-5.9" cy="-25.8" rx="3.1" ry="3.5" fill="#ff2a0a"/><ellipse cx="30.1" cy="-8.6" rx="2.8" ry="3.2" fill="#ff2a0a"/><ellipse cx="24.8" cy="-15.9" rx="2.5" ry="3.7" fill="#ff2a0a"/><ellipse cx="-26" cy="-13.9" rx="3.1" ry="2.1" fill="#ff2a0a"/><ellipse cx="-2.6" cy="-27.4" rx="2.7" ry="1.7" fill="#ff2a0a"/></g>
</g></g>
<g transform="translate(1081.9 1891.5) rotate(35)"><g clip-path="url(#k46)">
<rect x="-26" y="-22" width="52" height="44" fill="#70ee1e"/>
<g filter="url(#bl)"><ellipse cx="11.5" cy="-5.3" rx="3.9" ry="3.8" fill="#c2f722"/><ellipse cx="16.3" cy="-10.3" rx="3" ry="4.5" fill="#c2f722"/><ellipse cx="-13.4" cy="0.7" rx="5.3" ry="3.7" fill="#c2f722"/><ellipse cx="2.8" cy="9.4" rx="5.4" ry="3.8" fill="#c2f722"/><ellipse cx="-2" cy="11.2" rx="4.6" ry="3.2" fill="#c2f722"/><ellipse cx="18.6" cy="-6" rx="2.4" ry="3.9" fill="#c2f722"/><ellipse cx="-1" cy="-12.9" rx="5.7" ry="5.7" fill="#c2f722"/><ellipse cx="-1" cy="11.2" rx="3.7" ry="2.8" fill="#c2f722"/><ellipse cx="-2.2" cy="4.1" rx="4.3" ry="4.1" fill="#22d256"/><ellipse cx="6.4" cy="4.4" rx="3.4" ry="3.7" fill="#22d256"/><ellipse cx="-11.1" cy="3.4" rx="3.8" ry="3" fill="#22d256"/><ellipse cx="-3.2" cy="7.2" rx="4.5" ry="3.3" fill="#22d256"/><ellipse cx="-10.2" cy="4.5" rx="4.3" ry="3.8" fill="#22d256"/><ellipse cx="-2.6" cy="-6.2" rx="2.6" ry="3.5" fill="#22d256"/><ellipse cx="11" cy="0.8" rx="4.3" ry="3.4" fill="#22d256"/><ellipse cx="3" cy="1.1" rx="2.4" ry="1.5" fill="#1f9fb4"/><ellipse cx="-9" cy="-0.4" rx="2" ry="2.6" fill="#1f9fb4"/><ellipse cx="-7.4" cy="2.7" rx="2.1" ry="1.9" fill="#1f9fb4"/><ellipse cx="0" cy="-5.4" rx="2.5" ry="2" fill="#1f9fb4"/><ellipse cx="-18.8" cy="8.5" rx="4" ry="3.3" fill="#ecf524"/><ellipse cx="15" cy="9.4" rx="3.9" ry="2.7" fill="#ecf524"/><ellipse cx="-0.6" cy="16.4" rx="3" ry="2.5" fill="#ecf524"/><ellipse cx="20.3" cy="3.5" rx="2.3" ry="3.4" fill="#ecf524"/><ellipse cx="-18.9" cy="-5.6" rx="1.8" ry="2.8" fill="#ecf524"/><ellipse cx="-11.6" cy="-10.8" rx="3.3" ry="3.7" fill="#ecf524"/><ellipse cx="-16.2" cy="-8.4" rx="2.8" ry="3.2" fill="#ff9a1c"/><ellipse cx="-9.6" cy="-13.7" rx="3.7" ry="3" fill="#ff9a1c"/><ellipse cx="-9.5" cy="-14" rx="2.9" ry="3.4" fill="#ff9a1c"/><ellipse cx="-7.7" cy="-17" rx="3.3" ry="2.3" fill="#ff9a1c"/><ellipse cx="17.3" cy="-9.1" rx="3.6" ry="3.6" fill="#ff9a1c"/><ellipse cx="7.1" cy="15.1" rx="2" ry="3.1" fill="#ff9a1c"/><ellipse cx="-2.1" cy="-15.2" rx="3.2" ry="2.5" fill="#ff9a1c"/><ellipse cx="-1.1" cy="17.1" rx="2.7" ry="1.6" fill="#ff9a1c"/><ellipse cx="-14.5" cy="13.3" rx="3.2" ry="2.4" fill="#ff2a0a"/><ellipse cx="14" cy="14.1" rx="3.1" ry="2.9" fill="#ff2a0a"/><ellipse cx="18.5" cy="-9.1" rx="2.2" ry="1.4" fill="#ff2a0a"/><ellipse cx="-21" cy="-5.1" rx="2.9" ry="2" fill="#ff2a0a"/><ellipse cx="-18.4" cy="8.7" rx="3" ry="2" fill="#ff2a0a"/><ellipse cx="1.6" cy="-18.3" rx="1.8" ry="2.6" fill="#ff2a0a"/><ellipse cx="-7.3" cy="-17.1" rx="2" ry="2.7" fill="#ff2a0a"/><ellipse cx="12.1" cy="16.4" rx="2.6" ry="1.7" fill="#ff2a0a"/></g>
</g></g>
<g transform="translate(1176.6 1899.1) rotate(0)"><g clip-path="url(#k47)">
<rect x="-32.5" y="-30.5" width="65" height="61" fill="#70ee1e"/>
<g filter="url(#bl)"><ellipse cx="19.8" cy="-13.3" rx="4.5" ry="6.8" fill="#c2f722"/><ellipse cx="7.8" cy="-12.6" rx="4.9" ry="3" fill="#c2f722"/><ellipse cx="-12.6" cy="-3.8" rx="4.3" ry="5" fill="#c2f722"/><ellipse cx="5.6" cy="-22.6" rx="5.4" ry="3.5" fill="#c2f722"/><ellipse cx="-2.9" cy="9.2" rx="5.1" ry="6.2" fill="#c2f722"/><ellipse cx="0.4" cy="21.3" rx="6.8" ry="5" fill="#c2f722"/><ellipse cx="3.4" cy="17.1" rx="5.9" ry="4.2" fill="#c2f722"/><ellipse cx="-7.7" cy="-1.9" rx="3.5" ry="4.6" fill="#c2f722"/><ellipse cx="-19.9" cy="-5.6" rx="6" ry="5.7" fill="#c2f722"/><ellipse cx="1.4" cy="-9.8" rx="6.7" ry="6.5" fill="#c2f722"/><ellipse cx="9.4" cy="-16.5" rx="3.6" ry="5.5" fill="#c2f722"/><ellipse cx="-5.4" cy="-21.6" rx="6.7" ry="5.4" fill="#c2f722"/><ellipse cx="-1.5" cy="1.5" rx="4.9" ry="4" fill="#22d256"/><ellipse cx="0.3" cy="2.4" rx="5.6" ry="3.8" fill="#22d256"/><ellipse cx="-5.5" cy="-2.2" rx="4.6" ry="5.1" fill="#22d256"/><ellipse cx="3.7" cy="-1" rx="4.2" ry="3.6" fill="#22d256"/><ellipse cx="-12.5" cy="-8.7" rx="4.4" ry="2.7" fill="#22d256"/><ellipse cx="-6.1" cy="7.7" rx="4.6" ry="4.8" fill="#22d256"/><ellipse cx="-4.4" cy="-10.6" rx="4.4" ry="4.6" fill="#22d256"/><ellipse cx="-2.2" cy="6.3" rx="4.9" ry="5.5" fill="#22d256"/><ellipse cx="9.3" cy="7.9" rx="4.7" ry="3.8" fill="#22d256"/><ellipse cx="3.5" cy="0" rx="5.5" ry="5.8" fill="#22d256"/><ellipse cx="1.3" cy="7.1" rx="3.1" ry="2.2" fill="#1f9fb4"/><ellipse cx="9.4" cy="5.7" rx="2" ry="1.7" fill="#1f9fb4"/><ellipse cx="-2" cy="-10.3" rx="2.4" ry="2.4" fill="#1f9fb4"/><ellipse cx="-1.6" cy="9.5" rx="2.2" ry="3.2" fill="#1f9fb4"/><ellipse cx="1.1" cy="-8.3" rx="2.5" ry="3.2" fill="#1f9fb4"/><ellipse cx="3.1" cy="5" rx="3.1" ry="2.2" fill="#1f9fb4"/><ellipse cx="7.9" cy="-21.3" rx="2.2" ry="3.6" fill="#ecf524"/><ellipse cx="13" cy="-22.8" rx="4.8" ry="3.4" fill="#ecf524"/><ellipse cx="-20.5" cy="7.5" rx="4.7" ry="4.4" fill="#ecf524"/><ellipse cx="-4.3" cy="17.3" rx="2.4" ry="3.4" fill="#ecf524"/><ellipse cx="-19.4" cy="-8.6" rx="3.3" ry="3.5" fill="#ecf524"/><ellipse cx="17.8" cy="0.3" rx="4.1" ry="2.5" fill="#ecf524"/><ellipse cx="22.8" cy="3.5" rx="3.4" ry="4.2" fill="#ecf524"/><ellipse cx="14.7" cy="-22" rx="4.5" ry="4.4" fill="#ecf524"/><ellipse cx="-18.2" cy="18.6" rx="3.3" ry="3.6" fill="#ff9a1c"/><ellipse cx="3.9" cy="24.4" rx="3.8" ry="3.8" fill="#ff9a1c"/><ellipse cx="26" cy="0.6" rx="4.3" ry="2.7" fill="#ff9a1c"/><ellipse cx="-23.2" cy="-15.6" rx="3.4" ry="2.9" fill="#ff9a1c"/><ellipse cx="26.7" cy="-4.4" rx="3.4" ry="3" fill="#ff9a1c"/><ellipse cx="-11.8" cy="-23.4" rx="3.1" ry="3.5" fill="#ff9a1c"/><ellipse cx="2.7" cy="22.5" rx="2.5" ry="3.8" fill="#ff9a1c"/><ellipse cx="-7.6" cy="23.1" rx="3.6" ry="3.5" fill="#ff9a1c"/><ellipse cx="-24.9" cy="-7.4" rx="3.8" ry="3.5" fill="#ff9a1c"/><ellipse cx="-25.7" cy="-1.9" rx="2.2" ry="3.2" fill="#ff9a1c"/><ellipse cx="-5.1" cy="21.7" rx="3" ry="3.6" fill="#ff9a1c"/><ellipse cx="1" cy="-24.6" rx="3.9" ry="3" fill="#ff9a1c"/><ellipse cx="-11.6" cy="-22.8" rx="3.3" ry="2.3" fill="#ff2a0a"/><ellipse cx="-18.9" cy="18.6" rx="2.6" ry="2.6" fill="#ff2a0a"/><ellipse cx="-0.3" cy="28.3" rx="2" ry="2.6" fill="#ff2a0a"/><ellipse cx="-12.7" cy="-25.2" rx="2.8" ry="3.9" fill="#ff2a0a"/><ellipse cx="5.7" cy="24.2" rx="2.9" ry="2.5" fill="#ff2a0a"/><ellipse cx="22.5" cy="15.1" rx="3.1" ry="3.7" fill="#ff2a0a"/><ellipse cx="24.1" cy="10.9" rx="2.4" ry="2.8" fill="#ff2a0a"/><ellipse cx="-30" cy="-0.5" rx="1.8" ry="2.5" fill="#ff2a0a"/><ellipse cx="-22.9" cy="-17.6" rx="2.7" ry="3.5" fill="#ff2a0a"/><ellipse cx="-20" cy="-19" rx="3.8" ry="3.1" fill="#ff2a0a"/><ellipse cx="-14.4" cy="-23" rx="3.2" ry="2.8" fill="#ff2a0a"/><ellipse cx="27.9" cy="-0.2" rx="3.2" ry="3.2" fill="#ff2a0a"/></g>
</g></g>
<g transform="translate(1281.9 1898.3) rotate(0)"><g clip-path="url(#k48)">
<rect x="-23" y="-22.5" width="46" height="45" fill="#70ee1e"/>
<g filter="url(#bl)"><ellipse cx="-14.7" cy="2.6" rx="4.5" ry="3.8" fill="#c2f722"/><ellipse cx="5.5" cy="1.5" rx="4.8" ry="4.6" fill="#c2f722"/><ellipse cx="-9.2" cy="3.2" rx="3.9" ry="3.4" fill="#c2f722"/><ellipse cx="-5.1" cy="4" rx="4.2" ry="3.7" fill="#c2f722"/><ellipse cx="-13.8" cy="9.7" rx="2.7" ry="4.5" fill="#c2f722"/><ellipse cx="11.8" cy="-9.5" rx="2.7" ry="3.8" fill="#c2f722"/><ellipse cx="-4.8" cy="0.6" rx="4.6" ry="5.7" fill="#c2f722"/><ellipse cx="13.6" cy="2.7" rx="5.7" ry="5.1" fill="#c2f722"/><ellipse cx="10.4" cy="-10.3" rx="3.7" ry="2.7" fill="#c2f722"/><ellipse cx="-4.4" cy="2.5" rx="3.4" ry="3.2" fill="#22d256"/><ellipse cx="-2.3" cy="7" rx="5" ry="3.3" fill="#22d256"/><ellipse cx="1.1" cy="10.1" rx="4.8" ry="4.9" fill="#22d256"/><ellipse cx="-6.2" cy="-0.3" rx="4" ry="3.9" fill="#22d256"/><ellipse cx="10.5" cy="-0.4" rx="4.2" ry="3.7" fill="#22d256"/><ellipse cx="-9.6" cy="4.3" rx="3.5" ry="4.8" fill="#22d256"/><ellipse cx="-1.6" cy="-4" rx="2.6" ry="3.8" fill="#22d256"/><ellipse cx="6.7" cy="-4.2" rx="2.6" ry="2.1" fill="#1f9fb4"/><ellipse cx="-2" cy="-4.8" rx="1.5" ry="2.2" fill="#1f9fb4"/><ellipse cx="-2.7" cy="3.9" rx="1.7" ry="2.4" fill="#1f9fb4"/><ellipse cx="5" cy="-4.9" rx="2.5" ry="2.7" fill="#1f9fb4"/><ellipse cx="-18" cy="1.3" rx="2.6" ry="3.8" fill="#ecf524"/><ellipse cx="-10.3" cy="-6.3" rx="3" ry="2.7" fill="#ecf524"/><ellipse cx="-15.5" cy="5.2" rx="2.5" ry="3.4" fill="#ecf524"/><ellipse cx="-0.9" cy="-17.2" rx="3.3" ry="3" fill="#ecf524"/><ellipse cx="-6.4" cy="-16.3" rx="4" ry="2.5" fill="#ecf524"/><ellipse cx="-16.9" cy="5.1" rx="3.7" ry="2.4" fill="#ecf524"/><ellipse cx="16.1" cy="9.8" rx="2.2" ry="2.9" fill="#ff9a1c"/><ellipse cx="6.8" cy="-16.9" rx="2.6" ry="2.8" fill="#ff9a1c"/><ellipse cx="5.9" cy="-17.1" rx="3.5" ry="2.9" fill="#ff9a1c"/><ellipse cx="-6.1" cy="-16.5" rx="2.7" ry="3.2" fill="#ff9a1c"/><ellipse cx="-6.7" cy="17.6" rx="3.5" ry="3.5" fill="#ff9a1c"/><ellipse cx="-17.7" cy="-0.5" rx="3.4" ry="2.9" fill="#ff9a1c"/><ellipse cx="-0.3" cy="-17.2" rx="2.8" ry="1.7" fill="#ff9a1c"/><ellipse cx="-15.9" cy="7.6" rx="2.5" ry="2" fill="#ff9a1c"/><ellipse cx="-3.2" cy="18.3" rx="3.5" ry="3" fill="#ff9a1c"/><ellipse cx="0.1" cy="19.4" rx="2.8" ry="2.8" fill="#ff2a0a"/><ellipse cx="-12.5" cy="15.9" rx="2.8" ry="2.1" fill="#ff2a0a"/><ellipse cx="10.7" cy="14.8" rx="3.1" ry="2.5" fill="#ff2a0a"/><ellipse cx="4.3" cy="18.4" rx="2.4" ry="2.2" fill="#ff2a0a"/><ellipse cx="-15" cy="11.6" rx="2.4" ry="1.6" fill="#ff2a0a"/><ellipse cx="-7" cy="16.5" rx="2.6" ry="2" fill="#ff2a0a"/><ellipse cx="-14.4" cy="12.3" rx="2.9" ry="3.2" fill="#ff2a0a"/><ellipse cx="-15" cy="10.9" rx="2.3" ry="1.8" fill="#ff2a0a"/><ellipse cx="15.3" cy="11.7" rx="2" ry="2.3" fill="#ff2a0a"/></g>
</g></g>
<rect x="1273" y="1930.1" width="42.2" height="8.7" fill="#fff"/>
<rect x="914" y="1951.7" width="421" height="19.9" fill="url(#jet)"/>
<rect x="914" y="1951.7" width="3.6" height="19.9" fill="#000"/>
<path d="M914 1951.9H1335" stroke="#9a9a9a" stroke-width="0.8"/>
<text transform="translate(976.5 2001.1)" font-size="30.2" text-anchor="middle">Median -</text>
<text transform="translate(977.5 2036.5)" font-size="30.2" text-anchor="middle">1.6 IQR</text>
<text transform="translate(1267 2001.1)" font-size="30.2" text-anchor="middle">Median +</text>
<text transform="translate(1268 2036.5)" font-size="30.2" text-anchor="middle">1.6 IQR</text>
<path d="M1080 2008.3H1168" stroke="#000" stroke-width="2" fill="none"/>
<path d="M1064.8 2008.3 L1082 1999.8 V2016.8 Z M1183.2 2008.3 L1166 1999.8 V2016.8 Z" fill="#000"/>
</svg>
</body></html>
